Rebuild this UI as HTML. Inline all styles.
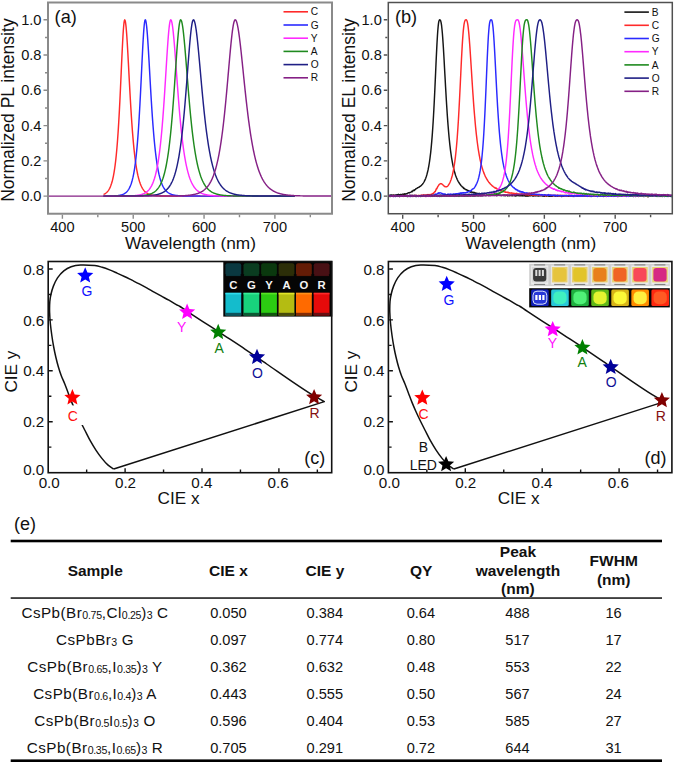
<!DOCTYPE html><html><head><meta charset="utf-8"><title>figure</title><style>html,body{margin:0;padding:0;background:#fff;overflow:hidden}svg{display:block}</style></head><body>
<svg width="675" height="765" viewBox="0 0 675 765">
<rect width="675" height="765" fill="#fff"/>
<g fill="none" stroke-width="1.45" stroke-linejoin="round">
<path d="M103.48,194.46 L103.84,194.3 L104.19,194.13 L104.54,193.95 L104.9,193.75 L105.25,193.53 L105.61,193.29 L105.96,193.02 L106.31,192.74 L106.67,192.42 L107.02,192.08 L107.38,191.7 L107.73,191.29 L108.09,190.84 L108.44,190.35 L108.79,189.81 L109.15,189.22 L109.5,188.58 L109.86,187.88 L110.21,187.11 L110.56,186.27 L110.92,185.35 L111.27,184.34 L111.63,183.25 L111.98,182.05 L112.34,180.74 L112.69,179.31 L113.04,177.74 L113.4,176.03 L113.75,174.17 L114.11,172.14 L114.46,169.92 L114.81,167.5 L115.17,164.86 L115.52,161.99 L115.88,158.87 L116.23,155.47 L116.58,151.78 L116.94,147.79 L117.29,143.46 L117.65,138.79 L118,133.76 L118.36,128.36 L118.71,122.57 L119.06,116.4 L119.42,109.85 L119.77,102.95 L120.13,95.71 L120.48,88.2 L120.83,80.47 L121.19,72.61 L121.54,64.74 L121.9,56.98 L122.25,49.5 L122.61,42.47 L122.96,36.08 L123.31,30.52 L123.67,25.97 L124.02,22.59 L124.38,20.5 L124.73,19.8 L125.08,20.31 L125.44,21.83 L125.79,24.31 L126.15,27.69 L126.5,31.87 L126.86,36.75 L127.21,42.22 L127.56,48.16 L127.92,54.45 L128.27,60.98 L128.63,67.65 L128.98,74.36 L129.33,81.05 L129.69,87.63 L130.04,94.06 L130.4,100.3 L130.75,106.31 L131.11,112.07 L131.46,117.57 L131.81,122.79 L132.17,127.73 L132.52,132.4 L132.88,136.79 L133.23,140.91 L133.58,144.78 L133.94,148.4 L134.29,151.78 L134.65,154.94 L135,157.89 L135.35,160.63 L135.71,163.19 L136.06,165.57 L136.42,167.78 L136.77,169.83 L137.13,171.74 L137.48,173.51 L137.83,175.16 L138.19,176.68 L138.54,178.1 L138.9,179.42 L139.25,180.64 L139.6,181.77 L139.96,182.81 L140.31,183.79 L140.67,184.69 L141.02,185.52 L141.38,186.3 L141.73,187.02 L142.08,187.68 L142.44,188.3 L142.79,188.87 L143.15,189.4 L143.5,189.89 L143.85,190.35 L144.21,190.77 L144.56,191.16 L144.92,191.52 L145.27,191.86 L145.63,192.17 L145.98,192.46 L146.33,192.73 L146.69,192.97 L147.04,193.2 L147.4,193.42 L147.75,193.61 L148.1,193.79 L148.46,193.96 L148.81,194.12 L149.17,194.27 L149.52,194.4 L149.88,194.53 L150.23,194.64 L150.58,194.75 L150.94,194.85 L151.29,194.94 L151.65,195.02 L152,195.1 L152.35,195.18 L152.71,195.24 L153.06,195.31 L153.42,195.37 L153.77,195.42 L154.12,195.47 L154.48,195.52 L154.83,195.56 L155.19,195.6 L155.54,195.63 L155.9,195.67 L156.25,195.7 L156.6,195.73 L156.96,195.76 L157.31,195.78 L157.67,195.81 L158.02,195.83 L158.37,195.85 L158.73,195.87 L159.08,195.88 L159.44,195.9 L159.79,195.91 L160.15,195.93 L160.5,195.94 L160.85,195.95 L161.21,195.96 L161.56,195.97 L161.92,195.98 L162.27,195.99 L162.62,196 L162.98,196.01 L163.33,196.01 L163.69,196.02 L164.04,196.03 L164.4,196.03 L164.75,196.04 L165.1,196.04 L165.46,196.04 L165.81,196.05 L166.17,196.05 L166.52,196.06 L166.87,196.06 L167.23,196.06 L167.58,196.07 L167.94,196.07 L168.29,196.07 L168.65,196.07 L169,196.07 L169.35,196.08 L169.71,196.08 L170.06,196.08 L170.42,196.08 L170.77,196.08 L171.12,196.08 L171.48,196.08 L171.83,196.09 L172.19,196.09 L172.54,196.09 L172.89,196.09 L173.25,196.09 L173.6,196.09 L173.96,196.09 L174.31,196.09 L174.67,196.09 L175.02,196.09 L175.37,196.09 L175.73,196.09 L176.08,196.09 L176.44,196.09 L176.79,196.1 L177.14,196.1 L177.5,196.1 L177.85,196.1 L178.21,196.1 L178.56,196.1 L178.92,196.1 L179.27,196.1 L179.62,196.1 L179.98,196.1 L180.33,196.1 L180.69,196.1 L181.04,196.1 L181.39,196.1 L181.75,196.1 L182.1,196.1 L182.46,196.1 L182.81,196.1 L183.17,196.1 L183.52,196.1 L183.87,196.1 L184.23,196.1 L184.58,196.1 L184.94,196.1 L185.29,196.1 L185.64,196.1 L186,196.1 L186.35,196.1 L186.71,196.1 L187.06,196.1 L187.41,196.1 L187.77,196.1 L188.12,196.1 L188.48,196.1 L188.83,196.1 L189.19,196.1 L189.54,196.1 L189.89,196.1 L190.25,196.1 L190.6,196.1 L190.96,196.1 L191.31,196.1 L191.66,196.1 L192.02,196.1 L192.37,196.1 L192.73,196.1 L193.08,196.1 L193.44,196.1 L193.79,196.1 L194.14,196.1 L194.5,196.1 L194.85,196.1 L195.21,196.1 L195.56,196.1 L195.91,196.1 L196.27,196.1 L196.62,196.1 L196.98,196.1 L197.33,196.1 L197.69,196.1 L198.04,196.1 L198.39,196.1 L198.75,196.1 L199.1,196.1 L199.46,196.1 L199.81,196.1 L200.16,196.1 L200.52,196.1 L200.87,196.1 L201.23,196.1 L201.58,196.1 L201.94,196.1 L202.29,196.1 L202.64,196.1 L203,196.1 L203.35,196.1 L203.71,196.1 L204.06,196.1 L204.41,196.1 L204.77,196.1 L205.12,196.1 L205.48,196.1 L205.83,196.1 L206.18,196.1 L206.54,196.1 L206.89,196.1 L207.25,196.1 L207.6,196.1 L207.96,196.1 L208.31,196.1 L208.66,196.1 L209.02,196.1 L209.37,196.1 L209.73,196.1 L210.08,196.1 L210.43,196.1 L210.79,196.1 L211.14,196.1 L211.5,196.1 L211.85,196.1 L212.21,196.1 L212.56,196.1 L212.91,196.1 L213.27,196.1 L213.62,196.1 L213.98,196.1 L214.33,196.1 L214.68,196.1 L215.04,196.1 L215.39,196.1 L215.75,196.1 L216.1,196.1 L216.46,196.1 L216.81,196.1 L217.16,196.1 L217.52,196.1 L217.87,196.1 L218.23,196.1 L218.58,196.1 L218.93,196.1 L219.29,196.1 L219.64,196.1 L220,196.1 L220.35,196.1 L220.71,196.1 L221.06,196.1 L221.41,196.1 L221.77,196.1 L222.12,196.1 L222.48,196.1 L222.83,196.1 L223.18,196.1 L223.54,196.1 L223.89,196.1 L224.25,196.1 L224.6,196.1 L224.95,196.1 L225.31,196.1 L225.66,196.1 L226.02,196.1 L226.37,196.1 L226.73,196.1 L227.08,196.1 L227.43,196.1 L227.79,196.1 L228.14,196.1 L228.5,196.1 L228.85,196.1 L229.2,196.1 L229.56,196.1 L229.91,196.1 L230.27,196.1 L230.62,196.1 L230.98,196.1 L231.33,196.1 L231.68,196.1 L232.04,196.1 L232.39,196.1 L232.75,196.1 L233.1,196.1 L233.45,196.1 L233.81,196.1 L234.16,196.1 L234.52,196.1 L234.87,196.1 L235.23,196.1 L235.58,196.1 L235.93,196.1 L236.29,196.1 L236.64,196.1 L237,196.1 L237.35,196.1 L237.7,196.1 L238.06,196.1 L238.41,196.1 L238.77,196.1 L239.12,196.1 L239.48,196.1 L239.83,196.1 L240.18,196.1 L240.54,196.1 L240.89,196.1 L241.25,196.1 L241.6,196.1 L241.95,196.1 L242.31,196.1 L242.66,196.1 L243.02,196.1 L243.37,196.1 L243.72,196.1 L244.08,196.1 L244.43,196.1 L244.79,196.1 L245.14,196.1 L245.5,196.1 L245.85,196.1 L246.2,196.1 L246.56,196.1 L246.91,196.1 L247.27,196.1 L247.62,196.1 L247.97,196.1 L248.33,196.1 L248.68,196.1 L249.04,196.1 L249.39,196.1 L249.75,196.1 L250.1,196.1 L250.45,196.1 L250.81,196.1 L251.16,196.1 L251.52,196.1 L251.87,196.1 L252.22,196.1 L252.58,196.1 L252.93,196.1 L253.29,196.1 L253.64,196.1 L254,196.1 L254.35,196.1 L254.7,196.1 L255.06,196.1 L255.41,196.1 L255.77,196.1 L256.12,196.1 L256.47,196.1 L256.83,196.1 L257.18,196.1 L257.54,196.1 L257.89,196.1 L258.24,196.1 L258.6,196.1 L258.95,196.1 L259.31,196.1 L259.66,196.1 L260.02,196.1 L260.37,196.1 L260.72,196.1 L261.08,196.1 L261.43,196.1 L261.79,196.1 L262.14,196.1 L262.49,196.1 L262.85,196.1 L263.2,196.1 L263.56,196.1 L263.91,196.1 L264.27,196.1 L264.62,196.1 L264.97,196.1 L265.33,196.1 L265.68,196.1 L266.04,196.1 L266.39,196.1 L266.74,196.1 L267.1,196.1 L267.45,196.1 L267.81,196.1 L268.16,196.1 L268.52,196.1 L268.87,196.1 L269.22,196.1 L269.58,196.1 L269.93,196.1 L270.29,196.1 L270.64,196.1 L270.99,196.1 L271.35,196.1 L271.7,196.1 L272.06,196.1 L272.41,196.1 L272.77,196.1 L273.12,196.1 L273.47,196.1 L273.83,196.1 L274.18,196.1 L274.54,196.1 L274.89,196.1 L275.24,196.1 L275.6,196.1 L275.95,196.1 L276.31,196.1 L276.66,196.1 L277.01,196.1 L277.37,196.1 L277.72,196.1 L278.08,196.1 L278.43,196.1 L278.79,196.1 L279.14,196.1 L279.49,196.1 L279.85,196.1 L280.2,196.1 L280.56,196.1 L280.91,196.1 L281.26,196.1 L281.62,196.1 L281.97,196.1 L282.33,196.1 L282.68,196.1 L283.04,196.1 L283.39,196.1 L283.74,196.1 L284.1,196.1 L284.45,196.1 L284.81,196.1 L285.16,196.1 L285.51,196.1 L285.87,196.1 L286.22,196.1 L286.58,196.1 L286.93,196.1 L287.29,196.1 L287.64,196.1 L287.99,196.1 L288.35,196.1 L288.7,196.1 L289.06,196.1 L289.41,196.1 L289.76,196.1 L290.12,196.1 L290.47,196.1 L290.83,196.1 L291.18,196.1 L291.54,196.1 L291.89,196.1 L292.24,196.1 L292.6,196.1 L292.95,196.1 L293.31,196.1 L293.66,196.1 L294.01,196.1 L294.37,196.1 L294.72,196.1" stroke="#ff2a2a"/>
<path d="M103.48,196.08 L103.84,196.08 L104.19,196.08 L104.54,196.08 L104.9,196.08 L105.25,196.07 L105.61,196.07 L105.96,196.07 L106.31,196.07 L106.67,196.06 L107.02,196.06 L107.38,196.06 L107.73,196.05 L108.09,196.05 L108.44,196.04 L108.79,196.04 L109.15,196.03 L109.5,196.03 L109.86,196.02 L110.21,196.02 L110.56,196.01 L110.92,196 L111.27,195.99 L111.63,195.98 L111.98,195.97 L112.34,195.96 L112.69,195.95 L113.04,195.93 L113.4,195.92 L113.75,195.9 L114.11,195.89 L114.46,195.87 L114.81,195.85 L115.17,195.83 L115.52,195.8 L115.88,195.77 L116.23,195.75 L116.58,195.72 L116.94,195.68 L117.29,195.64 L117.65,195.6 L118,195.56 L118.36,195.51 L118.71,195.46 L119.06,195.41 L119.42,195.35 L119.77,195.28 L120.13,195.21 L120.48,195.13 L120.83,195.04 L121.19,194.95 L121.54,194.85 L121.9,194.74 L122.25,194.62 L122.61,194.49 L122.96,194.35 L123.31,194.2 L123.67,194.03 L124.02,193.85 L124.38,193.65 L124.73,193.43 L125.08,193.2 L125.44,192.94 L125.79,192.67 L126.15,192.36 L126.5,192.04 L126.86,191.68 L127.21,191.29 L127.56,190.87 L127.92,190.41 L128.27,189.91 L128.63,189.37 L128.98,188.77 L129.33,188.13 L129.69,187.43 L130.04,186.67 L130.4,185.84 L130.75,184.95 L131.11,183.97 L131.46,182.9 L131.81,181.75 L132.17,180.49 L132.52,179.13 L132.88,177.65 L133.23,176.03 L133.58,174.28 L133.94,172.38 L134.29,170.32 L134.65,168.08 L135,165.66 L135.35,163.03 L135.71,160.18 L136.06,157.1 L136.42,153.77 L136.77,150.18 L137.13,146.3 L137.48,142.13 L137.83,137.64 L138.19,132.84 L138.54,127.7 L138.9,122.22 L139.25,116.4 L139.6,110.25 L139.96,103.78 L140.31,97.01 L140.67,89.99 L141.02,82.76 L141.38,75.39 L141.73,67.97 L142.08,60.61 L142.44,53.42 L142.79,46.54 L143.15,40.13 L143.5,34.35 L143.85,29.35 L144.21,25.28 L144.56,22.27 L144.92,20.42 L145.27,19.8 L145.63,20.25 L145.98,21.6 L146.33,23.8 L146.69,26.82 L147.04,30.56 L147.4,34.96 L147.75,39.91 L148.1,45.32 L148.46,51.08 L148.81,57.12 L149.17,63.32 L149.52,69.62 L149.88,75.94 L150.23,82.22 L150.58,88.4 L150.94,94.44 L151.29,100.3 L151.65,105.97 L152,111.41 L152.35,116.62 L152.71,121.59 L153.06,126.31 L153.42,130.78 L153.77,135.01 L154.12,139 L154.48,142.76 L154.83,146.3 L155.19,149.62 L155.54,152.74 L155.9,155.65 L156.25,158.39 L156.6,160.94 L156.96,163.33 L157.31,165.57 L157.67,167.65 L158.02,169.6 L158.37,171.41 L158.73,173.11 L159.08,174.69 L159.44,176.16 L159.79,177.53 L160.15,178.81 L160.5,180 L160.85,181.11 L161.21,182.15 L161.56,183.11 L161.92,184.01 L162.27,184.84 L162.62,185.62 L162.98,186.34 L163.33,187.02 L163.69,187.65 L164.04,188.23 L164.4,188.77 L164.75,189.28 L165.1,189.75 L165.46,190.19 L165.81,190.6 L166.17,190.98 L166.52,191.34 L166.87,191.67 L167.23,191.97 L167.58,192.26 L167.94,192.52 L168.29,192.77 L168.65,193 L169,193.22 L169.35,193.42 L169.71,193.6 L170.06,193.77 L170.42,193.94 L170.77,194.09 L171.12,194.22 L171.48,194.35 L171.83,194.48 L172.19,194.59 L172.54,194.69 L172.89,194.79 L173.25,194.88 L173.6,194.96 L173.96,195.04 L174.31,195.12 L174.67,195.18 L175.02,195.25 L175.37,195.31 L175.73,195.36 L176.08,195.41 L176.44,195.46 L176.79,195.5 L177.14,195.55 L177.5,195.58 L177.85,195.62 L178.21,195.65 L178.56,195.68 L178.92,195.71 L179.27,195.74 L179.62,195.76 L179.98,195.79 L180.33,195.81 L180.69,195.83 L181.04,195.85 L181.39,195.87 L181.75,195.88 L182.1,195.9 L182.46,195.91 L182.81,195.92 L183.17,195.94 L183.52,195.95 L183.87,195.96 L184.23,195.97 L184.58,195.98 L184.94,195.99 L185.29,195.99 L185.64,196 L186,196.01 L186.35,196.01 L186.71,196.02 L187.06,196.03 L187.41,196.03 L187.77,196.04 L188.12,196.04 L188.48,196.04 L188.83,196.05 L189.19,196.05 L189.54,196.06 L189.89,196.06 L190.25,196.06 L190.6,196.06 L190.96,196.07 L191.31,196.07 L191.66,196.07 L192.02,196.07 L192.37,196.07 L192.73,196.08 L193.08,196.08 L193.44,196.08 L193.79,196.08 L194.14,196.08 L194.5,196.08 L194.85,196.08 L195.21,196.09 L195.56,196.09 L195.91,196.09 L196.27,196.09 L196.62,196.09 L196.98,196.09 L197.33,196.09 L197.69,196.09 L198.04,196.09 L198.39,196.09 L198.75,196.09 L199.1,196.09 L199.46,196.09 L199.81,196.09 L200.16,196.09 L200.52,196.1 L200.87,196.1 L201.23,196.1 L201.58,196.1 L201.94,196.1 L202.29,196.1 L202.64,196.1 L203,196.1 L203.35,196.1 L203.71,196.1 L204.06,196.1 L204.41,196.1 L204.77,196.1 L205.12,196.1 L205.48,196.1 L205.83,196.1 L206.18,196.1 L206.54,196.1 L206.89,196.1 L207.25,196.1 L207.6,196.1 L207.96,196.1 L208.31,196.1 L208.66,196.1 L209.02,196.1 L209.37,196.1 L209.73,196.1 L210.08,196.1 L210.43,196.1 L210.79,196.1 L211.14,196.1 L211.5,196.1 L211.85,196.1 L212.21,196.1 L212.56,196.1 L212.91,196.1 L213.27,196.1 L213.62,196.1 L213.98,196.1 L214.33,196.1 L214.68,196.1 L215.04,196.1 L215.39,196.1 L215.75,196.1 L216.1,196.1 L216.46,196.1 L216.81,196.1 L217.16,196.1 L217.52,196.1 L217.87,196.1 L218.23,196.1 L218.58,196.1 L218.93,196.1 L219.29,196.1 L219.64,196.1 L220,196.1 L220.35,196.1 L220.71,196.1 L221.06,196.1 L221.41,196.1 L221.77,196.1 L222.12,196.1 L222.48,196.1 L222.83,196.1 L223.18,196.1 L223.54,196.1 L223.89,196.1 L224.25,196.1 L224.6,196.1 L224.95,196.1 L225.31,196.1 L225.66,196.1 L226.02,196.1 L226.37,196.1 L226.73,196.1 L227.08,196.1 L227.43,196.1 L227.79,196.1 L228.14,196.1 L228.5,196.1 L228.85,196.1 L229.2,196.1 L229.56,196.1 L229.91,196.1 L230.27,196.1 L230.62,196.1 L230.98,196.1 L231.33,196.1 L231.68,196.1 L232.04,196.1 L232.39,196.1 L232.75,196.1 L233.1,196.1 L233.45,196.1 L233.81,196.1 L234.16,196.1 L234.52,196.1 L234.87,196.1 L235.23,196.1 L235.58,196.1 L235.93,196.1 L236.29,196.1 L236.64,196.1 L237,196.1 L237.35,196.1 L237.7,196.1 L238.06,196.1 L238.41,196.1 L238.77,196.1 L239.12,196.1 L239.48,196.1 L239.83,196.1 L240.18,196.1 L240.54,196.1 L240.89,196.1 L241.25,196.1 L241.6,196.1 L241.95,196.1 L242.31,196.1 L242.66,196.1 L243.02,196.1 L243.37,196.1 L243.72,196.1 L244.08,196.1 L244.43,196.1 L244.79,196.1 L245.14,196.1 L245.5,196.1 L245.85,196.1 L246.2,196.1 L246.56,196.1 L246.91,196.1 L247.27,196.1 L247.62,196.1 L247.97,196.1 L248.33,196.1 L248.68,196.1 L249.04,196.1 L249.39,196.1 L249.75,196.1 L250.1,196.1 L250.45,196.1 L250.81,196.1 L251.16,196.1 L251.52,196.1 L251.87,196.1 L252.22,196.1 L252.58,196.1 L252.93,196.1 L253.29,196.1 L253.64,196.1 L254,196.1 L254.35,196.1 L254.7,196.1 L255.06,196.1 L255.41,196.1 L255.77,196.1 L256.12,196.1 L256.47,196.1 L256.83,196.1 L257.18,196.1 L257.54,196.1 L257.89,196.1 L258.24,196.1 L258.6,196.1 L258.95,196.1 L259.31,196.1 L259.66,196.1 L260.02,196.1 L260.37,196.1 L260.72,196.1 L261.08,196.1 L261.43,196.1 L261.79,196.1 L262.14,196.1 L262.49,196.1 L262.85,196.1 L263.2,196.1 L263.56,196.1 L263.91,196.1 L264.27,196.1 L264.62,196.1 L264.97,196.1 L265.33,196.1 L265.68,196.1 L266.04,196.1 L266.39,196.1 L266.74,196.1 L267.1,196.1 L267.45,196.1 L267.81,196.1 L268.16,196.1 L268.52,196.1 L268.87,196.1 L269.22,196.1 L269.58,196.1 L269.93,196.1 L270.29,196.1 L270.64,196.1 L270.99,196.1 L271.35,196.1 L271.7,196.1 L272.06,196.1 L272.41,196.1 L272.77,196.1 L273.12,196.1 L273.47,196.1 L273.83,196.1 L274.18,196.1 L274.54,196.1 L274.89,196.1 L275.24,196.1 L275.6,196.1 L275.95,196.1 L276.31,196.1 L276.66,196.1 L277.01,196.1 L277.37,196.1 L277.72,196.1 L278.08,196.1 L278.43,196.1 L278.79,196.1 L279.14,196.1 L279.49,196.1 L279.85,196.1 L280.2,196.1 L280.56,196.1 L280.91,196.1 L281.26,196.1 L281.62,196.1 L281.97,196.1 L282.33,196.1 L282.68,196.1 L283.04,196.1 L283.39,196.1 L283.74,196.1 L284.1,196.1 L284.45,196.1 L284.81,196.1 L285.16,196.1 L285.51,196.1 L285.87,196.1 L286.22,196.1 L286.58,196.1 L286.93,196.1 L287.29,196.1 L287.64,196.1 L287.99,196.1 L288.35,196.1 L288.7,196.1 L289.06,196.1 L289.41,196.1 L289.76,196.1 L290.12,196.1 L290.47,196.1 L290.83,196.1 L291.18,196.1 L291.54,196.1 L291.89,196.1 L292.24,196.1 L292.6,196.1 L292.95,196.1 L293.31,196.1 L293.66,196.1 L294.01,196.1 L294.37,196.1 L294.72,196.1" stroke="#2a2aff"/>
<path d="M103.48,196.1 L103.84,196.1 L104.19,196.1 L104.54,196.1 L104.9,196.1 L105.25,196.1 L105.61,196.1 L105.96,196.1 L106.31,196.1 L106.67,196.1 L107.02,196.1 L107.38,196.1 L107.73,196.1 L108.09,196.1 L108.44,196.1 L108.79,196.1 L109.15,196.1 L109.5,196.1 L109.86,196.1 L110.21,196.09 L110.56,196.09 L110.92,196.09 L111.27,196.09 L111.63,196.09 L111.98,196.09 L112.34,196.09 L112.69,196.09 L113.04,196.09 L113.4,196.09 L113.75,196.09 L114.11,196.09 L114.46,196.09 L114.81,196.09 L115.17,196.09 L115.52,196.09 L115.88,196.09 L116.23,196.08 L116.58,196.08 L116.94,196.08 L117.29,196.08 L117.65,196.08 L118,196.08 L118.36,196.08 L118.71,196.08 L119.06,196.07 L119.42,196.07 L119.77,196.07 L120.13,196.07 L120.48,196.07 L120.83,196.06 L121.19,196.06 L121.54,196.06 L121.9,196.06 L122.25,196.05 L122.61,196.05 L122.96,196.05 L123.31,196.04 L123.67,196.04 L124.02,196.03 L124.38,196.03 L124.73,196.03 L125.08,196.02 L125.44,196.01 L125.79,196.01 L126.15,196 L126.5,196 L126.86,195.99 L127.21,195.98 L127.56,195.97 L127.92,195.97 L128.27,195.96 L128.63,195.95 L128.98,195.94 L129.33,195.93 L129.69,195.91 L130.04,195.9 L130.4,195.89 L130.75,195.87 L131.11,195.86 L131.46,195.84 L131.81,195.83 L132.17,195.81 L132.52,195.79 L132.88,195.77 L133.23,195.74 L133.58,195.72 L133.94,195.69 L134.29,195.67 L134.65,195.64 L135,195.61 L135.35,195.57 L135.71,195.54 L136.06,195.5 L136.42,195.46 L136.77,195.42 L137.13,195.37 L137.48,195.32 L137.83,195.27 L138.19,195.21 L138.54,195.15 L138.9,195.09 L139.25,195.02 L139.6,194.95 L139.96,194.87 L140.31,194.79 L140.67,194.7 L141.02,194.61 L141.38,194.51 L141.73,194.4 L142.08,194.29 L142.44,194.17 L142.79,194.04 L143.15,193.9 L143.5,193.75 L143.85,193.59 L144.21,193.42 L144.56,193.24 L144.92,193.05 L145.27,192.84 L145.63,192.63 L145.98,192.39 L146.33,192.14 L146.69,191.88 L147.04,191.59 L147.4,191.29 L147.75,190.97 L148.1,190.62 L148.46,190.25 L148.81,189.86 L149.17,189.44 L149.52,189 L149.88,188.52 L150.23,188.01 L150.58,187.47 L150.94,186.89 L151.29,186.27 L151.65,185.61 L152,184.9 L152.35,184.15 L152.71,183.35 L153.06,182.5 L153.42,181.58 L153.77,180.61 L154.12,179.57 L154.48,178.47 L154.83,177.29 L155.19,176.03 L155.54,174.69 L155.9,173.27 L156.25,171.75 L156.6,170.13 L156.96,168.4 L157.31,166.56 L157.67,164.61 L158.02,162.53 L158.37,160.32 L158.73,157.97 L159.08,155.47 L159.44,152.82 L159.79,150.01 L160.15,147.03 L160.5,143.87 L160.85,140.53 L161.21,137.01 L161.56,133.29 L161.92,129.37 L162.27,125.25 L162.62,120.92 L162.98,116.4 L163.33,111.67 L163.69,106.76 L164.04,101.65 L164.4,96.38 L164.75,90.96 L165.1,85.41 L165.46,79.76 L165.81,74.05 L166.17,68.31 L166.52,62.61 L166.87,56.98 L167.23,51.51 L167.58,46.24 L167.94,41.26 L168.29,36.63 L168.65,32.43 L169,28.74 L169.35,25.61 L169.71,23.11 L170.06,21.28 L170.42,20.17 L170.77,19.8 L171.12,20.07 L171.48,20.88 L171.83,22.21 L172.19,24.05 L172.54,26.36 L172.89,29.12 L173.25,32.29 L173.6,35.82 L173.96,39.67 L174.31,43.8 L174.67,48.16 L175.02,52.71 L175.37,57.4 L175.73,62.19 L176.08,67.04 L176.44,71.92 L176.79,76.8 L177.14,81.65 L177.5,86.44 L177.85,91.16 L178.21,95.79 L178.56,100.3 L178.92,104.7 L179.27,108.96 L179.62,113.09 L179.98,117.08 L180.33,120.92 L180.69,124.62 L181.04,128.17 L181.39,131.57 L181.75,134.83 L182.1,137.94 L182.46,140.91 L182.81,143.75 L183.17,146.46 L183.52,149.03 L183.87,151.49 L184.23,153.82 L184.58,156.04 L184.94,158.15 L185.29,160.15 L185.64,162.05 L186,163.85 L186.35,165.57 L186.71,167.19 L187.06,168.73 L187.41,170.19 L187.77,171.57 L188.12,172.88 L188.48,174.12 L188.83,175.3 L189.19,176.41 L189.54,177.47 L189.89,178.47 L190.25,179.42 L190.6,180.31 L190.96,181.16 L191.31,181.96 L191.66,182.72 L192.02,183.44 L192.37,184.12 L192.73,184.77 L193.08,185.38 L193.44,185.95 L193.79,186.5 L194.14,187.02 L194.5,187.51 L194.85,187.97 L195.21,188.41 L195.56,188.82 L195.91,189.21 L196.27,189.59 L196.62,189.94 L196.98,190.27 L197.33,190.58 L197.69,190.88 L198.04,191.16 L198.39,191.43 L198.75,191.68 L199.1,191.92 L199.46,192.14 L199.81,192.36 L200.16,192.56 L200.52,192.75 L200.87,192.93 L201.23,193.1 L201.58,193.26 L201.94,193.42 L202.29,193.56 L202.64,193.7 L203,193.83 L203.35,193.95 L203.71,194.07 L204.06,194.17 L204.41,194.28 L204.77,194.38 L205.12,194.47 L205.48,194.56 L205.83,194.64 L206.18,194.72 L206.54,194.79 L206.89,194.86 L207.25,194.93 L207.6,194.99 L207.96,195.05 L208.31,195.11 L208.66,195.16 L209.02,195.21 L209.37,195.26 L209.73,195.31 L210.08,195.35 L210.43,195.39 L210.79,195.43 L211.14,195.46 L211.5,195.5 L211.85,195.53 L212.21,195.56 L212.56,195.59 L212.91,195.62 L213.27,195.64 L213.62,195.67 L213.98,195.69 L214.33,195.71 L214.68,195.74 L215.04,195.75 L215.39,195.77 L215.75,195.79 L216.1,195.81 L216.46,195.82 L216.81,195.84 L217.16,195.85 L217.52,195.87 L217.87,195.88 L218.23,195.89 L218.58,195.9 L218.93,195.91 L219.29,195.92 L219.64,195.93 L220,195.94 L220.35,195.95 L220.71,195.96 L221.06,195.97 L221.41,195.97 L221.77,195.98 L222.12,195.99 L222.48,195.99 L222.83,196 L223.18,196 L223.54,196.01 L223.89,196.01 L224.25,196.02 L224.6,196.02 L224.95,196.03 L225.31,196.03 L225.66,196.03 L226.02,196.04 L226.37,196.04 L226.73,196.04 L227.08,196.05 L227.43,196.05 L227.79,196.05 L228.14,196.06 L228.5,196.06 L228.85,196.06 L229.2,196.06 L229.56,196.06 L229.91,196.07 L230.27,196.07 L230.62,196.07 L230.98,196.07 L231.33,196.07 L231.68,196.07 L232.04,196.08 L232.39,196.08 L232.75,196.08 L233.1,196.08 L233.45,196.08 L233.81,196.08 L234.16,196.08 L234.52,196.08 L234.87,196.08 L235.23,196.09 L235.58,196.09 L235.93,196.09 L236.29,196.09 L236.64,196.09 L237,196.09 L237.35,196.09 L237.7,196.09 L238.06,196.09 L238.41,196.09 L238.77,196.09 L239.12,196.09 L239.48,196.09 L239.83,196.09 L240.18,196.09 L240.54,196.09 L240.89,196.09 L241.25,196.09 L241.6,196.09 L241.95,196.09 L242.31,196.1 L242.66,196.1 L243.02,196.1 L243.37,196.1 L243.72,196.1 L244.08,196.1 L244.43,196.1 L244.79,196.1 L245.14,196.1 L245.5,196.1 L245.85,196.1 L246.2,196.1 L246.56,196.1 L246.91,196.1 L247.27,196.1 L247.62,196.1 L247.97,196.1 L248.33,196.1 L248.68,196.1 L249.04,196.1 L249.39,196.1 L249.75,196.1 L250.1,196.1 L250.45,196.1 L250.81,196.1 L251.16,196.1 L251.52,196.1 L251.87,196.1 L252.22,196.1 L252.58,196.1 L252.93,196.1 L253.29,196.1 L253.64,196.1 L254,196.1 L254.35,196.1 L254.7,196.1 L255.06,196.1 L255.41,196.1 L255.77,196.1 L256.12,196.1 L256.47,196.1 L256.83,196.1 L257.18,196.1 L257.54,196.1 L257.89,196.1 L258.24,196.1 L258.6,196.1 L258.95,196.1 L259.31,196.1 L259.66,196.1 L260.02,196.1 L260.37,196.1 L260.72,196.1 L261.08,196.1 L261.43,196.1 L261.79,196.1 L262.14,196.1 L262.49,196.1 L262.85,196.1 L263.2,196.1 L263.56,196.1 L263.91,196.1 L264.27,196.1 L264.62,196.1 L264.97,196.1 L265.33,196.1 L265.68,196.1 L266.04,196.1 L266.39,196.1 L266.74,196.1 L267.1,196.1 L267.45,196.1 L267.81,196.1 L268.16,196.1 L268.52,196.1 L268.87,196.1 L269.22,196.1 L269.58,196.1 L269.93,196.1 L270.29,196.1 L270.64,196.1 L270.99,196.1 L271.35,196.1 L271.7,196.1 L272.06,196.1 L272.41,196.1 L272.77,196.1 L273.12,196.1 L273.47,196.1 L273.83,196.1 L274.18,196.1 L274.54,196.1 L274.89,196.1 L275.24,196.1 L275.6,196.1 L275.95,196.1 L276.31,196.1 L276.66,196.1 L277.01,196.1 L277.37,196.1 L277.72,196.1 L278.08,196.1 L278.43,196.1 L278.79,196.1 L279.14,196.1 L279.49,196.1 L279.85,196.1 L280.2,196.1 L280.56,196.1 L280.91,196.1 L281.26,196.1 L281.62,196.1 L281.97,196.1 L282.33,196.1 L282.68,196.1 L283.04,196.1 L283.39,196.1 L283.74,196.1 L284.1,196.1 L284.45,196.1 L284.81,196.1 L285.16,196.1 L285.51,196.1 L285.87,196.1 L286.22,196.1 L286.58,196.1 L286.93,196.1 L287.29,196.1 L287.64,196.1 L287.99,196.1 L288.35,196.1 L288.7,196.1 L289.06,196.1 L289.41,196.1 L289.76,196.1 L290.12,196.1 L290.47,196.1 L290.83,196.1 L291.18,196.1 L291.54,196.1 L291.89,196.1 L292.24,196.1 L292.6,196.1 L292.95,196.1 L293.31,196.1 L293.66,196.1 L294.01,196.1 L294.37,196.1 L294.72,196.1" stroke="#ff2aff"/>
<path d="M103.48,196.1 L103.84,196.1 L104.19,196.1 L104.54,196.1 L104.9,196.1 L105.25,196.1 L105.61,196.1 L105.96,196.1 L106.31,196.1 L106.67,196.1 L107.02,196.1 L107.38,196.1 L107.73,196.1 L108.09,196.1 L108.44,196.1 L108.79,196.1 L109.15,196.1 L109.5,196.1 L109.86,196.1 L110.21,196.1 L110.56,196.1 L110.92,196.1 L111.27,196.1 L111.63,196.1 L111.98,196.1 L112.34,196.1 L112.69,196.1 L113.04,196.1 L113.4,196.1 L113.75,196.1 L114.11,196.1 L114.46,196.09 L114.81,196.09 L115.17,196.09 L115.52,196.09 L115.88,196.09 L116.23,196.09 L116.58,196.09 L116.94,196.09 L117.29,196.09 L117.65,196.09 L118,196.09 L118.36,196.09 L118.71,196.09 L119.06,196.09 L119.42,196.09 L119.77,196.09 L120.13,196.09 L120.48,196.09 L120.83,196.09 L121.19,196.08 L121.54,196.08 L121.9,196.08 L122.25,196.08 L122.61,196.08 L122.96,196.08 L123.31,196.08 L123.67,196.08 L124.02,196.07 L124.38,196.07 L124.73,196.07 L125.08,196.07 L125.44,196.07 L125.79,196.07 L126.15,196.06 L126.5,196.06 L126.86,196.06 L127.21,196.06 L127.56,196.05 L127.92,196.05 L128.27,196.05 L128.63,196.05 L128.98,196.04 L129.33,196.04 L129.69,196.03 L130.04,196.03 L130.4,196.03 L130.75,196.02 L131.11,196.02 L131.46,196.01 L131.81,196.01 L132.17,196 L132.52,195.99 L132.88,195.99 L133.23,195.98 L133.58,195.97 L133.94,195.97 L134.29,195.96 L134.65,195.95 L135,195.94 L135.35,195.93 L135.71,195.92 L136.06,195.91 L136.42,195.9 L136.77,195.88 L137.13,195.87 L137.48,195.86 L137.83,195.84 L138.19,195.83 L138.54,195.81 L138.9,195.79 L139.25,195.77 L139.6,195.75 L139.96,195.73 L140.31,195.71 L140.67,195.68 L141.02,195.66 L141.38,195.63 L141.73,195.6 L142.08,195.57 L142.44,195.54 L142.79,195.5 L143.15,195.47 L143.5,195.43 L143.85,195.39 L144.21,195.34 L144.56,195.3 L144.92,195.25 L145.27,195.19 L145.63,195.14 L145.98,195.08 L146.33,195.02 L146.69,194.95 L147.04,194.88 L147.4,194.8 L147.75,194.73 L148.1,194.64 L148.46,194.55 L148.81,194.46 L149.17,194.36 L149.52,194.25 L149.88,194.13 L150.23,194.01 L150.58,193.88 L150.94,193.75 L151.29,193.6 L151.65,193.45 L152,193.29 L152.35,193.12 L152.71,192.93 L153.06,192.74 L153.42,192.53 L153.77,192.31 L154.12,192.08 L154.48,191.83 L154.83,191.57 L155.19,191.29 L155.54,191 L155.9,190.68 L156.25,190.35 L156.6,190 L156.96,189.62 L157.31,189.22 L157.67,188.8 L158.02,188.35 L158.37,187.88 L158.73,187.37 L159.08,186.84 L159.44,186.27 L159.79,185.66 L160.15,185.02 L160.5,184.34 L160.85,183.62 L161.21,182.86 L161.56,182.05 L161.92,181.19 L162.27,180.27 L162.62,179.31 L162.98,178.28 L163.33,177.19 L163.69,176.03 L164.04,174.81 L164.4,173.51 L164.75,172.14 L165.1,170.68 L165.46,169.13 L165.81,167.5 L166.17,165.76 L166.52,163.93 L166.87,161.99 L167.23,159.94 L167.58,157.76 L167.94,155.47 L168.29,153.05 L168.65,150.49 L169,147.79 L169.35,144.94 L169.71,141.95 L170.06,138.79 L170.42,135.48 L170.77,132 L171.12,128.36 L171.48,124.54 L171.83,120.55 L172.19,116.4 L172.54,112.07 L172.89,107.59 L173.25,102.95 L173.6,98.16 L173.96,93.24 L174.31,88.2 L174.67,83.06 L175.02,77.86 L175.37,72.61 L175.73,67.36 L176.08,62.13 L176.44,56.98 L176.79,51.96 L177.14,47.1 L177.5,42.47 L177.85,38.13 L178.21,34.12 L178.56,30.52 L178.92,27.36 L179.27,24.7 L179.62,22.59 L179.98,21.05 L180.33,20.11 L180.69,19.8 L181.04,20.03 L181.39,20.71 L181.75,21.83 L182.1,23.38 L182.46,25.34 L182.81,27.69 L183.17,30.39 L183.52,33.43 L183.87,36.75 L184.23,40.34 L184.58,44.16 L184.94,48.16 L185.29,52.32 L185.64,56.61 L186,60.98 L186.35,65.42 L186.71,69.89 L187.06,74.36 L187.41,78.83 L187.77,83.26 L188.12,87.63 L188.48,91.94 L188.83,96.17 L189.19,100.3 L189.54,104.34 L189.89,108.26 L190.25,112.07 L190.6,115.77 L190.96,119.34 L191.31,122.79 L191.66,126.12 L192.02,129.32 L192.37,132.4 L192.73,135.35 L193.08,138.19 L193.44,140.91 L193.79,143.52 L194.14,146.01 L194.5,148.4 L194.85,150.68 L195.21,152.86 L195.56,154.94 L195.91,156.93 L196.27,158.83 L196.62,160.63 L196.98,162.36 L197.33,164 L197.69,165.57 L198.04,167.06 L198.39,168.48 L198.75,169.83 L199.1,171.12 L199.46,172.34 L199.81,173.51 L200.16,174.62 L200.52,175.68 L200.87,176.68 L201.23,177.64 L201.58,178.55 L201.94,179.42 L202.29,180.24 L202.64,181.02 L203,181.77 L203.35,182.47 L203.71,183.15 L204.06,183.79 L204.41,184.4 L204.77,184.97 L205.12,185.52 L205.48,186.05 L205.83,186.54 L206.18,187.02 L206.54,187.47 L206.89,187.89 L207.25,188.3 L207.6,188.69 L207.96,189.05 L208.31,189.4 L208.66,189.73 L209.02,190.05 L209.37,190.35 L209.73,190.63 L210.08,190.9 L210.43,191.16 L210.79,191.41 L211.14,191.64 L211.5,191.86 L211.85,192.07 L212.21,192.27 L212.56,192.46 L212.91,192.64 L213.27,192.81 L213.62,192.97 L213.98,193.13 L214.33,193.28 L214.68,193.42 L215.04,193.55 L215.39,193.67 L215.75,193.79 L216.1,193.91 L216.46,194.02 L216.81,194.12 L217.16,194.22 L217.52,194.31 L217.87,194.4 L218.23,194.48 L218.58,194.56 L218.93,194.64 L219.29,194.71 L219.64,194.78 L220,194.85 L220.35,194.91 L220.71,194.97 L221.06,195.02 L221.41,195.08 L221.77,195.13 L222.12,195.18 L222.48,195.22 L222.83,195.27 L223.18,195.31 L223.54,195.35 L223.89,195.38 L224.25,195.42 L224.6,195.45 L224.95,195.48 L225.31,195.52 L225.66,195.54 L226.02,195.57 L226.37,195.6 L226.73,195.62 L227.08,195.65 L227.43,195.67 L227.79,195.69 L228.14,195.71 L228.5,195.73 L228.85,195.75 L229.2,195.77 L229.56,195.78 L229.91,195.8 L230.27,195.81 L230.62,195.83 L230.98,195.84 L231.33,195.85 L231.68,195.87 L232.04,195.88 L232.39,195.89 L232.75,195.9 L233.1,195.91 L233.45,195.92 L233.81,195.93 L234.16,195.94 L234.52,195.94 L234.87,195.95 L235.23,195.96 L235.58,195.97 L235.93,195.97 L236.29,195.98 L236.64,195.98 L237,195.99 L237.35,196 L237.7,196 L238.06,196.01 L238.41,196.01 L238.77,196.02 L239.12,196.02 L239.48,196.02 L239.83,196.03 L240.18,196.03 L240.54,196.03 L240.89,196.04 L241.25,196.04 L241.6,196.04 L241.95,196.05 L242.31,196.05 L242.66,196.05 L243.02,196.05 L243.37,196.06 L243.72,196.06 L244.08,196.06 L244.43,196.06 L244.79,196.06 L245.14,196.07 L245.5,196.07 L245.85,196.07 L246.2,196.07 L246.56,196.07 L246.91,196.07 L247.27,196.07 L247.62,196.08 L247.97,196.08 L248.33,196.08 L248.68,196.08 L249.04,196.08 L249.39,196.08 L249.75,196.08 L250.1,196.08 L250.45,196.08 L250.81,196.08 L251.16,196.09 L251.52,196.09 L251.87,196.09 L252.22,196.09 L252.58,196.09 L252.93,196.09 L253.29,196.09 L253.64,196.09 L254,196.09 L254.35,196.09 L254.7,196.09 L255.06,196.09 L255.41,196.09 L255.77,196.09 L256.12,196.09 L256.47,196.09 L256.83,196.09 L257.18,196.09 L257.54,196.09 L257.89,196.09 L258.24,196.09 L258.6,196.1 L258.95,196.1 L259.31,196.1 L259.66,196.1 L260.02,196.1 L260.37,196.1 L260.72,196.1 L261.08,196.1 L261.43,196.1 L261.79,196.1 L262.14,196.1 L262.49,196.1 L262.85,196.1 L263.2,196.1 L263.56,196.1 L263.91,196.1 L264.27,196.1 L264.62,196.1 L264.97,196.1 L265.33,196.1 L265.68,196.1 L266.04,196.1 L266.39,196.1 L266.74,196.1 L267.1,196.1 L267.45,196.1 L267.81,196.1 L268.16,196.1 L268.52,196.1 L268.87,196.1 L269.22,196.1 L269.58,196.1 L269.93,196.1 L270.29,196.1 L270.64,196.1 L270.99,196.1 L271.35,196.1 L271.7,196.1 L272.06,196.1 L272.41,196.1 L272.77,196.1 L273.12,196.1 L273.47,196.1 L273.83,196.1 L274.18,196.1 L274.54,196.1 L274.89,196.1 L275.24,196.1 L275.6,196.1 L275.95,196.1 L276.31,196.1 L276.66,196.1 L277.01,196.1 L277.37,196.1 L277.72,196.1 L278.08,196.1 L278.43,196.1 L278.79,196.1 L279.14,196.1 L279.49,196.1 L279.85,196.1 L280.2,196.1 L280.56,196.1 L280.91,196.1 L281.26,196.1 L281.62,196.1 L281.97,196.1 L282.33,196.1 L282.68,196.1 L283.04,196.1 L283.39,196.1 L283.74,196.1 L284.1,196.1 L284.45,196.1 L284.81,196.1 L285.16,196.1 L285.51,196.1 L285.87,196.1 L286.22,196.1 L286.58,196.1 L286.93,196.1 L287.29,196.1 L287.64,196.1 L287.99,196.1 L288.35,196.1 L288.7,196.1 L289.06,196.1 L289.41,196.1 L289.76,196.1 L290.12,196.1 L290.47,196.1 L290.83,196.1 L291.18,196.1 L291.54,196.1 L291.89,196.1 L292.24,196.1 L292.6,196.1 L292.95,196.1 L293.31,196.1 L293.66,196.1 L294.01,196.1 L294.37,196.1 L294.72,196.1" stroke="#1f8a1f"/>
<path d="M103.48,196.1 L103.84,196.1 L104.19,196.1 L104.54,196.1 L104.9,196.1 L105.25,196.1 L105.61,196.1 L105.96,196.1 L106.31,196.1 L106.67,196.1 L107.02,196.1 L107.38,196.1 L107.73,196.1 L108.09,196.1 L108.44,196.1 L108.79,196.1 L109.15,196.1 L109.5,196.1 L109.86,196.1 L110.21,196.1 L110.56,196.1 L110.92,196.1 L111.27,196.1 L111.63,196.1 L111.98,196.1 L112.34,196.1 L112.69,196.1 L113.04,196.1 L113.4,196.1 L113.75,196.1 L114.11,196.1 L114.46,196.1 L114.81,196.1 L115.17,196.1 L115.52,196.1 L115.88,196.1 L116.23,196.1 L116.58,196.1 L116.94,196.1 L117.29,196.1 L117.65,196.1 L118,196.1 L118.36,196.1 L118.71,196.1 L119.06,196.09 L119.42,196.09 L119.77,196.09 L120.13,196.09 L120.48,196.09 L120.83,196.09 L121.19,196.09 L121.54,196.09 L121.9,196.09 L122.25,196.09 L122.61,196.09 L122.96,196.09 L123.31,196.09 L123.67,196.09 L124.02,196.09 L124.38,196.09 L124.73,196.09 L125.08,196.09 L125.44,196.09 L125.79,196.09 L126.15,196.09 L126.5,196.08 L126.86,196.08 L127.21,196.08 L127.56,196.08 L127.92,196.08 L128.27,196.08 L128.63,196.08 L128.98,196.08 L129.33,196.08 L129.69,196.07 L130.04,196.07 L130.4,196.07 L130.75,196.07 L131.11,196.07 L131.46,196.07 L131.81,196.07 L132.17,196.06 L132.52,196.06 L132.88,196.06 L133.23,196.06 L133.58,196.05 L133.94,196.05 L134.29,196.05 L134.65,196.05 L135,196.04 L135.35,196.04 L135.71,196.04 L136.06,196.03 L136.42,196.03 L136.77,196.03 L137.13,196.02 L137.48,196.02 L137.83,196.01 L138.19,196.01 L138.54,196 L138.9,196 L139.25,195.99 L139.6,195.99 L139.96,195.98 L140.31,195.98 L140.67,195.97 L141.02,195.96 L141.38,195.95 L141.73,195.95 L142.08,195.94 L142.44,195.93 L142.79,195.92 L143.15,195.91 L143.5,195.9 L143.85,195.89 L144.21,195.88 L144.56,195.87 L144.92,195.85 L145.27,195.84 L145.63,195.83 L145.98,195.81 L146.33,195.79 L146.69,195.78 L147.04,195.76 L147.4,195.74 L147.75,195.72 L148.1,195.7 L148.46,195.68 L148.81,195.66 L149.17,195.63 L149.52,195.61 L149.88,195.58 L150.23,195.55 L150.58,195.52 L150.94,195.49 L151.29,195.46 L151.65,195.42 L152,195.39 L152.35,195.35 L152.71,195.31 L153.06,195.26 L153.42,195.22 L153.77,195.17 L154.12,195.12 L154.48,195.07 L154.83,195.01 L155.19,194.95 L155.54,194.89 L155.9,194.82 L156.25,194.75 L156.6,194.68 L156.96,194.6 L157.31,194.52 L157.67,194.43 L158.02,194.34 L158.37,194.25 L158.73,194.15 L159.08,194.04 L159.44,193.93 L159.79,193.81 L160.15,193.69 L160.5,193.55 L160.85,193.42 L161.21,193.27 L161.56,193.12 L161.92,192.95 L162.27,192.78 L162.62,192.6 L162.98,192.41 L163.33,192.21 L163.69,192 L164.04,191.77 L164.4,191.54 L164.75,191.29 L165.1,191.03 L165.46,190.75 L165.81,190.46 L166.17,190.15 L166.52,189.83 L166.87,189.49 L167.23,189.13 L167.58,188.75 L167.94,188.35 L168.29,187.93 L168.65,187.49 L169,187.02 L169.35,186.52 L169.71,186 L170.06,185.45 L170.42,184.88 L170.77,184.27 L171.12,183.62 L171.48,182.95 L171.83,182.23 L172.19,181.48 L172.54,180.69 L172.89,179.85 L173.25,178.97 L173.6,178.04 L173.96,177.06 L174.31,176.03 L174.67,174.95 L175.02,173.81 L175.37,172.6 L175.73,171.34 L176.08,170 L176.44,168.6 L176.79,167.12 L177.14,165.57 L177.5,163.93 L177.85,162.21 L178.21,160.4 L178.56,158.5 L178.92,156.51 L179.27,154.41 L179.62,152.21 L179.98,149.9 L180.33,147.48 L180.69,144.94 L181.04,142.29 L181.39,139.51 L181.75,136.6 L182.1,133.57 L182.46,130.4 L182.81,127.1 L183.17,123.67 L183.52,120.1 L183.87,116.4 L184.23,112.56 L184.58,108.6 L184.94,104.51 L185.29,100.3 L185.64,95.99 L186,91.57 L186.35,87.06 L186.71,82.49 L187.06,77.86 L187.41,73.2 L187.77,68.52 L188.12,63.87 L188.48,59.26 L188.83,54.73 L189.19,50.32 L189.54,46.05 L189.89,41.97 L190.25,38.13 L190.6,34.55 L190.96,31.28 L191.31,28.36 L191.66,25.82 L192.02,23.69 L192.37,22.01 L192.73,20.79 L193.08,20.05 L193.44,19.8 L193.79,19.98 L194.14,20.52 L194.5,21.41 L194.85,22.64 L195.21,24.2 L195.56,26.08 L195.91,28.26 L196.27,30.71 L196.62,33.43 L196.98,36.37 L197.33,39.52 L197.69,42.86 L198.04,46.36 L198.39,49.99 L198.75,53.74 L199.1,57.57 L199.46,61.47 L199.81,65.42 L200.16,69.39 L200.52,73.37 L200.87,77.34 L201.23,81.29 L201.58,85.21 L201.94,89.08 L202.29,92.89 L202.64,96.63 L203,100.3 L203.35,103.89 L203.71,107.4 L204.06,110.82 L204.41,114.14 L204.77,117.37 L205.12,120.5 L205.48,123.54 L205.83,126.48 L206.18,129.32 L206.54,132.06 L206.89,134.71 L207.25,137.26 L207.6,139.72 L207.96,142.09 L208.31,144.36 L208.66,146.55 L209.02,148.66 L209.37,150.68 L209.73,152.62 L210.08,154.49 L210.43,156.28 L210.79,157.99 L211.14,159.64 L211.5,161.22 L211.85,162.73 L212.21,164.18 L212.56,165.57 L212.91,166.89 L213.27,168.17 L213.62,169.39 L213.98,170.55 L214.33,171.67 L214.68,172.74 L215.04,173.76 L215.39,174.74 L215.75,175.68 L216.1,176.57 L216.46,177.43 L216.81,178.25 L217.16,179.04 L217.52,179.79 L217.87,180.5 L218.23,181.19 L218.58,181.85 L218.93,182.47 L219.29,183.07 L219.64,183.65 L220,184.2 L220.35,184.72 L220.71,185.22 L221.06,185.7 L221.41,186.16 L221.77,186.6 L222.12,187.02 L222.48,187.42 L222.83,187.8 L223.18,188.17 L223.54,188.52 L223.89,188.85 L224.25,189.17 L224.6,189.48 L224.95,189.77 L225.31,190.05 L225.66,190.32 L226.02,190.57 L226.37,190.82 L226.73,191.05 L227.08,191.27 L227.43,191.48 L227.79,191.69 L228.14,191.88 L228.5,192.07 L228.85,192.25 L229.2,192.42 L229.56,192.58 L229.91,192.74 L230.27,192.88 L230.62,193.03 L230.98,193.16 L231.33,193.29 L231.68,193.42 L232.04,193.53 L232.39,193.65 L232.75,193.76 L233.1,193.86 L233.45,193.96 L233.81,194.05 L234.16,194.14 L234.52,194.23 L234.87,194.31 L235.23,194.39 L235.58,194.47 L235.93,194.54 L236.29,194.61 L236.64,194.67 L237,194.74 L237.35,194.8 L237.7,194.85 L238.06,194.91 L238.41,194.96 L238.77,195.01 L239.12,195.06 L239.48,195.11 L239.83,195.15 L240.18,195.19 L240.54,195.23 L240.89,195.27 L241.25,195.31 L241.6,195.34 L241.95,195.38 L242.31,195.41 L242.66,195.44 L243.02,195.47 L243.37,195.5 L243.72,195.52 L244.08,195.55 L244.43,195.57 L244.79,195.6 L245.14,195.62 L245.5,195.64 L245.85,195.66 L246.2,195.68 L246.56,195.7 L246.91,195.72 L247.27,195.73 L247.62,195.75 L247.97,195.76 L248.33,195.78 L248.68,195.79 L249.04,195.81 L249.39,195.82 L249.75,195.83 L250.1,195.84 L250.45,195.85 L250.81,195.87 L251.16,195.88 L251.52,195.89 L251.87,195.9 L252.22,195.9 L252.58,195.91 L252.93,195.92 L253.29,195.93 L253.64,195.94 L254,195.94 L254.35,195.95 L254.7,195.96 L255.06,195.96 L255.41,195.97 L255.77,195.98 L256.12,195.98 L256.47,195.99 L256.83,195.99 L257.18,196 L257.54,196 L257.89,196.01 L258.24,196.01 L258.6,196.01 L258.95,196.02 L259.31,196.02 L259.66,196.02 L260.02,196.03 L260.37,196.03 L260.72,196.03 L261.08,196.04 L261.43,196.04 L261.79,196.04 L262.14,196.04 L262.49,196.05 L262.85,196.05 L263.2,196.05 L263.56,196.05 L263.91,196.06 L264.27,196.06 L264.62,196.06 L264.97,196.06 L265.33,196.06 L265.68,196.06 L266.04,196.07 L266.39,196.07 L266.74,196.07 L267.1,196.07 L267.45,196.07 L267.81,196.07 L268.16,196.07 L268.52,196.08 L268.87,196.08 L269.22,196.08 L269.58,196.08 L269.93,196.08 L270.29,196.08 L270.64,196.08 L270.99,196.08 L271.35,196.08 L271.7,196.08 L272.06,196.08 L272.41,196.09 L272.77,196.09 L273.12,196.09 L273.47,196.09 L273.83,196.09 L274.18,196.09 L274.54,196.09 L274.89,196.09 L275.24,196.09 L275.6,196.09 L275.95,196.09 L276.31,196.09 L276.66,196.09 L277.01,196.09 L277.37,196.09 L277.72,196.09 L278.08,196.09 L278.43,196.09 L278.79,196.09 L279.14,196.09 L279.49,196.09 L279.85,196.09 L280.2,196.09 L280.56,196.09 L280.91,196.09 L281.26,196.1 L281.62,196.1 L281.97,196.1 L282.33,196.1 L282.68,196.1 L283.04,196.1 L283.39,196.1 L283.74,196.1 L284.1,196.1 L284.45,196.1 L284.81,196.1 L285.16,196.1 L285.51,196.1 L285.87,196.1 L286.22,196.1 L286.58,196.1 L286.93,196.1 L287.29,196.1 L287.64,196.1 L287.99,196.1 L288.35,196.1 L288.7,196.1 L289.06,196.1 L289.41,196.1 L289.76,196.1 L290.12,196.1 L290.47,196.1 L290.83,196.1 L291.18,196.1 L291.54,196.1 L291.89,196.1 L292.24,196.1 L292.6,196.1 L292.95,196.1 L293.31,196.1 L293.66,196.1 L294.01,196.1 L294.37,196.1 L294.72,196.1" stroke="#1f1f85"/>
<path d="M48.23,196.1 L48.59,196.1 L48.94,196.1 L49.3,196.1 L49.65,196.1 L50,196.1 L50.36,196.1 L50.71,196.1 L51.07,196.1 L51.42,196.1 L51.78,196.1 L52.13,196.1 L52.48,196.1 L52.84,196.1 L53.19,196.1 L53.55,196.1 L53.9,196.1 L54.25,196.1 L54.61,196.1 L54.96,196.1 L55.32,196.1 L55.67,196.1 L56.03,196.1 L56.38,196.1 L56.73,196.1 L57.09,196.1 L57.44,196.1 L57.8,196.1 L58.15,196.1 L58.5,196.1 L58.86,196.1 L59.21,196.1 L59.57,196.1 L59.92,196.1 L60.28,196.1 L60.63,196.1 L60.98,196.1 L61.34,196.1 L61.69,196.1 L62.05,196.1 L62.4,196.1 L62.75,196.1 L63.11,196.1 L63.46,196.1 L63.82,196.1 L64.17,196.1 L64.52,196.1 L64.88,196.1 L65.23,196.1 L65.59,196.1 L65.94,196.1 L66.3,196.1 L66.65,196.1 L67,196.1 L67.36,196.1 L67.71,196.1 L68.07,196.1 L68.42,196.1 L68.77,196.1 L69.13,196.1 L69.48,196.1 L69.84,196.1 L70.19,196.1 L70.55,196.1 L70.9,196.1 L71.25,196.1 L71.61,196.1 L71.96,196.1 L72.32,196.1 L72.67,196.1 L73.02,196.1 L73.38,196.1 L73.73,196.1 L74.09,196.1 L74.44,196.1 L74.8,196.1 L75.15,196.1 L75.5,196.1 L75.86,196.1 L76.21,196.1 L76.57,196.1 L76.92,196.1 L77.27,196.1 L77.63,196.1 L77.98,196.1 L78.34,196.1 L78.69,196.1 L79.05,196.1 L79.4,196.1 L79.75,196.1 L80.11,196.1 L80.46,196.1 L80.82,196.1 L81.17,196.1 L81.52,196.1 L81.88,196.1 L82.23,196.1 L82.59,196.1 L82.94,196.1 L83.29,196.1 L83.65,196.1 L84,196.1 L84.36,196.1 L84.71,196.1 L85.07,196.1 L85.42,196.1 L85.77,196.1 L86.13,196.1 L86.48,196.1 L86.84,196.1 L87.19,196.1 L87.54,196.1 L87.9,196.1 L88.25,196.1 L88.61,196.1 L88.96,196.1 L89.32,196.1 L89.67,196.1 L90.02,196.1 L90.38,196.1 L90.73,196.1 L91.09,196.1 L91.44,196.1 L91.79,196.1 L92.15,196.1 L92.5,196.1 L92.86,196.1 L93.21,196.1 L93.57,196.1 L93.92,196.1 L94.27,196.1 L94.63,196.1 L94.98,196.1 L95.34,196.1 L95.69,196.1 L96.04,196.1 L96.4,196.1 L96.75,196.1 L97.11,196.1 L97.46,196.1 L97.81,196.1 L98.17,196.1 L98.52,196.1 L98.88,196.1 L99.23,196.1 L99.59,196.1 L99.94,196.1 L100.29,196.1 L100.65,196.1 L101,196.1 L101.36,196.1 L101.71,196.1 L102.06,196.1 L102.42,196.1 L102.77,196.1 L103.13,196.1 L103.48,196.1 L103.84,196.1 L104.19,196.1 L104.54,196.1 L104.9,196.1 L105.25,196.1 L105.61,196.1 L105.96,196.1 L106.31,196.1 L106.67,196.1 L107.02,196.1 L107.38,196.1 L107.73,196.1 L108.09,196.1 L108.44,196.1 L108.79,196.1 L109.15,196.1 L109.5,196.1 L109.86,196.1 L110.21,196.1 L110.56,196.1 L110.92,196.1 L111.27,196.1 L111.63,196.1 L111.98,196.1 L112.34,196.1 L112.69,196.1 L113.04,196.1 L113.4,196.1 L113.75,196.1 L114.11,196.1 L114.46,196.1 L114.81,196.1 L115.17,196.1 L115.52,196.1 L115.88,196.1 L116.23,196.1 L116.58,196.1 L116.94,196.1 L117.29,196.1 L117.65,196.1 L118,196.1 L118.36,196.1 L118.71,196.1 L119.06,196.1 L119.42,196.1 L119.77,196.1 L120.13,196.1 L120.48,196.1 L120.83,196.1 L121.19,196.1 L121.54,196.1 L121.9,196.1 L122.25,196.1 L122.61,196.1 L122.96,196.1 L123.31,196.1 L123.67,196.1 L124.02,196.1 L124.38,196.1 L124.73,196.1 L125.08,196.1 L125.44,196.1 L125.79,196.1 L126.15,196.1 L126.5,196.1 L126.86,196.1 L127.21,196.1 L127.56,196.1 L127.92,196.1 L128.27,196.1 L128.63,196.1 L128.98,196.1 L129.33,196.1 L129.69,196.1 L130.04,196.1 L130.4,196.1 L130.75,196.1 L131.11,196.1 L131.46,196.1 L131.81,196.1 L132.17,196.1 L132.52,196.1 L132.88,196.1 L133.23,196.1 L133.58,196.1 L133.94,196.1 L134.29,196.1 L134.65,196.1 L135,196.1 L135.35,196.1 L135.71,196.1 L136.06,196.1 L136.42,196.1 L136.77,196.1 L137.13,196.1 L137.48,196.1 L137.83,196.1 L138.19,196.1 L138.54,196.1 L138.9,196.1 L139.25,196.1 L139.6,196.1 L139.96,196.1 L140.31,196.1 L140.67,196.1 L141.02,196.1 L141.38,196.1 L141.73,196.1 L142.08,196.1 L142.44,196.1 L142.79,196.1 L143.15,196.1 L143.5,196.1 L143.85,196.1 L144.21,196.1 L144.56,196.1 L144.92,196.1 L145.27,196.1 L145.63,196.1 L145.98,196.1 L146.33,196.1 L146.69,196.1 L147.04,196.1 L147.4,196.1 L147.75,196.1 L148.1,196.1 L148.46,196.1 L148.81,196.1 L149.17,196.1 L149.52,196.1 L149.88,196.09 L150.23,196.09 L150.58,196.09 L150.94,196.09 L151.29,196.09 L151.65,196.09 L152,196.09 L152.35,196.09 L152.71,196.09 L153.06,196.09 L153.42,196.09 L153.77,196.09 L154.12,196.09 L154.48,196.09 L154.83,196.09 L155.19,196.09 L155.54,196.09 L155.9,196.09 L156.25,196.09 L156.6,196.09 L156.96,196.09 L157.31,196.09 L157.67,196.09 L158.02,196.09 L158.37,196.08 L158.73,196.08 L159.08,196.08 L159.44,196.08 L159.79,196.08 L160.15,196.08 L160.5,196.08 L160.85,196.08 L161.21,196.08 L161.56,196.08 L161.92,196.08 L162.27,196.07 L162.62,196.07 L162.98,196.07 L163.33,196.07 L163.69,196.07 L164.04,196.07 L164.4,196.07 L164.75,196.06 L165.1,196.06 L165.46,196.06 L165.81,196.06 L166.17,196.06 L166.52,196.05 L166.87,196.05 L167.23,196.05 L167.58,196.05 L167.94,196.05 L168.29,196.04 L168.65,196.04 L169,196.04 L169.35,196.03 L169.71,196.03 L170.06,196.03 L170.42,196.02 L170.77,196.02 L171.12,196.02 L171.48,196.01 L171.83,196.01 L172.19,196.01 L172.54,196 L172.89,196 L173.25,195.99 L173.6,195.99 L173.96,195.98 L174.31,195.97 L174.67,195.97 L175.02,195.96 L175.37,195.96 L175.73,195.95 L176.08,195.94 L176.44,195.93 L176.79,195.93 L177.14,195.92 L177.5,195.91 L177.85,195.9 L178.21,195.89 L178.56,195.88 L178.92,195.87 L179.27,195.86 L179.62,195.85 L179.98,195.84 L180.33,195.83 L180.69,195.81 L181.04,195.8 L181.39,195.78 L181.75,195.77 L182.1,195.75 L182.46,195.74 L182.81,195.72 L183.17,195.7 L183.52,195.68 L183.87,195.66 L184.23,195.64 L184.58,195.62 L184.94,195.6 L185.29,195.58 L185.64,195.55 L186,195.53 L186.35,195.5 L186.71,195.47 L187.06,195.44 L187.41,195.41 L187.77,195.38 L188.12,195.34 L188.48,195.31 L188.83,195.27 L189.19,195.23 L189.54,195.19 L189.89,195.14 L190.25,195.1 L190.6,195.05 L190.96,195 L191.31,194.95 L191.66,194.9 L192.02,194.84 L192.37,194.78 L192.73,194.72 L193.08,194.65 L193.44,194.58 L193.79,194.51 L194.14,194.44 L194.5,194.36 L194.85,194.28 L195.21,194.19 L195.56,194.1 L195.91,194.01 L196.27,193.91 L196.62,193.8 L196.98,193.69 L197.33,193.58 L197.69,193.46 L198.04,193.34 L198.39,193.21 L198.75,193.07 L199.1,192.93 L199.46,192.78 L199.81,192.62 L200.16,192.45 L200.52,192.28 L200.87,192.1 L201.23,191.91 L201.58,191.71 L201.94,191.51 L202.29,191.29 L202.64,191.06 L203,190.83 L203.35,190.58 L203.71,190.32 L204.06,190.04 L204.41,189.76 L204.77,189.46 L205.12,189.14 L205.48,188.81 L205.83,188.47 L206.18,188.11 L206.54,187.73 L206.89,187.34 L207.25,186.92 L207.6,186.49 L207.96,186.04 L208.31,185.56 L208.66,185.07 L209.02,184.55 L209.37,184 L209.73,183.43 L210.08,182.83 L210.43,182.21 L210.79,181.55 L211.14,180.87 L211.5,180.15 L211.85,179.4 L212.21,178.62 L212.56,177.79 L212.91,176.93 L213.27,176.03 L213.62,175.09 L213.98,174.11 L214.33,173.08 L214.68,172 L215.04,170.87 L215.39,169.69 L215.75,168.46 L216.1,167.17 L216.46,165.82 L216.81,164.41 L217.16,162.94 L217.52,161.4 L217.87,159.8 L218.23,158.12 L218.58,156.37 L218.93,154.55 L219.29,152.64 L219.64,150.66 L220,148.59 L220.35,146.43 L220.71,144.18 L221.06,141.85 L221.41,139.42 L221.77,136.89 L222.12,134.27 L222.48,131.54 L222.83,128.72 L223.18,125.79 L223.54,122.76 L223.89,119.63 L224.25,116.4 L224.6,113.07 L224.95,109.63 L225.31,106.11 L225.66,102.49 L226.02,98.78 L226.37,95 L226.73,91.14 L227.08,87.21 L227.43,83.23 L227.79,79.21 L228.14,75.15 L228.5,71.09 L228.85,67.02 L229.2,62.97 L229.56,58.97 L229.91,55.02 L230.27,51.16 L230.62,47.41 L230.98,43.79 L231.33,40.33 L231.68,37.06 L232.04,34 L232.39,31.18 L232.75,28.63 L233.1,26.36 L233.45,24.4 L233.81,22.77 L234.16,21.48 L234.52,20.55 L234.87,19.99 L235.23,19.8 L235.58,19.94 L235.93,20.34 L236.29,21.02 L236.64,21.96 L237,23.16 L237.35,24.6 L237.7,26.28 L238.06,28.18 L238.41,30.3 L238.77,32.61 L239.12,35.11 L239.48,37.77 L239.83,40.58 L240.18,43.53 L240.54,46.59 L240.89,49.76 L241.25,53.01 L241.6,56.33 L241.95,59.7 L242.31,63.12 L242.66,66.57 L243.02,70.03 L243.37,73.5 L243.72,76.96 L244.08,80.4 L244.43,83.82 L244.79,87.21 L245.14,90.56 L245.5,93.86 L245.85,97.11 L246.2,100.3 L246.56,103.44 L246.91,106.5 L247.27,109.51 L247.62,112.44 L247.97,115.3 L248.33,118.09 L248.68,120.8 L249.04,123.44 L249.39,126.01 L249.75,128.5 L250.1,130.92 L250.45,133.27 L250.81,135.54 L251.16,137.74 L251.52,139.87 L251.87,141.94 L252.22,143.93 L252.58,145.86 L252.93,147.72 L253.29,149.52 L253.64,151.25 L254,152.93 L254.35,154.55 L254.7,156.11 L255.06,157.61 L255.41,159.06 L255.77,160.46 L256.12,161.81 L256.47,163.11 L256.83,164.36 L257.18,165.57 L257.54,166.73 L257.89,167.84 L258.24,168.92 L258.6,169.96 L258.95,170.96 L259.31,171.92 L259.66,172.84 L260.02,173.73 L260.37,174.59 L260.72,175.41 L261.08,176.2 L261.43,176.97 L261.79,177.7 L262.14,178.41 L262.49,179.09 L262.85,179.74 L263.2,180.37 L263.56,180.97 L263.91,181.55 L264.27,182.11 L264.62,182.65 L264.97,183.17 L265.33,183.67 L265.68,184.14 L266.04,184.6 L266.39,185.05 L266.74,185.47 L267.1,185.88 L267.45,186.28 L267.81,186.65 L268.16,187.02 L268.52,187.37 L268.87,187.7 L269.22,188.03 L269.58,188.34 L269.93,188.64 L270.29,188.93 L270.64,189.2 L270.99,189.47 L271.35,189.72 L271.7,189.97 L272.06,190.21 L272.41,190.43 L272.77,190.65 L273.12,190.86 L273.47,191.06 L273.83,191.26 L274.18,191.44 L274.54,191.62 L274.89,191.8 L275.24,191.96 L275.6,192.12 L275.95,192.28 L276.31,192.42 L276.66,192.56 L277.01,192.7 L277.37,192.83 L277.72,192.96 L278.08,193.08 L278.43,193.2 L278.79,193.31 L279.14,193.42 L279.49,193.52 L279.85,193.62 L280.2,193.71 L280.56,193.81 L280.91,193.89 L281.26,193.98 L281.62,194.06 L281.97,194.14 L282.33,194.22 L282.68,194.29 L283.04,194.36 L283.39,194.43 L283.74,194.49 L284.1,194.55 L284.45,194.61 L284.81,194.67 L285.16,194.72 L285.51,194.78 L285.87,194.83 L286.22,194.88 L286.58,194.92 L286.93,194.97 L287.29,195.01 L287.64,195.06 L287.99,195.1 L288.35,195.13 L288.7,195.17 L289.06,195.21 L289.41,195.24 L289.76,195.28 L290.12,195.31 L290.47,195.34 L290.83,195.37 L291.18,195.4 L291.54,195.42 L291.89,195.45 L292.24,195.47 L292.6,195.5 L292.95,195.52 L293.31,195.54 L293.66,195.56 L294.01,195.59 L294.37,195.61 L294.72,195.62 L295.08,195.64 L295.43,195.66 L295.78,195.68 L296.14,195.69 L296.49,195.71 L296.85,195.72 L297.2,195.74 L297.56,195.75 L297.91,195.77 L298.26,195.78 L298.62,195.79 L298.97,195.8 L299.33,195.81 L299.68,195.83 L300.03,195.84 L300.39,195.85 L300.74,195.86 L301.1,195.87 L301.45,195.87 L301.81,195.88 L302.16,195.89 L302.51,195.9 L302.87,195.91 L303.22,195.91 L303.58,195.92 L303.93,195.93 L304.28,195.94 L304.64,195.94 L304.99,195.95 L305.35,195.95 L305.7,195.96 L306.06,195.96 L306.41,195.97 L306.76,195.98 L307.12,195.98 L307.47,195.98 L307.83,195.99 L308.18,195.99 L308.53,196 L308.89,196 L309.24,196.01 L309.6,196.01 L309.95,196.01 L310.31,196.02 L310.66,196.02 L311.01,196.02 L311.37,196.03 L311.72,196.03 L312.08,196.03 L312.43,196.03 L312.78,196.04 L313.14,196.04 L313.49,196.04 L313.85,196.04 L314.2,196.05 L314.55,196.05 L314.91,196.05 L315.26,196.05 L315.62,196.05 L315.97,196.06 L316.33,196.06 L316.68,196.06 L317.03,196.06 L317.39,196.06 L317.74,196.06 L318.1,196.06 L318.45,196.07 L318.8,196.07 L319.16,196.07 L319.51,196.07 L319.87,196.07 L320.22,196.07 L320.58,196.07 L320.93,196.07 L321.28,196.08 L321.64,196.08 L321.99,196.08 L322.35,196.08 L322.7,196.08 L323.05,196.08 L323.41,196.08 L323.76,196.08 L324.12,196.08 L324.47,196.08 L324.83,196.08 L325.18,196.08 L325.53,196.08 L325.89,196.09 L326.24,196.09 L326.6,196.09 L326.95,196.09 L327.3,196.09 L327.66,196.09 L328.01,196.09 L328.37,196.09 L328.72,196.09 L329.07,196.09 L329.43,196.09 L329.78,196.09 L330.14,196.09 L330.49,196.09 L330.85,196.09 L331.2,196.09 L331.55,196.09" stroke="#852085"/>
</g>
<rect x="48" y="2.5" width="284" height="211.23" fill="none" stroke="#8a8a8a" stroke-width="2"/>
<path d="M62.4,214.73v4 M97.81,214.73v2.5 M133.23,214.73v4 M168.65,214.73v2.5 M204.06,214.73v4 M239.48,214.73v2.5 M274.89,214.73v4 M310.31,214.73v2.5 M47,196.1h-3.5 M47,178.47h-2 M47,160.84h-3.5 M47,143.21h-2 M47,125.58h-3.5 M47,107.95h-2 M47,90.32h-3.5 M47,72.69h-2 M47,55.06h-3.5 M47,37.43h-2 M47,19.8h-3.5" stroke="#8a8a8a" stroke-width="1.4" fill="none"/>
<g font-family='"Liberation Sans", sans-serif' font-size="14.6" fill="#111">
<text x="62.4" y="232.3" text-anchor="middle">400</text>
<text x="133.23" y="232.3" text-anchor="middle">500</text>
<text x="204.06" y="232.3" text-anchor="middle">600</text>
<text x="274.89" y="232.3" text-anchor="middle">700</text>
<text x="41.5" y="201.1" text-anchor="end">0.0</text>
<text x="41.5" y="165.84" text-anchor="end">0.2</text>
<text x="41.5" y="130.58" text-anchor="end">0.4</text>
<text x="41.5" y="95.32" text-anchor="end">0.6</text>
<text x="41.5" y="60.06" text-anchor="end">0.8</text>
<text x="41.5" y="24.8" text-anchor="end">1.0</text>
</g>
<text x="190.5" y="248.6" text-anchor="middle" font-family='"Liberation Sans", sans-serif' font-size="17.3" fill="#111">Wavelength (nm)</text>
<text transform="translate(14.3,110.1) rotate(-90)" text-anchor="middle" font-family='"Liberation Sans", sans-serif' font-size="17.55" fill="#111">Normalized PL intensity</text>
<text x="54.6" y="23.1" font-family='"Liberation Sans", sans-serif' font-size="18.2" fill="#111">(a)</text>
<g font-family='"Liberation Sans", sans-serif' font-size="10.2" fill="#111">
<line x1="283.5" y1="11.8" x2="308" y2="11.8" stroke="#ff2a2a" stroke-width="1.6"/>
<text x="310.8" y="15.4">C</text>
<line x1="283.5" y1="25" x2="308" y2="25" stroke="#2a2aff" stroke-width="1.6"/>
<text x="310.8" y="28.6">G</text>
<line x1="283.5" y1="38.2" x2="308" y2="38.2" stroke="#ff2aff" stroke-width="1.6"/>
<text x="310.8" y="41.8">Y</text>
<line x1="283.5" y1="51.4" x2="308" y2="51.4" stroke="#1f8a1f" stroke-width="1.6"/>
<text x="310.8" y="55">A</text>
<line x1="283.5" y1="64.6" x2="308" y2="64.6" stroke="#1f1f85" stroke-width="1.6"/>
<text x="310.8" y="68.2">O</text>
<line x1="283.5" y1="77.8" x2="308" y2="77.8" stroke="#852085" stroke-width="1.6"/>
<text x="310.8" y="81.4">R</text>
</g>
<g fill="none" stroke-width="1.45" stroke-linejoin="round">
<path d="M388.53,195.39 L388.89,195.22 L389.24,195.36 L389.6,195.37 L389.95,195.48 L390.3,195.32 L390.66,195.02 L391.01,195.15 L391.37,195 L391.72,195.16 L392.08,195.11 L392.43,195.13 L392.78,195.51 L393.14,194.96 L393.49,195.01 L393.85,195 L394.2,195.44 L394.55,195.43 L394.91,195.23 L395.26,195.12 L395.62,194.93 L395.97,194.99 L396.33,194.84 L396.68,195.07 L397.03,194.84 L397.39,194.8 L397.74,194.99 L398.1,194.46 L398.45,194.68 L398.8,194.52 L399.16,194.87 L399.51,194.87 L399.87,194.75 L400.22,194.67 L400.58,194.48 L400.93,194.52 L401.28,194.63 L401.64,194.7 L401.99,194.57 L402.35,194.16 L402.7,194.54 L403.05,194.27 L403.41,194.18 L403.76,194.54 L404.12,194.15 L404.47,193.83 L404.82,194.47 L405.18,194.04 L405.53,193.92 L405.89,193.99 L406.24,193.63 L406.6,193.66 L406.95,193.86 L407.3,193.27 L407.66,193.2 L408.01,193.02 L408.37,192.79 L408.72,192.88 L409.07,192.8 L409.43,192.95 L409.78,192.38 L410.14,192.48 L410.49,192.27 L410.85,192.26 L411.2,192.01 L411.55,191.73 L411.91,191.15 L412.26,191.64 L412.62,191.31 L412.97,190.74 L413.32,190.27 L413.68,190.24 L414.03,190.55 L414.39,190.46 L414.74,189.64 L415.1,189.65 L415.45,189.52 L415.8,188.86 L416.16,188.62 L416.51,188.61 L416.87,188.39 L417.22,188.14 L417.57,187.69 L417.93,187.68 L418.28,187.49 L418.64,187.27 L418.99,187.27 L419.35,186.86 L419.7,186.64 L420.05,186.41 L420.41,186.3 L420.76,185.94 L421.12,185.54 L421.47,185.38 L421.82,184.92 L422.18,184.46 L422.53,184.19 L422.89,183.55 L423.24,183.12 L423.59,182.62 L423.95,182 L424.3,181.34 L424.66,180.68 L425.01,179.85 L425.37,179.13 L425.72,178.21 L426.07,177.13 L426.43,176.13 L426.78,175.01 L427.14,173.63 L427.49,172.21 L427.84,170.81 L428.2,169.23 L428.55,167.35 L428.91,165.39 L429.26,163.25 L429.62,160.8 L429.97,158.4 L430.32,155.45 L430.68,152.55 L431.03,149.18 L431.39,145.44 L431.74,141.42 L432.09,137.08 L432.45,132.38 L432.8,127.25 L433.16,121.69 L433.51,115.67 L433.87,109.29 L434.22,102.43 L434.57,95.19 L434.93,87.69 L435.28,79.86 L435.64,71.97 L435.99,64 L436.34,56.4 L436.7,49.1 L437.05,42.31 L437.41,36.23 L437.76,30.99 L438.12,26.87 L438.47,23.67 L438.82,21.43 L439.18,20.49 L439.53,19.92 L439.89,19.79 L440.24,20 L440.59,20.66 L440.95,21.9 L441.3,23.67 L441.66,26.22 L442.01,29.49 L442.36,33.2 L442.72,37.86 L443.07,43.02 L443.43,48.57 L443.78,54.54 L444.14,60.77 L444.49,67.35 L444.84,73.69 L445.2,80.07 L445.55,86.6 L445.91,92.76 L446.26,98.73 L446.61,104.54 L446.97,110.04 L447.32,115.5 L447.68,120.38 L448.03,125.05 L448.39,129.38 L448.74,133.46 L449.09,137.54 L449.45,140.88 L449.8,144.38 L450.16,147.35 L450.51,150.38 L450.86,152.97 L451.22,155.41 L451.57,157.82 L451.93,159.96 L452.28,161.94 L452.64,163.85 L452.99,165.61 L453.34,167.14 L453.7,168.69 L454.05,170.19 L454.41,171.32 L454.76,172.8 L455.11,173.83 L455.47,174.99 L455.82,175.97 L456.18,176.89 L456.53,177.81 L456.88,178.62 L457.24,179.55 L457.59,180.29 L457.95,180.85 L458.3,181.6 L458.66,182.23 L459.01,182.84 L459.36,183.22 L459.72,183.77 L460.07,184.22 L460.43,184.84 L460.78,185.22 L461.13,185.71 L461.49,185.99 L461.84,186.31 L462.2,186.82 L462.55,187.01 L462.91,187.22 L463.26,187.78 L463.61,188.45 L463.97,188.01 L464.32,188.6 L464.68,188.96 L465.03,188.99 L465.38,189.21 L465.74,189.21 L466.09,189.95 L466.45,189.69 L466.8,189.81 L467.16,190.01 L467.51,190.53 L467.86,190.82 L468.22,190.61 L468.57,190.95 L468.93,191.1 L469.28,190.97 L469.63,191.46 L469.99,192.03 L470.34,191.75 L470.7,192.18 L471.05,191.74 L471.41,191.96 L471.76,192.26 L472.11,192.24 L472.47,192.16 L472.82,192.42 L473.18,192.25 L473.53,192.64 L473.88,192.49 L474.24,192.48 L474.59,192.54 L474.95,193.1 L475.3,192.85 L475.65,193.5 L476.01,193.41 L476.36,193.66 L476.72,193.09 L477.07,193.64 L477.43,193.44 L477.78,193.54 L478.13,193.57 L478.49,193.74 L478.84,193.62 L479.2,193.35 L479.55,193.77 L479.9,193.71 L480.26,193.66 L480.61,193.96 L480.97,194.24 L481.32,194.13 L481.68,193.83 L482.03,194.45 L482.38,194.27 L482.74,193.97 L483.09,194.05 L483.45,194.25 L483.8,194.12 L484.15,194.29 L484.51,194.61 L484.86,194.73 L485.22,194.56 L485.57,194.26 L485.93,194.61 L486.28,194.71 L486.63,194.71 L486.99,194.9 L487.34,194.63 L487.7,194.88 L488.05,194.58 L488.4,195.19 L488.76,194.64 L489.11,194.87 L489.47,195.17 L489.82,194.63 L490.18,194.86 L490.53,195.3 L490.88,195.04 L491.24,194.81 L491.59,194.99 L491.95,194.75 L492.3,194.77 L492.65,194.81 L493.01,194.9 L493.36,194.71 L493.72,194.87 L494.07,194.93 L494.42,195.48 L494.78,194.87 L495.13,194.8 L495.49,195.15 L495.84,195.21 L496.2,194.71 L496.55,195.51 L496.9,195.05 L497.26,194.65 L497.61,195.38 L497.97,195.05 L498.32,194.81 L498.67,195.25 L499.03,195.12 L499.38,195.06 L499.74,195.45 L500.09,195.29 L500.45,195.22 L500.8,195.12 L501.15,195.31 L501.51,195.36 L501.86,195.54 L502.22,195.42 L502.57,195.16 L502.92,195.34 L503.28,195.55 L503.63,195.56 L503.99,194.83 L504.34,195.16 L504.7,195.28 L505.05,195.97 L505.4,195.3 L505.76,195.34 L506.11,195.09 L506.47,195.36 L506.82,195.48 L507.17,195.36 L507.53,195.89 L507.88,195.27 L508.24,195.43 L508.59,195.65 L508.94,195.23 L509.3,195.14 L509.65,195.82 L510.01,195.67 L510.36,195.48 L510.72,195.51 L511.07,195.64 L511.42,195.77 L511.78,195.12 L512.13,195.35 L512.49,195.83 L512.84,195.87 L513.19,195.23 L513.55,195.39 L513.9,195.22 L514.26,195.44 L514.61,195.8 L514.97,195.57 L515.32,196.08 L515.67,195.79 L516.03,195.65 L516.38,195.53 L516.74,195.8 L517.09,195.68 L517.44,195.56 L517.8,195.58 L518.15,195.53 L518.51,195.63 L518.86,195.75 L519.22,195.52 L519.57,195.68 L519.92,195.87 L520.28,195.83 L520.63,195.7 L520.99,195.73 L521.34,195.68 L521.69,195.71 L522.05,195.68 L522.4,195.75 L522.76,195.99 L523.11,195.64 L523.47,195.51 L523.82,195.65 L524.17,195.78 L524.53,195.65 L524.88,195.95 L525.24,196.15 L525.59,195.74 L525.94,195.96 L526.3,195.61 L526.65,196 L527.01,196.33 L527.36,195.99 L527.71,195.44 L528.07,195.86 L528.42,196.07 L528.78,195.95 L529.13,195.68 L529.49,195.69 L529.84,195.76 L530.19,195.48 L530.55,195.65 L530.9,195.81 L531.26,195.68 L531.61,195.46 L531.96,195.61 L532.32,195.6 L532.67,196.05 L533.03,195.85 L533.38,195.67 L533.74,195.89 L534.09,195.6 L534.44,195.7 L534.8,195.64 L535.15,195.88 L535.51,195.3 L535.86,195.58 L536.21,195.89 L536.57,195.83 L536.92,195.3 L537.28,195.92 L537.63,195.67 L537.99,195.65 L538.34,195.86 L538.69,196.11 L539.05,195.82 L539.4,195.79 L539.76,195.63 L540.11,195.7 L540.46,195.86 L540.82,195.69 L541.17,195.76 L541.53,195.83 L541.88,195.87 L542.24,195.93 L542.59,195.74 L542.94,196.11 L543.3,196.02 L543.65,195.89 L544.01,196.2 L544.36,195.98 L544.71,196.32 L545.07,196.04 L545.42,195.77 L545.78,195.78 L546.13,195.91 L546.48,195.95 L546.84,196.2 L547.19,195.52 L547.55,195.8 L547.9,195.68 L548.26,196.09 L548.61,195.95 L548.96,196.3 L549.32,195.75 L549.67,195.72 L550.03,196.32 L550.38,195.93 L550.73,195.79 L551.09,196.29 L551.44,196.31 L551.8,196.15 L552.15,196.06 L552.51,196.22 L552.86,195.92 L553.21,195.88 L553.57,195.8 L553.92,195.78 L554.28,195.61 L554.63,195.69 L554.98,196.21 L555.34,196.04 L555.69,196.16 L556.05,196.17 L556.4,195.96 L556.76,195.94 L557.11,195.84 L557.46,196.28 L557.82,196.21 L558.17,195.95 L558.53,195.99 L558.88,196.01 L559.23,195.96 L559.59,196.11 L559.94,195.8 L560.3,195.88 L560.65,195.97 L561.01,196.1 L561.36,195.99 L561.71,196.53 L562.07,196.17 L562.42,195.95 L562.78,196.28 L563.13,195.92 L563.48,195.93 L563.84,196.25 L564.19,196.02 L564.55,196.03 L564.9,195.87 L565.25,195.84 L565.61,195.98 L565.96,196.15 L566.32,196 L566.67,195.98 L567.03,195.82 L567.38,195.91 L567.73,196.13 L568.09,196.26 L568.44,196.05 L568.8,196.13 L569.15,196.21 L569.5,196 L569.86,196.08 L570.21,195.96 L570.57,195.87 L570.92,196.07 L571.28,195.49 L571.63,196.05 L571.98,195.75 L572.34,195.96 L572.69,195.75 L573.05,196.49 L573.4,196.15 L573.75,195.93 L574.11,195.86 L574.46,195.49 L574.82,195.92 L575.17,195.72 L575.53,195.83 L575.88,195.79 L576.23,195.88 L576.59,196.03 L576.94,195.89 L577.3,196.22 L577.65,195.74 L578,196.21 L578.36,195.94 L578.71,195.55 L579.07,196.04 L579.42,195.99 L579.77,195.75 L580.13,195.99 L580.48,196.17 L580.84,195.95 L581.19,195.88 L581.55,195.85 L581.9,196.17 L582.25,195.63 L582.61,195.65 L582.96,196 L583.32,195.95 L583.67,196.1 L584.02,195.71 L584.38,196.16 L584.73,195.86 L585.09,196.11 L585.44,196.16 L585.8,195.86 L586.15,195.73 L586.5,196.01 L586.86,196.15 L587.21,195.84 L587.57,196.02 L587.92,195.95 L588.27,195.69 L588.63,195.77 L588.98,196.12 L589.34,195.53 L589.69,196.01 L590.05,195.85 L590.4,196.15 L590.75,196.03 L591.11,196.39 L591.46,195.64 L591.82,195.73 L592.17,196.28 L592.52,196.34 L592.88,196.36 L593.23,195.77 L593.59,196.12 L593.94,196.03 L594.3,196.09 L594.65,196.05 L595,196.25 L595.36,196.02 L595.71,196.33 L596.07,196.04 L596.42,195.96 L596.77,195.92 L597.13,196.07 L597.48,196.22 L597.84,195.99 L598.19,196.13 L598.54,195.69 L598.9,195.86 L599.25,196.05 L599.61,196.13 L599.96,196.18 L600.32,196.23 L600.67,196.1 L601.02,195.97 L601.38,195.92 L601.73,195.91 L602.09,195.59 L602.44,196.18 L602.79,196.03 L603.15,195.44 L603.5,196.43 L603.86,196.14 L604.21,196 L604.57,196 L604.92,195.95 L605.27,196.08 L605.63,195.96 L605.98,196.02 L606.34,195.87 L606.69,196.44 L607.04,196.22 L607.4,196.04 L607.75,196.25 L608.11,196.26 L608.46,195.9 L608.82,196.17 L609.17,195.9 L609.52,195.88 L609.88,195.97 L610.23,195.93 L610.59,196.06 L610.94,196.34 L611.29,196.05 L611.65,195.94 L612,196.15 L612.36,196.06 L612.71,195.88 L613.07,196.23 L613.42,195.91 L613.77,195.65 L614.13,196.16 L614.48,196.01 L614.84,196.07 L615.19,195.72 L615.54,195.98 L615.9,195.85 L616.25,196.19 L616.61,196.05 L616.96,196.05 L617.31,196.42 L617.67,195.74 L618.02,195.85 L618.38,196.41 L618.73,195.89 L619.09,196.07 L619.44,195.95 L619.79,195.97 L620.15,196.36 L620.5,196.09 L620.86,195.73 L621.21,196.17 L621.56,196.26 L621.92,196.34 L622.27,196.31 L622.63,195.98 L622.98,195.69 L623.34,195.96 L623.69,196 L624.04,195.58 L624.4,196.16 L624.75,196.19 L625.11,195.94 L625.46,195.93 L625.81,196.26 L626.17,196.3 L626.52,195.99 L626.88,196 L627.23,196.33 L627.59,196.09 L627.94,196.17 L628.29,195.95 L628.65,196.08 L629,196.07 L629.36,196.13 L629.71,195.83 L630.06,195.76 L630.42,196.13 L630.77,195.87 L631.13,196.21 L631.48,196.04 L631.84,195.9 L632.19,195.73 L632.54,196.14 L632.9,196.07 L633.25,196.01 L633.61,196.37 L633.96,196.05 L634.31,196.2 L634.67,195.98 L635.02,196.29 L635.38,196.47 L635.73,196.05 L636.08,196 L636.44,196.17 L636.79,195.87 L637.15,196.11 L637.5,196.19 L637.86,195.96 L638.21,196.39 L638.56,196.2 L638.92,196.06 L639.27,195.88 L639.63,196.09 L639.98,195.99 L640.33,196.2 L640.69,196 L641.04,195.71 L641.4,196.2 L641.75,195.56 L642.11,196.2 L642.46,196.06 L642.81,196.02 L643.17,195.84 L643.52,196.32 L643.88,196.5 L644.23,195.93 L644.58,195.89 L644.94,195.93 L645.29,195.5 L645.65,196.02 L646,196.01 L646.36,195.87 L646.71,195.98 L647.06,195.71 L647.42,196.32 L647.77,196.14 L648.13,196.79 L648.48,195.89 L648.83,196.14 L649.19,195.87 L649.54,195.61 L649.9,196.06 L650.25,196.12 L650.61,196.17 L650.96,196.24 L651.31,196.2 L651.67,195.93 L652.02,196.06 L652.38,196.05 L652.73,196.1 L653.08,195.87 L653.44,195.96 L653.79,196.09 L654.15,195.92 L654.5,196.1 L654.85,196.31 L655.21,195.76 L655.56,195.97 L655.92,196.27 L656.27,195.84 L656.63,195.99 L656.98,196.4 L657.33,195.73 L657.69,196 L658.04,195.88 L658.4,196.02 L658.75,196.1 L659.1,196.39 L659.46,195.86 L659.81,196.06 L660.17,196.13 L660.52,195.99 L660.88,196.05 L661.23,195.92 L661.58,196.15 L661.94,196.08 L662.29,196.52 L662.65,196.16 L663,195.93 L663.35,195.79 L663.71,196.15 L664.06,196.09 L664.42,195.73 L664.77,196.14 L665.13,195.91 L665.48,195.71 L665.83,196.06 L666.19,195.81 L666.54,196.22 L666.9,196.03 L667.25,196.09 L667.6,196.05 L667.96,195.83 L668.31,195.56 L668.67,196.21 L669.02,196.19 L669.37,195.97 L669.73,196.29 L670.08,195.97 L670.44,195.95 L670.79,196.13 L671.15,195.96 L671.5,196.4 L671.85,195.91" stroke="#151515"/>
<path d="M388.53,196.29 L388.89,196.11 L389.24,196.08 L389.6,196.05 L389.95,195.78 L390.3,195.94 L390.66,196.04 L391.01,195.84 L391.37,195.62 L391.72,195.95 L392.08,195.87 L392.43,195.68 L392.78,195.88 L393.14,196.21 L393.49,195.41 L393.85,195.47 L394.2,196.35 L394.55,195.94 L394.91,195.84 L395.26,195.72 L395.62,195.78 L395.97,195.98 L396.33,196.14 L396.68,195.89 L397.03,195.69 L397.39,196.14 L397.74,196.12 L398.1,195.91 L398.45,196.31 L398.8,195.95 L399.16,195.98 L399.51,195.79 L399.87,196.03 L400.22,196.07 L400.58,195.96 L400.93,195.89 L401.28,196.01 L401.64,195.86 L401.99,195.7 L402.35,195.61 L402.7,195.49 L403.05,196.02 L403.41,195.94 L403.76,196.37 L404.12,195.44 L404.47,195.99 L404.82,195.84 L405.18,195.71 L405.53,196.11 L405.89,195.72 L406.24,195.81 L406.6,196.19 L406.95,195.74 L407.3,195.54 L407.66,196.18 L408.01,195.61 L408.37,195.73 L408.72,195.67 L409.07,195.67 L409.43,195.48 L409.78,195.8 L410.14,195.56 L410.49,195.82 L410.85,195.58 L411.2,195.9 L411.55,195.74 L411.91,195.34 L412.26,195.61 L412.62,195.73 L412.97,195.93 L413.32,195.84 L413.68,195.63 L414.03,195.46 L414.39,195.56 L414.74,195.53 L415.1,195.64 L415.45,195.33 L415.8,195.69 L416.16,195.72 L416.51,195.4 L416.87,195.57 L417.22,195.63 L417.57,195.68 L417.93,195.6 L418.28,195.4 L418.64,195.44 L418.99,195.76 L419.35,195.4 L419.7,195.44 L420.05,195.67 L420.41,195.28 L420.76,195.49 L421.12,195.49 L421.47,195.23 L421.82,195.1 L422.18,195.51 L422.53,195.26 L422.89,195.52 L423.24,194.82 L423.59,195.4 L423.95,195.02 L424.3,195.39 L424.66,195.06 L425.01,194.74 L425.37,195.72 L425.72,195.25 L426.07,195.03 L426.43,195.13 L426.78,195.22 L427.14,194.59 L427.49,195 L427.84,195.33 L428.2,194.77 L428.55,195.28 L428.91,194.63 L429.26,194.95 L429.62,194.74 L429.97,194.45 L430.32,194.63 L430.68,194.87 L431.03,194.84 L431.39,194.13 L431.74,194.1 L432.09,194.28 L432.45,193.75 L432.8,193.62 L433.16,193.35 L433.51,193.68 L433.87,192.95 L434.22,192.32 L434.57,191.95 L434.93,191.45 L435.28,191.65 L435.64,190.54 L435.99,189.88 L436.34,188.82 L436.7,188.92 L437.05,188.12 L437.41,187.39 L437.76,186.69 L438.12,186.16 L438.47,185.49 L438.82,185.09 L439.18,184.58 L439.53,184.26 L439.89,183.94 L440.24,183.8 L440.59,183.77 L440.95,183.59 L441.3,183.72 L441.66,183.94 L442.01,184.11 L442.36,184.34 L442.72,184.77 L443.07,185.05 L443.43,185.35 L443.78,185.68 L444.14,186.04 L444.49,186.42 L444.84,186.44 L445.2,186.67 L445.55,186.79 L445.91,186.86 L446.26,186.8 L446.61,186.74 L446.97,186.62 L447.32,186.36 L447.68,186.05 L448.03,185.67 L448.39,185.26 L448.74,184.64 L449.09,184.18 L449.45,183.41 L449.8,182.8 L450.16,181.92 L450.51,180.99 L450.86,180.12 L451.22,179.15 L451.57,177.97 L451.93,176.74 L452.28,175.53 L452.64,174 L452.99,172.37 L453.34,170.69 L453.7,168.77 L454.05,166.67 L454.41,164.42 L454.76,161.96 L455.11,159.31 L455.47,156.44 L455.82,153.23 L456.18,149.76 L456.53,145.97 L456.88,141.83 L457.24,137.45 L457.59,132.51 L457.95,127.26 L458.3,121.7 L458.66,115.64 L459.01,109.23 L459.36,102.57 L459.72,95.43 L460.07,88.51 L460.43,80.99 L460.78,73.7 L461.13,66.21 L461.49,59 L461.84,52.57 L462.2,46.13 L462.55,40.41 L462.91,35.46 L463.26,31.13 L463.61,27.8 L463.97,24.85 L464.32,22.82 L464.68,21.42 L465.03,20.56 L465.38,19.99 L465.74,19.87 L466.09,19.79 L466.45,19.92 L466.8,20.5 L467.16,21.33 L467.51,22.84 L467.86,24.91 L468.22,27.7 L468.57,30.9 L468.93,34.63 L469.28,38.9 L469.63,43.47 L469.99,48.4 L470.34,53.82 L470.7,59.32 L471.05,64.68 L471.41,70.24 L471.76,75.87 L472.11,81.41 L472.47,86.93 L472.82,92.23 L473.18,97.26 L473.53,102.33 L473.88,107.14 L474.24,111.63 L474.59,115.74 L474.95,119.9 L475.3,123.97 L475.65,127.67 L476.01,131.1 L476.36,134.46 L476.72,137.44 L477.07,140.46 L477.43,143.28 L477.78,145.73 L478.13,148.29 L478.49,150.54 L478.84,152.73 L479.2,154.78 L479.55,156.66 L479.9,158.53 L480.26,160.31 L480.61,161.94 L480.97,163.39 L481.32,164.78 L481.68,166.08 L482.03,167.35 L482.38,168.52 L482.74,169.68 L483.09,170.81 L483.45,171.82 L483.8,172.87 L484.15,173.66 L484.51,174.48 L484.86,175.3 L485.22,176.12 L485.57,176.86 L485.93,177.49 L486.28,178.22 L486.63,178.81 L486.99,179.42 L487.34,180.02 L487.7,180.5 L488.05,181.14 L488.4,181.63 L488.76,182.13 L489.11,182.59 L489.47,182.87 L489.82,183.27 L490.18,183.78 L490.53,184.13 L490.88,184.45 L491.24,184.82 L491.59,185.13 L491.95,185.61 L492.3,185.88 L492.65,186.1 L493.01,186.33 L493.36,186.68 L493.72,187 L494.07,187.22 L494.42,187.58 L494.78,187.86 L495.13,187.58 L495.49,188.25 L495.84,188.32 L496.2,188.07 L496.55,188.47 L496.9,188.83 L497.26,189.21 L497.61,189.17 L497.97,189.08 L498.32,189.45 L498.67,189.47 L499.03,189.87 L499.38,189.93 L499.74,190.22 L500.09,190.23 L500.45,190.17 L500.8,190.88 L501.15,190.71 L501.51,190.77 L501.86,191.06 L502.22,191.11 L502.57,190.99 L502.92,190.84 L503.28,191.23 L503.63,191.4 L503.99,191.89 L504.34,191.25 L504.7,191.73 L505.05,191.84 L505.4,192.16 L505.76,192.02 L506.11,192.32 L506.47,192.15 L506.82,192.14 L507.17,192.31 L507.53,192.33 L507.88,192.64 L508.24,192.23 L508.59,192.73 L508.94,193.05 L509.3,192.76 L509.65,192.95 L510.01,193.06 L510.36,192.98 L510.72,192.9 L511.07,193.27 L511.42,193.1 L511.78,192.82 L512.13,193.03 L512.49,193.26 L512.84,193.25 L513.19,193.35 L513.55,193.38 L513.9,193.26 L514.26,193.48 L514.61,194.01 L514.97,193.55 L515.32,193.78 L515.67,193.49 L516.03,193.8 L516.38,193.68 L516.74,193.28 L517.09,194 L517.44,194.06 L517.8,194.15 L518.15,194.39 L518.51,194.32 L518.86,193.88 L519.22,194.12 L519.57,194.41 L519.92,194.36 L520.28,193.95 L520.63,194.27 L520.99,194.22 L521.34,194.1 L521.69,193.91 L522.05,193.81 L522.4,194.03 L522.76,194.25 L523.11,194.26 L523.47,193.95 L523.82,194.05 L524.17,194.44 L524.53,194.3 L524.88,194.36 L525.24,194.43 L525.59,194.57 L525.94,194.77 L526.3,194.62 L526.65,194.86 L527.01,194.29 L527.36,194.46 L527.71,194.85 L528.07,194.32 L528.42,194.44 L528.78,195.05 L529.13,194.28 L529.49,194.52 L529.84,194.27 L530.19,194.98 L530.55,194.63 L530.9,194.67 L531.26,194.73 L531.61,194.75 L531.96,194.58 L532.32,195.14 L532.67,195.1 L533.03,195.15 L533.38,194.99 L533.74,195.01 L534.09,194.82 L534.44,194.85 L534.8,194.92 L535.15,195.08 L535.51,195.05 L535.86,194.76 L536.21,194.82 L536.57,194.97 L536.92,195.07 L537.28,194.69 L537.63,195.15 L537.99,194.9 L538.34,194.81 L538.69,195.12 L539.05,194.9 L539.4,195.32 L539.76,194.88 L540.11,195.07 L540.46,195.46 L540.82,194.99 L541.17,195.33 L541.53,194.88 L541.88,195.31 L542.24,195.21 L542.59,195.12 L542.94,195.26 L543.3,195.15 L543.65,195.33 L544.01,195.08 L544.36,195.23 L544.71,195.19 L545.07,195.83 L545.42,195.01 L545.78,195.26 L546.13,195.65 L546.48,195.26 L546.84,195.19 L547.19,195.07 L547.55,195.53 L547.9,194.98 L548.26,195.35 L548.61,194.82 L548.96,195.37 L549.32,195.2 L549.67,195.43 L550.03,195.59 L550.38,195.13 L550.73,195.18 L551.09,195.05 L551.44,195.2 L551.8,195.51 L552.15,195.75 L552.51,195.54 L552.86,195.55 L553.21,195.59 L553.57,195.3 L553.92,195.36 L554.28,195.49 L554.63,195.41 L554.98,195.48 L555.34,195.41 L555.69,195.3 L556.05,195.26 L556.4,195.62 L556.76,195.8 L557.11,195.18 L557.46,195.46 L557.82,195.26 L558.17,195.85 L558.53,195.57 L558.88,195.5 L559.23,195.82 L559.59,195.63 L559.94,195.37 L560.3,195.3 L560.65,195.2 L561.01,195.72 L561.36,195.84 L561.71,195.44 L562.07,195.35 L562.42,195.52 L562.78,195.84 L563.13,195.4 L563.48,195.4 L563.84,195.46 L564.19,195.68 L564.55,195.52 L564.9,195.42 L565.25,195.71 L565.61,195.99 L565.96,195.53 L566.32,195.5 L566.67,195.61 L567.03,195.43 L567.38,195.74 L567.73,195.64 L568.09,195.69 L568.44,195.51 L568.8,195.29 L569.15,195.69 L569.5,195.2 L569.86,195.32 L570.21,195.48 L570.57,195.53 L570.92,195.28 L571.28,195.7 L571.63,195.68 L571.98,195.89 L572.34,195.57 L572.69,195.39 L573.05,195.56 L573.4,195.59 L573.75,195.72 L574.11,195.65 L574.46,195.99 L574.82,195.47 L575.17,195.78 L575.53,195.93 L575.88,195.86 L576.23,195.88 L576.59,195.52 L576.94,195.48 L577.3,196 L577.65,195.52 L578,195.53 L578.36,195.84 L578.71,196.04 L579.07,195.88 L579.42,195.86 L579.77,195.66 L580.13,195.81 L580.48,196.16 L580.84,195.69 L581.19,196.06 L581.55,195.55 L581.9,196 L582.25,195.89 L582.61,195.93 L582.96,195.87 L583.32,195.48 L583.67,195.58 L584.02,195.63 L584.38,195.69 L584.73,196.09 L585.09,195.88 L585.44,195.89 L585.8,195.98 L586.15,195.67 L586.5,195.93 L586.86,195.93 L587.21,196 L587.57,196.22 L587.92,195.66 L588.27,195.5 L588.63,195.75 L588.98,196 L589.34,196.36 L589.69,195.76 L590.05,195.54 L590.4,195.74 L590.75,195.6 L591.11,195.49 L591.46,195.57 L591.82,195.9 L592.17,195.59 L592.52,195.65 L592.88,196.14 L593.23,195.9 L593.59,196.12 L593.94,195.84 L594.3,195.7 L594.65,196.05 L595,196.26 L595.36,195.55 L595.71,195.75 L596.07,195.52 L596.42,196.11 L596.77,195.61 L597.13,195.39 L597.48,195.41 L597.84,195.88 L598.19,195.78 L598.54,195.87 L598.9,195.63 L599.25,195.62 L599.61,195.83 L599.96,196.13 L600.32,195.69 L600.67,195.95 L601.02,195.72 L601.38,195.8 L601.73,195.51 L602.09,195.61 L602.44,195.95 L602.79,195.78 L603.15,195.49 L603.5,195.97 L603.86,195.77 L604.21,195.61 L604.57,195.6 L604.92,195.76 L605.27,196.15 L605.63,196.14 L605.98,195.82 L606.34,195.79 L606.69,195.33 L607.04,196.06 L607.4,195.63 L607.75,195.71 L608.11,196.23 L608.46,196.05 L608.82,195.85 L609.17,195.99 L609.52,195.92 L609.88,195.78 L610.23,196.06 L610.59,195.79 L610.94,196.02 L611.29,196 L611.65,195.78 L612,196.01 L612.36,195.83 L612.71,195.56 L613.07,195.89 L613.42,195.93 L613.77,195.74 L614.13,195.98 L614.48,195.67 L614.84,196.17 L615.19,195.77 L615.54,196.01 L615.9,196.07 L616.25,195.53 L616.61,196.09 L616.96,195.54 L617.31,195.77 L617.67,195.6 L618.02,196.12 L618.38,195.66 L618.73,195.6 L619.09,195.94 L619.44,195.94 L619.79,195.4 L620.15,195.88 L620.5,196.01 L620.86,196.05 L621.21,195.82 L621.56,195.85 L621.92,195.88 L622.27,195.56 L622.63,195.99 L622.98,195.82 L623.34,195.62 L623.69,196.14 L624.04,195.71 L624.4,195.54 L624.75,196.21 L625.11,196.16 L625.46,196.15 L625.81,196.32 L626.17,195.84 L626.52,196.32 L626.88,195.83 L627.23,195.63 L627.59,196.28 L627.94,196 L628.29,196.34 L628.65,195.77 L629,196.09 L629.36,196 L629.71,195.93 L630.06,195.83 L630.42,196.01 L630.77,195.94 L631.13,196.06 L631.48,195.92 L631.84,196.19 L632.19,195.93 L632.54,196.35 L632.9,196.05 L633.25,195.54 L633.61,195.93 L633.96,196.22 L634.31,195.9 L634.67,196.16 L635.02,196.3 L635.38,196.11 L635.73,195.8 L636.08,195.87 L636.44,195.97 L636.79,196.15 L637.15,196.18 L637.5,195.67 L637.86,195.9 L638.21,196.16 L638.56,196.4 L638.92,196.25 L639.27,195.44 L639.63,196.2 L639.98,195.98 L640.33,195.92 L640.69,196 L641.04,196.02 L641.4,196.25 L641.75,196.19 L642.11,195.61 L642.46,196.13 L642.81,195.79 L643.17,196.32 L643.52,196.02 L643.88,195.91 L644.23,195.75 L644.58,196.21 L644.94,195.84 L645.29,195.89 L645.65,196.13 L646,195.87 L646.36,196.16 L646.71,196.14 L647.06,195.98 L647.42,196.55 L647.77,196 L648.13,196.19 L648.48,196.28 L648.83,196.07 L649.19,195.81 L649.54,196.06 L649.9,195.71 L650.25,196.22 L650.61,196.26 L650.96,195.65 L651.31,195.9 L651.67,195.78 L652.02,196.16 L652.38,195.81 L652.73,195.93 L653.08,195.84 L653.44,195.98 L653.79,195.73 L654.15,196.12 L654.5,196.19 L654.85,196.3 L655.21,195.74 L655.56,196.14 L655.92,196.21 L656.27,196.19 L656.63,196.08 L656.98,196.26 L657.33,196.05 L657.69,196.12 L658.04,196.11 L658.4,196.19 L658.75,195.98 L659.1,196.09 L659.46,195.97 L659.81,195.94 L660.17,195.92 L660.52,196.46 L660.88,196.11 L661.23,196.16 L661.58,195.83 L661.94,196.33 L662.29,196.15 L662.65,196.06 L663,196.07 L663.35,195.79 L663.71,196.09 L664.06,195.79 L664.42,196.31 L664.77,196.38 L665.13,195.74 L665.48,195.91 L665.83,195.9 L666.19,195.97 L666.54,195.9 L666.9,196.26 L667.25,195.8 L667.6,196.11 L667.96,195.79 L668.31,195.98 L668.67,196.42 L669.02,196.27 L669.37,195.76 L669.73,196.03 L670.08,196.09 L670.44,195.95 L670.79,196.09 L671.15,196.12 L671.5,195.98 L671.85,195.97" stroke="#ff2a2a"/>
<path d="M388.53,195.74 L388.89,196.05 L389.24,195.66 L389.6,195.68 L389.95,195.7 L390.3,195.84 L390.66,196.03 L391.01,196.03 L391.37,196.09 L391.72,196.21 L392.08,196.07 L392.43,196.19 L392.78,195.71 L393.14,195.94 L393.49,196.15 L393.85,196.46 L394.2,196.07 L394.55,196.14 L394.91,196.29 L395.26,196.3 L395.62,196.53 L395.97,195.93 L396.33,196.07 L396.68,195.51 L397.03,196.06 L397.39,196.08 L397.74,195.75 L398.1,196.02 L398.45,196.01 L398.8,196.13 L399.16,196.18 L399.51,195.73 L399.87,195.84 L400.22,195.68 L400.58,196.12 L400.93,196.04 L401.28,196.23 L401.64,195.84 L401.99,196.34 L402.35,195.92 L402.7,195.81 L403.05,195.74 L403.41,196.24 L403.76,195.81 L404.12,196.19 L404.47,196.2 L404.82,196.32 L405.18,195.79 L405.53,195.69 L405.89,196.16 L406.24,196.2 L406.6,196.11 L406.95,195.5 L407.3,195.82 L407.66,196.15 L408.01,196.41 L408.37,196.17 L408.72,195.78 L409.07,195.63 L409.43,196.08 L409.78,196.17 L410.14,196.13 L410.49,196.42 L410.85,195.83 L411.2,196.25 L411.55,195.8 L411.91,196.38 L412.26,196.29 L412.62,195.96 L412.97,196.18 L413.32,195.85 L413.68,196.01 L414.03,196.26 L414.39,195.88 L414.74,195.83 L415.1,196.41 L415.45,195.62 L415.8,195.9 L416.16,195.84 L416.51,196.39 L416.87,196.15 L417.22,196.07 L417.57,195.77 L417.93,196.3 L418.28,196.18 L418.64,196.42 L418.99,196.04 L419.35,195.91 L419.7,196.34 L420.05,196.1 L420.41,195.87 L420.76,195.64 L421.12,195.83 L421.47,196.03 L421.82,196.21 L422.18,196.16 L422.53,196.1 L422.89,195.92 L423.24,195.96 L423.59,195.59 L423.95,195.88 L424.3,196.17 L424.66,195.61 L425.01,195.73 L425.37,195.9 L425.72,196.07 L426.07,196.31 L426.43,196.12 L426.78,195.71 L427.14,196.07 L427.49,196.17 L427.84,195.84 L428.2,195.82 L428.55,195.74 L428.91,195.72 L429.26,195.55 L429.62,196.01 L429.97,195.61 L430.32,196.01 L430.68,195.63 L431.03,195.72 L431.39,195.68 L431.74,195.49 L432.09,195.65 L432.45,195.37 L432.8,195.35 L433.16,195.44 L433.51,195.5 L433.87,195.44 L434.22,195.28 L434.57,195.08 L434.93,194.89 L435.28,194.09 L435.64,194.41 L435.99,194.2 L436.34,194.35 L436.7,194.12 L437.05,193.85 L437.41,193.55 L437.76,193.64 L438.12,192.92 L438.47,193.25 L438.82,192.8 L439.18,193.44 L439.53,192.91 L439.89,192.84 L440.24,192.88 L440.59,192.85 L440.95,193 L441.3,193.13 L441.66,193.69 L442.01,193.57 L442.36,194.06 L442.72,193.58 L443.07,193.79 L443.43,194.03 L443.78,194.29 L444.14,194.35 L444.49,193.93 L444.84,194.04 L445.2,194.48 L445.55,194.25 L445.91,194.89 L446.26,194.99 L446.61,194.7 L446.97,194.78 L447.32,194.71 L447.68,194.54 L448.03,193.92 L448.39,194.67 L448.74,194.5 L449.09,194.42 L449.45,194.45 L449.8,194.22 L450.16,194 L450.51,194.61 L450.86,194.27 L451.22,194.33 L451.57,194.16 L451.93,194.53 L452.28,194.54 L452.64,194.62 L452.99,193.98 L453.34,194.02 L453.7,194.01 L454.05,194.49 L454.41,194.03 L454.76,194.08 L455.11,194.19 L455.47,194.05 L455.82,193.67 L456.18,193.67 L456.53,193.76 L456.88,193.61 L457.24,193.81 L457.59,193.63 L457.95,193.61 L458.3,193.46 L458.66,193.56 L459.01,193.54 L459.36,193.51 L459.72,193.58 L460.07,192.93 L460.43,193.26 L460.78,193.24 L461.13,192.8 L461.49,192.95 L461.84,193.54 L462.2,193.02 L462.55,192.94 L462.91,192.67 L463.26,192.74 L463.61,192.8 L463.97,193.16 L464.32,193.04 L464.68,192.74 L465.03,192.62 L465.38,192.87 L465.74,192.67 L466.09,192.59 L466.45,192.41 L466.8,192.26 L467.16,192.3 L467.51,192.4 L467.86,191.77 L468.22,191.58 L468.57,191.81 L468.93,191.44 L469.28,191.42 L469.63,191.21 L469.99,191.09 L470.34,191.17 L470.7,190.69 L471.05,190.39 L471.41,190.57 L471.76,189.72 L472.11,189.43 L472.47,189.21 L472.82,188.87 L473.18,188.8 L473.53,188.67 L473.88,188.33 L474.24,187.95 L474.59,187.3 L474.95,186.82 L475.3,186.24 L475.65,185.81 L476.01,184.89 L476.36,184.19 L476.72,183.56 L477.07,182.67 L477.43,181.76 L477.78,180.76 L478.13,179.67 L478.49,178.44 L478.84,177.14 L479.2,175.58 L479.55,173.95 L479.9,172.12 L480.26,170.18 L480.61,167.9 L480.97,165.44 L481.32,162.67 L481.68,159.75 L482.03,156.3 L482.38,152.55 L482.74,148.46 L483.09,143.98 L483.45,138.97 L483.8,133.46 L484.15,127.38 L484.51,120.79 L484.86,113.85 L485.22,106.34 L485.57,98.3 L485.93,90 L486.28,81.53 L486.63,72.93 L486.99,64.42 L487.34,56.24 L487.7,48.77 L488.05,41.9 L488.4,35.83 L488.76,30.96 L489.11,26.92 L489.47,23.96 L489.82,21.95 L490.18,20.76 L490.53,20.04 L490.88,19.82 L491.24,19.75 L491.59,19.99 L491.95,20.58 L492.3,22.18 L492.65,24.32 L493.01,27.37 L493.36,31.21 L493.72,35.99 L494.07,41.27 L494.42,47.28 L494.78,53.59 L495.13,60.22 L495.49,67.24 L495.84,74.14 L496.2,81.13 L496.55,87.78 L496.9,94.35 L497.26,100.74 L497.61,106.85 L497.97,112.47 L498.32,117.81 L498.67,122.87 L499.03,127.61 L499.38,132.19 L499.74,136.22 L500.09,139.9 L500.45,143.61 L500.8,146.74 L501.15,149.73 L501.51,152.62 L501.86,155.2 L502.22,157.71 L502.57,160.01 L502.92,162.01 L503.28,163.95 L503.63,165.73 L503.99,167.34 L504.34,168.94 L504.7,170.36 L505.05,171.68 L505.4,172.96 L505.76,174.01 L506.11,175.19 L506.47,176.23 L506.82,177.2 L507.17,178.11 L507.53,178.83 L507.88,179.69 L508.24,180.5 L508.59,181.16 L508.94,181.78 L509.3,182.42 L509.65,182.9 L510.01,183.58 L510.36,183.99 L510.72,184.5 L511.07,185.05 L511.42,185.4 L511.78,185.82 L512.13,186.18 L512.49,186.61 L512.84,186.91 L513.19,187.37 L513.55,187.81 L513.9,187.71 L514.26,187.95 L514.61,188.44 L514.97,188.83 L515.32,188.72 L515.67,189.63 L516.03,189.58 L516.38,189.48 L516.74,189.69 L517.09,190.25 L517.44,190.62 L517.8,190.09 L518.15,190.54 L518.51,190.93 L518.86,190.88 L519.22,190.86 L519.57,191.74 L519.92,191.1 L520.28,191.31 L520.63,192.04 L520.99,191.56 L521.34,192.22 L521.69,191.72 L522.05,191.98 L522.4,191.7 L522.76,192.41 L523.11,192.38 L523.47,192.25 L523.82,192.7 L524.17,192.8 L524.53,192.82 L524.88,192.84 L525.24,193.13 L525.59,192.88 L525.94,192.94 L526.3,193.11 L526.65,192.83 L527.01,193.33 L527.36,193.05 L527.71,193.51 L528.07,193.29 L528.42,193.92 L528.78,193.53 L529.13,193.66 L529.49,193.78 L529.84,193.86 L530.19,193.85 L530.55,193.98 L530.9,194.34 L531.26,194.05 L531.61,194.09 L531.96,194.12 L532.32,194.28 L532.67,194.13 L533.03,193.97 L533.38,194.23 L533.74,194.32 L534.09,193.96 L534.44,194.08 L534.8,194.13 L535.15,194.11 L535.51,194.46 L535.86,194.45 L536.21,194.22 L536.57,194.6 L536.92,194.54 L537.28,194.46 L537.63,194.49 L537.99,194.65 L538.34,194.41 L538.69,194.69 L539.05,194.52 L539.4,194.47 L539.76,194.58 L540.11,194.59 L540.46,195.02 L540.82,195.07 L541.17,194.95 L541.53,194.74 L541.88,194.54 L542.24,195.14 L542.59,194.83 L542.94,195.1 L543.3,195.09 L543.65,195.01 L544.01,194.83 L544.36,194.95 L544.71,194.76 L545.07,195.23 L545.42,194.85 L545.78,194.86 L546.13,195.06 L546.48,194.99 L546.84,195.22 L547.19,195.35 L547.55,195.22 L547.9,195.28 L548.26,194.55 L548.61,195.28 L548.96,194.84 L549.32,195.16 L549.67,195.15 L550.03,195.07 L550.38,195.41 L550.73,195.06 L551.09,195.19 L551.44,195.6 L551.8,195.16 L552.15,195.18 L552.51,195.22 L552.86,194.99 L553.21,195.42 L553.57,195.23 L553.92,195.19 L554.28,195.55 L554.63,195.12 L554.98,195.69 L555.34,195.67 L555.69,195.29 L556.05,195.64 L556.4,195.44 L556.76,195.78 L557.11,195.42 L557.46,195.68 L557.82,195.38 L558.17,195.79 L558.53,195.37 L558.88,195.53 L559.23,195.47 L559.59,195.51 L559.94,195.47 L560.3,195.79 L560.65,196.06 L561.01,195.51 L561.36,195.73 L561.71,195.63 L562.07,195.45 L562.42,195.97 L562.78,195.72 L563.13,195.69 L563.48,195.79 L563.84,195.5 L564.19,195.61 L564.55,195.76 L564.9,195.8 L565.25,195.43 L565.61,195.74 L565.96,195.49 L566.32,195.52 L566.67,196.02 L567.03,195.85 L567.38,195.63 L567.73,195.56 L568.09,195.48 L568.44,195.48 L568.8,195.43 L569.15,195.73 L569.5,195.71 L569.86,195.5 L570.21,195.76 L570.57,195.45 L570.92,196.02 L571.28,195.55 L571.63,195.72 L571.98,196.11 L572.34,195.49 L572.69,195.63 L573.05,195.7 L573.4,195.94 L573.75,195.81 L574.11,195.4 L574.46,195.9 L574.82,196.46 L575.17,195.91 L575.53,195.99 L575.88,195.76 L576.23,195.82 L576.59,195.94 L576.94,195.92 L577.3,195.53 L577.65,196.06 L578,195.34 L578.36,195.88 L578.71,195.99 L579.07,195.6 L579.42,195.65 L579.77,195.99 L580.13,195.62 L580.48,196.17 L580.84,195.98 L581.19,195.55 L581.55,195.84 L581.9,196.07 L582.25,195.69 L582.61,195.6 L582.96,195.8 L583.32,196.18 L583.67,195.88 L584.02,195.72 L584.38,195.65 L584.73,195.42 L585.09,195.87 L585.44,195.92 L585.8,195.83 L586.15,195.57 L586.5,196.02 L586.86,195.55 L587.21,196.41 L587.57,195.66 L587.92,195.98 L588.27,195.74 L588.63,195.69 L588.98,196.09 L589.34,195.86 L589.69,195.8 L590.05,195.72 L590.4,196.05 L590.75,196.06 L591.11,196.26 L591.46,195.32 L591.82,195.9 L592.17,195.91 L592.52,196.18 L592.88,195.67 L593.23,195.98 L593.59,195.57 L593.94,195.69 L594.3,195.87 L594.65,195.72 L595,196.11 L595.36,195.95 L595.71,196 L596.07,196.15 L596.42,195.88 L596.77,195.92 L597.13,195.58 L597.48,196.6 L597.84,196.03 L598.19,196.09 L598.54,195.99 L598.9,195.81 L599.25,195.81 L599.61,195.89 L599.96,196 L600.32,195.8 L600.67,195.83 L601.02,196.29 L601.38,195.96 L601.73,196.2 L602.09,196.16 L602.44,195.88 L602.79,195.9 L603.15,195.89 L603.5,196.1 L603.86,195.96 L604.21,196.11 L604.57,195.84 L604.92,195.77 L605.27,195.55 L605.63,195.66 L605.98,196.09 L606.34,196.02 L606.69,196.13 L607.04,195.86 L607.4,195.51 L607.75,195.78 L608.11,196.4 L608.46,196.2 L608.82,196.21 L609.17,195.83 L609.52,195.94 L609.88,195.87 L610.23,195.56 L610.59,196.12 L610.94,196.12 L611.29,195.53 L611.65,195.87 L612,196.11 L612.36,196.37 L612.71,196.27 L613.07,196.46 L613.42,195.93 L613.77,195.94 L614.13,195.74 L614.48,195.98 L614.84,196.1 L615.19,196.11 L615.54,195.55 L615.9,196.33 L616.25,195.92 L616.61,195.95 L616.96,195.83 L617.31,196.05 L617.67,195.86 L618.02,195.79 L618.38,195.99 L618.73,196.06 L619.09,196 L619.44,196.17 L619.79,196.01 L620.15,196.03 L620.5,195.92 L620.86,195.69 L621.21,195.69 L621.56,196.06 L621.92,195.84 L622.27,195.91 L622.63,195.81 L622.98,195.97 L623.34,195.92 L623.69,196.07 L624.04,196.14 L624.4,195.79 L624.75,195.7 L625.11,195.84 L625.46,195.89 L625.81,195.92 L626.17,196.08 L626.52,196.36 L626.88,195.84 L627.23,195.94 L627.59,196.1 L627.94,196.19 L628.29,195.71 L628.65,196.37 L629,195.61 L629.36,195.85 L629.71,195.49 L630.06,196.14 L630.42,195.99 L630.77,196.1 L631.13,195.96 L631.48,196.04 L631.84,196.15 L632.19,195.77 L632.54,196.16 L632.9,196.1 L633.25,195.88 L633.61,196.11 L633.96,196.09 L634.31,195.92 L634.67,196.07 L635.02,196.26 L635.38,196.02 L635.73,196.05 L636.08,195.64 L636.44,196.23 L636.79,195.8 L637.15,196.17 L637.5,196.08 L637.86,196.07 L638.21,195.95 L638.56,195.82 L638.92,195.63 L639.27,196.14 L639.63,195.72 L639.98,195.8 L640.33,195.83 L640.69,196.17 L641.04,195.82 L641.4,196.03 L641.75,195.93 L642.11,196.07 L642.46,195.87 L642.81,195.77 L643.17,195.77 L643.52,196.05 L643.88,195.8 L644.23,195.7 L644.58,196.21 L644.94,195.7 L645.29,196.3 L645.65,195.9 L646,195.89 L646.36,195.7 L646.71,195.96 L647.06,196.12 L647.42,196.18 L647.77,196.28 L648.13,195.85 L648.48,196.07 L648.83,196.17 L649.19,195.91 L649.54,196.18 L649.9,196.11 L650.25,196.12 L650.61,195.67 L650.96,195.71 L651.31,196.05 L651.67,196.35 L652.02,195.96 L652.38,196.01 L652.73,195.95 L653.08,195.9 L653.44,196.09 L653.79,195.83 L654.15,195.85 L654.5,195.98 L654.85,196.11 L655.21,196.13 L655.56,195.88 L655.92,196.26 L656.27,196.06 L656.63,196.19 L656.98,196.32 L657.33,195.9 L657.69,196.03 L658.04,196.02 L658.4,195.84 L658.75,196.35 L659.1,196.04 L659.46,195.97 L659.81,195.85 L660.17,196.26 L660.52,195.88 L660.88,195.98 L661.23,195.74 L661.58,195.79 L661.94,195.92 L662.29,195.58 L662.65,196.03 L663,196.12 L663.35,196.11 L663.71,196.23 L664.06,196.04 L664.42,196.43 L664.77,196.05 L665.13,195.95 L665.48,195.83 L665.83,196.11 L666.19,195.74 L666.54,196.17 L666.9,196.07 L667.25,196.43 L667.6,196.2 L667.96,196.21 L668.31,195.73 L668.67,195.93 L669.02,196.27 L669.37,195.93 L669.73,195.94 L670.08,196.09 L670.44,196.03 L670.79,196.1 L671.15,196.15 L671.5,196.41 L671.85,196.06" stroke="#2a2aff"/>
<path d="M388.53,195.83 L388.89,195.8 L389.24,196.15 L389.6,196.25 L389.95,196.13 L390.3,195.91 L390.66,196.02 L391.01,196.21 L391.37,196.02 L391.72,196.13 L392.08,195.98 L392.43,196.17 L392.78,196.39 L393.14,196.08 L393.49,195.93 L393.85,196.32 L394.2,196.11 L394.55,195.91 L394.91,196.17 L395.26,196.22 L395.62,195.67 L395.97,195.92 L396.33,195.88 L396.68,196.28 L397.03,195.75 L397.39,196.43 L397.74,196.2 L398.1,195.94 L398.45,195.81 L398.8,196.28 L399.16,196.22 L399.51,196.05 L399.87,196.48 L400.22,195.96 L400.58,195.97 L400.93,196.18 L401.28,195.98 L401.64,195.93 L401.99,196.02 L402.35,195.98 L402.7,195.78 L403.05,196.18 L403.41,196.05 L403.76,196.19 L404.12,195.87 L404.47,196.17 L404.82,195.99 L405.18,196.06 L405.53,196.07 L405.89,195.73 L406.24,196.1 L406.6,195.79 L406.95,195.92 L407.3,195.81 L407.66,196.12 L408.01,195.89 L408.37,195.93 L408.72,196.21 L409.07,196.03 L409.43,196.11 L409.78,196.09 L410.14,195.82 L410.49,196.23 L410.85,196.43 L411.2,196.44 L411.55,196.17 L411.91,196.21 L412.26,196.08 L412.62,195.97 L412.97,195.72 L413.32,196.02 L413.68,195.99 L414.03,196.23 L414.39,195.96 L414.74,195.8 L415.1,195.81 L415.45,196.48 L415.8,195.9 L416.16,195.76 L416.51,195.91 L416.87,196.38 L417.22,196.14 L417.57,195.96 L417.93,195.99 L418.28,196.24 L418.64,196.26 L418.99,195.88 L419.35,196.35 L419.7,195.78 L420.05,196.07 L420.41,196.01 L420.76,196.35 L421.12,196.2 L421.47,195.93 L421.82,196.37 L422.18,195.65 L422.53,196.36 L422.89,196.32 L423.24,196.06 L423.59,195.97 L423.95,195.92 L424.3,196.15 L424.66,196.11 L425.01,196.12 L425.37,196.19 L425.72,196.6 L426.07,195.87 L426.43,196.02 L426.78,196.04 L427.14,196.2 L427.49,196.02 L427.84,196.07 L428.2,196.08 L428.55,195.84 L428.91,196.42 L429.26,196.02 L429.62,196.28 L429.97,196.13 L430.32,195.76 L430.68,196.28 L431.03,196.08 L431.39,196.18 L431.74,195.87 L432.09,196.26 L432.45,196.4 L432.8,195.96 L433.16,196.13 L433.51,196.12 L433.87,195.84 L434.22,196.24 L434.57,196.13 L434.93,196.03 L435.28,195.97 L435.64,196.16 L435.99,195.85 L436.34,195.6 L436.7,196.14 L437.05,195.67 L437.41,196.48 L437.76,195.77 L438.12,196.12 L438.47,196.02 L438.82,196.12 L439.18,196.18 L439.53,196.31 L439.89,196.13 L440.24,195.78 L440.59,195.81 L440.95,196.12 L441.3,196.15 L441.66,196.19 L442.01,196.29 L442.36,195.67 L442.72,195.91 L443.07,196.02 L443.43,196.14 L443.78,196.24 L444.14,195.77 L444.49,195.88 L444.84,196.23 L445.2,195.83 L445.55,196.26 L445.91,195.9 L446.26,196.22 L446.61,196.11 L446.97,195.93 L447.32,195.94 L447.68,195.82 L448.03,196.19 L448.39,195.7 L448.74,195.75 L449.09,196.02 L449.45,195.92 L449.8,196.17 L450.16,196.04 L450.51,196.28 L450.86,195.99 L451.22,195.97 L451.57,195.73 L451.93,195.81 L452.28,195.84 L452.64,196.07 L452.99,196.04 L453.34,196.07 L453.7,195.95 L454.05,196.39 L454.41,195.83 L454.76,196.31 L455.11,196.09 L455.47,195.98 L455.82,196.09 L456.18,195.64 L456.53,196 L456.88,195.66 L457.24,195.73 L457.59,196.07 L457.95,195.89 L458.3,195.7 L458.66,196.03 L459.01,195.94 L459.36,196.07 L459.72,195.94 L460.07,196.02 L460.43,195.93 L460.78,195.74 L461.13,195.66 L461.49,195.91 L461.84,195.89 L462.2,195.75 L462.55,195.98 L462.91,196.13 L463.26,195.69 L463.61,196.1 L463.97,195.72 L464.32,196.1 L464.68,195.53 L465.03,196.1 L465.38,195.72 L465.74,195.58 L466.09,196.07 L466.45,195.57 L466.8,196.03 L467.16,196.22 L467.51,195.71 L467.86,195.71 L468.22,195.88 L468.57,196.35 L468.93,195.84 L469.28,195.88 L469.63,195.89 L469.99,195.87 L470.34,196.16 L470.7,195.91 L471.05,195.42 L471.41,195.46 L471.76,195.84 L472.11,195.9 L472.47,195.67 L472.82,195.52 L473.18,195.58 L473.53,195.95 L473.88,195.67 L474.24,195.67 L474.59,195.39 L474.95,195.43 L475.3,195.55 L475.65,195.4 L476.01,195.71 L476.36,195.3 L476.72,195.69 L477.07,195.51 L477.43,195.38 L477.78,195.74 L478.13,195.68 L478.49,195.87 L478.84,195.47 L479.2,195.49 L479.55,195.53 L479.9,195.34 L480.26,195.85 L480.61,195.4 L480.97,195.35 L481.32,195.4 L481.68,195.16 L482.03,194.93 L482.38,195.35 L482.74,195.42 L483.09,195.32 L483.45,195.15 L483.8,195.01 L484.15,195.27 L484.51,194.85 L484.86,195.23 L485.22,194.81 L485.57,194.85 L485.93,194.79 L486.28,194.4 L486.63,194.84 L486.99,194.77 L487.34,194.58 L487.7,194.44 L488.05,194.83 L488.4,194.43 L488.76,194.57 L489.11,194.22 L489.47,193.99 L489.82,194.18 L490.18,194.12 L490.53,193.97 L490.88,194.51 L491.24,193.65 L491.59,193.58 L491.95,193.55 L492.3,193.54 L492.65,193.47 L493.01,193.22 L493.36,192.79 L493.72,192.9 L494.07,192.43 L494.42,193.05 L494.78,192.42 L495.13,192.07 L495.49,191.9 L495.84,192 L496.2,191.54 L496.55,190.88 L496.9,191.1 L497.26,190.72 L497.61,190.4 L497.97,189.92 L498.32,189.28 L498.67,188.86 L499.03,188.93 L499.38,187.71 L499.74,187.58 L500.09,186.9 L500.45,186.12 L500.8,185.52 L501.15,184.82 L501.51,183.95 L501.86,183.04 L502.22,182.06 L502.57,180.92 L502.92,179.64 L503.28,178.36 L503.63,177.01 L503.99,175.17 L504.34,173.65 L504.7,171.65 L505.05,169.53 L505.4,167.14 L505.76,164.62 L506.11,161.73 L506.47,158.49 L506.82,155.16 L507.17,151.44 L507.53,147.19 L507.88,142.71 L508.24,137.72 L508.59,132.29 L508.94,126.45 L509.3,120.23 L509.65,113.5 L510.01,106.53 L510.36,99.24 L510.72,91.52 L511.07,83.87 L511.42,76.03 L511.78,68.51 L512.13,61.07 L512.49,54.12 L512.84,47.87 L513.19,41.99 L513.55,36.88 L513.9,32.39 L514.26,29.01 L514.61,25.98 L514.97,23.79 L515.32,22.23 L515.67,21.13 L516.03,20.5 L516.38,20.07 L516.74,19.87 L517.09,19.79 L517.44,19.76 L517.8,19.84 L518.15,20.14 L518.51,20.75 L518.86,21.69 L519.22,23.24 L519.57,25.07 L519.92,27.3 L520.28,30 L520.63,33.08 L520.99,36.68 L521.34,40.32 L521.69,44.38 L522.05,48.62 L522.4,53.29 L522.76,57.83 L523.11,62.52 L523.47,67.31 L523.82,72.08 L524.17,76.89 L524.53,81.76 L524.88,86.33 L525.24,90.96 L525.59,95.45 L525.94,99.63 L526.3,103.95 L526.65,108 L527.01,111.86 L527.36,115.61 L527.71,119.06 L528.07,122.51 L528.42,125.7 L528.78,128.86 L529.13,131.88 L529.49,134.59 L529.84,137.36 L530.19,139.89 L530.55,142.28 L530.9,144.56 L531.26,146.67 L531.61,148.84 L531.96,150.74 L532.32,152.62 L532.67,154.46 L533.03,156.13 L533.38,157.66 L533.74,159.14 L534.09,160.58 L534.44,161.93 L534.8,163.26 L535.15,164.52 L535.51,165.64 L535.86,166.84 L536.21,167.93 L536.57,168.88 L536.92,169.91 L537.28,170.77 L537.63,171.67 L537.99,172.49 L538.34,173.26 L538.69,174.07 L539.05,174.77 L539.4,175.55 L539.76,176.1 L540.11,176.8 L540.46,177.33 L540.82,178.11 L541.17,178.55 L541.53,179.02 L541.88,179.7 L542.24,180.06 L542.59,180.51 L542.94,180.96 L543.3,181.49 L543.65,181.81 L544.01,182.21 L544.36,182.67 L544.71,182.94 L545.07,183.34 L545.42,183.68 L545.78,184.04 L546.13,184.3 L546.48,184.64 L546.84,184.87 L547.19,185.2 L547.55,185.54 L547.9,185.78 L548.26,185.97 L548.61,186.29 L548.96,186.49 L549.32,186.71 L549.67,186.98 L550.03,187.32 L550.38,187.36 L550.73,187.55 L551.09,187.76 L551.44,188.13 L551.8,187.91 L552.15,188.37 L552.51,188.64 L552.86,188.82 L553.21,188.77 L553.57,189.22 L553.92,189.35 L554.28,188.89 L554.63,189.17 L554.98,189.36 L555.34,189.43 L555.69,189.72 L556.05,190.32 L556.4,189.85 L556.76,189.96 L557.11,190.23 L557.46,190.84 L557.82,190.3 L558.17,190.38 L558.53,190.87 L558.88,190.84 L559.23,190.81 L559.59,191.08 L559.94,190.93 L560.3,191.23 L560.65,191.19 L561.01,191.41 L561.36,191.81 L561.71,191.79 L562.07,191.02 L562.42,191.69 L562.78,191.55 L563.13,191.66 L563.48,191.62 L563.84,191.93 L564.19,192.23 L564.55,192.17 L564.9,192.64 L565.25,192.35 L565.61,192.18 L565.96,192.87 L566.32,192.45 L566.67,192.38 L567.03,192.33 L567.38,192.85 L567.73,192.85 L568.09,193.15 L568.44,193.03 L568.8,192.76 L569.15,192.5 L569.5,193.21 L569.86,192.74 L570.21,192.98 L570.57,193.21 L570.92,192.71 L571.28,193.72 L571.63,193.26 L571.98,193.24 L572.34,192.89 L572.69,193 L573.05,192.94 L573.4,193.42 L573.75,193.28 L574.11,193.24 L574.46,193.45 L574.82,193.52 L575.17,193.66 L575.53,193.74 L575.88,193.95 L576.23,193.33 L576.59,193.85 L576.94,194.22 L577.3,193.77 L577.65,193.86 L578,193.84 L578.36,193.54 L578.71,193.96 L579.07,194.02 L579.42,194.15 L579.77,194.03 L580.13,194.14 L580.48,194.03 L580.84,193.46 L581.19,194.04 L581.55,194.33 L581.9,193.78 L582.25,194.02 L582.61,194.05 L582.96,194.1 L583.32,194.1 L583.67,194.15 L584.02,194.02 L584.38,194.13 L584.73,194.08 L585.09,194.48 L585.44,194.4 L585.8,194.57 L586.15,194.24 L586.5,194.28 L586.86,194.57 L587.21,194.37 L587.57,193.97 L587.92,194.28 L588.27,194.78 L588.63,194.58 L588.98,194.45 L589.34,194.61 L589.69,194.54 L590.05,194.39 L590.4,194.58 L590.75,194.89 L591.11,194.53 L591.46,194.72 L591.82,194.69 L592.17,194.84 L592.52,195.03 L592.88,195.01 L593.23,194.84 L593.59,195 L593.94,195.36 L594.3,194.58 L594.65,195.06 L595,194.99 L595.36,194.74 L595.71,195.36 L596.07,194.6 L596.42,195.05 L596.77,194.77 L597.13,195.01 L597.48,194.86 L597.84,194.92 L598.19,194.95 L598.54,195.34 L598.9,195.28 L599.25,194.99 L599.61,194.7 L599.96,195.12 L600.32,194.91 L600.67,194.99 L601.02,194.94 L601.38,194.84 L601.73,195.37 L602.09,195.01 L602.44,195.11 L602.79,195.15 L603.15,195.27 L603.5,195.27 L603.86,195.33 L604.21,195.35 L604.57,194.62 L604.92,194.79 L605.27,195.15 L605.63,195.01 L605.98,195.37 L606.34,195.75 L606.69,195.56 L607.04,195.16 L607.4,194.9 L607.75,195.22 L608.11,195.42 L608.46,195.28 L608.82,195.44 L609.17,195.53 L609.52,195.3 L609.88,195.34 L610.23,195.43 L610.59,195.45 L610.94,195.47 L611.29,195.24 L611.65,195 L612,195.34 L612.36,194.84 L612.71,195.65 L613.07,195.26 L613.42,195.56 L613.77,195.37 L614.13,195.32 L614.48,195.23 L614.84,195.12 L615.19,195.47 L615.54,195.62 L615.9,195.41 L616.25,195.32 L616.61,195.53 L616.96,195.2 L617.31,195.05 L617.67,195.69 L618.02,195.33 L618.38,195.2 L618.73,195.81 L619.09,195.38 L619.44,195.47 L619.79,195.73 L620.15,195.17 L620.5,195.4 L620.86,195.55 L621.21,195.36 L621.56,195.33 L621.92,195.3 L622.27,195.35 L622.63,195.39 L622.98,195.72 L623.34,195.57 L623.69,195.46 L624.04,196.06 L624.4,195.06 L624.75,195.58 L625.11,195.72 L625.46,195.88 L625.81,195.46 L626.17,195.51 L626.52,195.64 L626.88,195.61 L627.23,195.71 L627.59,195.69 L627.94,195.56 L628.29,195.68 L628.65,195.41 L629,195.58 L629.36,195.53 L629.71,195.48 L630.06,195.3 L630.42,195.44 L630.77,195.52 L631.13,195.61 L631.48,195.74 L631.84,195.65 L632.19,195.45 L632.54,195.54 L632.9,195.67 L633.25,195.87 L633.61,195.92 L633.96,195.54 L634.31,195.4 L634.67,195.53 L635.02,195.9 L635.38,195.66 L635.73,195.57 L636.08,195.81 L636.44,195.56 L636.79,195.67 L637.15,195.81 L637.5,195.89 L637.86,195.47 L638.21,195.57 L638.56,195.83 L638.92,195.86 L639.27,195.47 L639.63,195.53 L639.98,195.72 L640.33,195.33 L640.69,195.72 L641.04,195.88 L641.4,195.44 L641.75,195.71 L642.11,195.6 L642.46,195.67 L642.81,195.89 L643.17,195.93 L643.52,195.73 L643.88,195.4 L644.23,195.9 L644.58,195.41 L644.94,195.65 L645.29,195.93 L645.65,195.65 L646,195.59 L646.36,195.89 L646.71,196.15 L647.06,195.64 L647.42,195.94 L647.77,195.63 L648.13,196.11 L648.48,195.75 L648.83,195.89 L649.19,196.03 L649.54,195.78 L649.9,195.7 L650.25,195.85 L650.61,195.98 L650.96,195.69 L651.31,196.1 L651.67,195.63 L652.02,195.64 L652.38,195.4 L652.73,195.57 L653.08,195.68 L653.44,195.7 L653.79,195.75 L654.15,196.03 L654.5,195.46 L654.85,195.65 L655.21,195.82 L655.56,196 L655.92,195.46 L656.27,195.66 L656.63,196.01 L656.98,195.63 L657.33,195.38 L657.69,195.78 L658.04,195.7 L658.4,195.87 L658.75,195.91 L659.1,195.56 L659.46,195.15 L659.81,195.76 L660.17,195.81 L660.52,195.63 L660.88,195.85 L661.23,195.64 L661.58,195.63 L661.94,196.01 L662.29,196.02 L662.65,195.82 L663,195.63 L663.35,195.75 L663.71,195.55 L664.06,196.09 L664.42,195.71 L664.77,195.94 L665.13,195.79 L665.48,195.75 L665.83,196.01 L666.19,195.86 L666.54,196.06 L666.9,195.77 L667.25,196 L667.6,195.92 L667.96,195.78 L668.31,195.96 L668.67,195.59 L669.02,195.96 L669.37,195.66 L669.73,195.77 L670.08,196.05 L670.44,195.88 L670.79,196.01 L671.15,195.91 L671.5,195.89 L671.85,195.47" stroke="#ff2aff"/>
<path d="M388.53,196.17 L388.89,195.76 L389.24,195.99 L389.6,196.35 L389.95,196.56 L390.3,195.94 L390.66,196.49 L391.01,195.93 L391.37,195.87 L391.72,196 L392.08,196.12 L392.43,196.13 L392.78,196.03 L393.14,196.14 L393.49,196.19 L393.85,196.16 L394.2,195.84 L394.55,196.21 L394.91,196 L395.26,196.32 L395.62,196.23 L395.97,196.36 L396.33,196.12 L396.68,195.94 L397.03,196.02 L397.39,196.18 L397.74,195.95 L398.1,196.15 L398.45,196 L398.8,196.02 L399.16,195.97 L399.51,196.58 L399.87,196.34 L400.22,195.92 L400.58,196.1 L400.93,195.62 L401.28,196.12 L401.64,196.19 L401.99,195.77 L402.35,195.96 L402.7,195.69 L403.05,195.97 L403.41,196.12 L403.76,195.93 L404.12,196.24 L404.47,196.17 L404.82,196.19 L405.18,196.12 L405.53,195.91 L405.89,196.17 L406.24,196.01 L406.6,196.17 L406.95,195.89 L407.3,196.64 L407.66,196.11 L408.01,196.04 L408.37,196.29 L408.72,195.86 L409.07,196.03 L409.43,195.81 L409.78,195.87 L410.14,195.94 L410.49,196.1 L410.85,196.29 L411.2,196.11 L411.55,196.16 L411.91,196.02 L412.26,196.16 L412.62,195.44 L412.97,196.39 L413.32,195.83 L413.68,196.16 L414.03,196.12 L414.39,195.88 L414.74,196.06 L415.1,196.31 L415.45,195.98 L415.8,196.1 L416.16,196.48 L416.51,196.02 L416.87,196.28 L417.22,196.21 L417.57,195.96 L417.93,196 L418.28,196.12 L418.64,195.62 L418.99,195.97 L419.35,196.19 L419.7,196.01 L420.05,196.08 L420.41,196.51 L420.76,196.38 L421.12,196.34 L421.47,195.64 L421.82,196.09 L422.18,196.11 L422.53,196.17 L422.89,195.86 L423.24,196.05 L423.59,195.71 L423.95,195.89 L424.3,195.72 L424.66,196.08 L425.01,195.98 L425.37,196.14 L425.72,196.09 L426.07,196.4 L426.43,196.17 L426.78,196.24 L427.14,196.18 L427.49,195.8 L427.84,195.99 L428.2,195.8 L428.55,195.87 L428.91,195.86 L429.26,195.84 L429.62,196.17 L429.97,195.88 L430.32,196.11 L430.68,196.15 L431.03,195.8 L431.39,195.6 L431.74,196.24 L432.09,195.69 L432.45,195.87 L432.8,196.21 L433.16,195.98 L433.51,195.96 L433.87,195.96 L434.22,196.11 L434.57,196.3 L434.93,196.03 L435.28,195.86 L435.64,195.87 L435.99,195.9 L436.34,195.81 L436.7,196.23 L437.05,196.04 L437.41,195.96 L437.76,195.82 L438.12,195.99 L438.47,195.92 L438.82,196 L439.18,195.6 L439.53,196.47 L439.89,196.03 L440.24,195.52 L440.59,195.97 L440.95,196.39 L441.3,195.99 L441.66,196.31 L442.01,196.15 L442.36,195.97 L442.72,195.66 L443.07,195.92 L443.43,195.87 L443.78,195.8 L444.14,195.97 L444.49,196.18 L444.84,196.03 L445.2,195.94 L445.55,196.06 L445.91,196.14 L446.26,196.07 L446.61,196.3 L446.97,196.21 L447.32,196.01 L447.68,196.07 L448.03,195.98 L448.39,195.71 L448.74,195.93 L449.09,195.99 L449.45,196.23 L449.8,196.2 L450.16,195.91 L450.51,196.16 L450.86,195.89 L451.22,196.2 L451.57,195.95 L451.93,195.99 L452.28,195.77 L452.64,196.05 L452.99,196.04 L453.34,195.92 L453.7,195.95 L454.05,195.62 L454.41,196.01 L454.76,196.07 L455.11,196.02 L455.47,195.86 L455.82,195.9 L456.18,195.81 L456.53,196.23 L456.88,195.44 L457.24,195.57 L457.59,195.94 L457.95,196.18 L458.3,195.9 L458.66,195.84 L459.01,196.38 L459.36,195.92 L459.72,196.22 L460.07,195.82 L460.43,195.63 L460.78,195.7 L461.13,196.21 L461.49,195.62 L461.84,195.72 L462.2,195.97 L462.55,195.79 L462.91,195.58 L463.26,195.95 L463.61,195.89 L463.97,195.99 L464.32,195.64 L464.68,196.31 L465.03,195.58 L465.38,196.06 L465.74,195.67 L466.09,196.18 L466.45,196.04 L466.8,195.97 L467.16,195.67 L467.51,196.16 L467.86,195.71 L468.22,195.95 L468.57,195.57 L468.93,195.88 L469.28,195.71 L469.63,195.84 L469.99,195.43 L470.34,195.86 L470.7,195.79 L471.05,195.37 L471.41,195.75 L471.76,195.62 L472.11,195.91 L472.47,195.71 L472.82,196.2 L473.18,195.71 L473.53,195.86 L473.88,196.02 L474.24,196 L474.59,195.47 L474.95,195.6 L475.3,195.99 L475.65,195.3 L476.01,195.81 L476.36,195.73 L476.72,195.59 L477.07,195.86 L477.43,195.95 L477.78,195.76 L478.13,195.36 L478.49,195.39 L478.84,195.9 L479.2,195.32 L479.55,195.54 L479.9,195.44 L480.26,195.51 L480.61,195.42 L480.97,195.7 L481.32,195.66 L481.68,195.61 L482.03,195.52 L482.38,195.3 L482.74,195.66 L483.09,195.07 L483.45,195.51 L483.8,195.48 L484.15,195.19 L484.51,195.23 L484.86,195.36 L485.22,195.49 L485.57,195.45 L485.93,195.55 L486.28,194.97 L486.63,194.96 L486.99,194.77 L487.34,195.02 L487.7,195.03 L488.05,194.91 L488.4,194.84 L488.76,195.06 L489.11,194.9 L489.47,194.5 L489.82,195.24 L490.18,195.15 L490.53,195.02 L490.88,194.63 L491.24,194.5 L491.59,194.77 L491.95,194.52 L492.3,194.61 L492.65,194.49 L493.01,194.61 L493.36,194.45 L493.72,194.39 L494.07,194.1 L494.42,193.82 L494.78,194.57 L495.13,194.03 L495.49,194.07 L495.84,193.79 L496.2,193.7 L496.55,193.67 L496.9,193.58 L497.26,193.85 L497.61,193.91 L497.97,193.12 L498.32,193.11 L498.67,193.44 L499.03,192.87 L499.38,192.87 L499.74,193.38 L500.09,192.56 L500.45,192.8 L500.8,192.21 L501.15,192.43 L501.51,192.27 L501.86,192.25 L502.22,191.79 L502.57,191.34 L502.92,191.47 L503.28,191.48 L503.63,190.43 L503.99,190.23 L504.34,190.19 L504.7,190.15 L505.05,189.98 L505.4,189.74 L505.76,188.94 L506.11,188.41 L506.47,188.49 L506.82,187.84 L507.17,187.43 L507.53,186.9 L507.88,186.32 L508.24,185.65 L508.59,185.2 L508.94,184.44 L509.3,183.71 L509.65,183.03 L510.01,182.18 L510.36,181.36 L510.72,180.23 L511.07,179.28 L511.42,178.14 L511.78,176.85 L512.13,175.56 L512.49,174.11 L512.84,172.47 L513.19,170.62 L513.55,168.83 L513.9,166.73 L514.26,164.61 L514.61,162.19 L514.97,159.29 L515.32,156.52 L515.67,153.42 L516.03,149.89 L516.38,146.11 L516.74,142.19 L517.09,137.75 L517.44,132.94 L517.8,127.93 L518.15,122.37 L518.51,116.56 L518.86,110.46 L519.22,104.08 L519.57,97.35 L519.92,90.49 L520.28,83.42 L520.63,76.32 L520.99,69.34 L521.34,62.42 L521.69,55.76 L522.05,49.78 L522.4,44.05 L522.76,38.92 L523.11,34.46 L523.47,30.7 L523.82,27.57 L524.17,24.97 L524.53,23.09 L524.88,21.72 L525.24,20.87 L525.59,20.21 L525.94,19.9 L526.3,19.84 L526.65,19.76 L527.01,19.7 L527.36,20.24 L527.71,20.76 L528.07,21.97 L528.42,23.53 L528.78,25.49 L529.13,27.92 L529.49,30.88 L529.84,34.3 L530.19,38.05 L530.55,42.06 L530.9,46.37 L531.26,51 L531.61,55.81 L531.96,60.5 L532.32,65.63 L532.67,70.6 L533.03,75.62 L533.38,80.58 L533.74,85.42 L534.09,90.22 L534.44,94.83 L534.8,99.45 L535.15,103.84 L535.51,107.83 L535.86,111.99 L536.21,115.81 L536.57,119.47 L536.92,123.04 L537.28,126.43 L537.63,129.72 L537.99,132.75 L538.34,135.48 L538.69,138.23 L539.05,140.82 L539.4,143.41 L539.76,145.77 L540.11,147.91 L540.46,150 L540.82,151.9 L541.17,153.84 L541.53,155.45 L541.88,157.27 L542.24,158.86 L542.59,160.28 L542.94,161.75 L543.3,163.18 L543.65,164.36 L544.01,165.52 L544.36,166.88 L544.71,167.92 L545.07,169.02 L545.42,170.07 L545.78,170.86 L546.13,171.76 L546.48,172.61 L546.84,173.46 L547.19,174.4 L547.55,175.02 L547.9,175.77 L548.26,176.48 L548.61,177.13 L548.96,177.63 L549.32,178.29 L549.67,178.72 L550.03,179.35 L550.38,180.02 L550.73,180.34 L551.09,180.8 L551.44,181.33 L551.8,181.84 L552.15,182.08 L552.51,182.67 L552.86,182.98 L553.21,183.47 L553.57,183.79 L553.92,184.16 L554.28,184.31 L554.63,184.63 L554.98,185.03 L555.34,185.38 L555.69,185.59 L556.05,185.84 L556.4,186.22 L556.76,186.45 L557.11,186.63 L557.46,186.82 L557.82,187.08 L558.17,187.22 L558.53,187.78 L558.88,188.24 L559.23,187.86 L559.59,188.31 L559.94,188.33 L560.3,188.56 L560.65,188.56 L561.01,188.99 L561.36,188.69 L561.71,189.14 L562.07,189.19 L562.42,189.32 L562.78,189.38 L563.13,189.65 L563.48,190.23 L563.84,190.13 L564.19,189.75 L564.55,190.16 L564.9,190.26 L565.25,190.39 L565.61,190.74 L565.96,190.85 L566.32,190.95 L566.67,190.69 L567.03,190.95 L567.38,190.76 L567.73,191.12 L568.09,190.92 L568.44,191.31 L568.8,191.74 L569.15,191.22 L569.5,191.59 L569.86,191.5 L570.21,191.78 L570.57,191.97 L570.92,191.94 L571.28,192.28 L571.63,192.37 L571.98,192.37 L572.34,192.37 L572.69,192.61 L573.05,192.41 L573.4,192.39 L573.75,192.09 L574.11,192.19 L574.46,192.64 L574.82,192.51 L575.17,192.79 L575.53,192.72 L575.88,192.86 L576.23,193.02 L576.59,192.94 L576.94,193.31 L577.3,192.97 L577.65,193.16 L578,193.38 L578.36,193.27 L578.71,193.13 L579.07,193.43 L579.42,193.23 L579.77,193.25 L580.13,193.09 L580.48,193.68 L580.84,193.51 L581.19,193.42 L581.55,193.25 L581.9,193.55 L582.25,193.48 L582.61,193.98 L582.96,193.83 L583.32,193.4 L583.67,193.83 L584.02,193.36 L584.38,193.99 L584.73,193.93 L585.09,194.23 L585.44,193.8 L585.8,193.91 L586.15,193.57 L586.5,193.98 L586.86,194.1 L587.21,194.37 L587.57,194.12 L587.92,193.93 L588.27,194 L588.63,193.92 L588.98,194.02 L589.34,194.24 L589.69,194.12 L590.05,194.24 L590.4,194.58 L590.75,193.96 L591.11,194.26 L591.46,194.58 L591.82,194.3 L592.17,194.35 L592.52,194.22 L592.88,194.15 L593.23,195.1 L593.59,194.37 L593.94,194.19 L594.3,194.72 L594.65,194.93 L595,194.5 L595.36,194.51 L595.71,194.52 L596.07,194.85 L596.42,194.73 L596.77,194.61 L597.13,194.51 L597.48,194.22 L597.84,194.64 L598.19,194.84 L598.54,195.22 L598.9,194.52 L599.25,194.79 L599.61,194.8 L599.96,195 L600.32,194.65 L600.67,195.19 L601.02,194.81 L601.38,194.82 L601.73,194.8 L602.09,194.6 L602.44,194.91 L602.79,194.88 L603.15,194.73 L603.5,195.25 L603.86,195 L604.21,194.93 L604.57,194.76 L604.92,195.14 L605.27,194.81 L605.63,194.91 L605.98,195.32 L606.34,195.33 L606.69,195.33 L607.04,195.01 L607.4,195.01 L607.75,194.91 L608.11,194.9 L608.46,195.2 L608.82,194.87 L609.17,194.93 L609.52,195.01 L609.88,195.02 L610.23,195.4 L610.59,195.06 L610.94,195.37 L611.29,195.41 L611.65,195.24 L612,195.15 L612.36,195.19 L612.71,195.26 L613.07,195.41 L613.42,195.17 L613.77,195.37 L614.13,195.52 L614.48,195.21 L614.84,194.94 L615.19,195.33 L615.54,195.48 L615.9,194.97 L616.25,194.91 L616.61,195.34 L616.96,195.33 L617.31,195.25 L617.67,194.68 L618.02,195.28 L618.38,195.11 L618.73,195.23 L619.09,195.71 L619.44,195.57 L619.79,195.6 L620.15,195.26 L620.5,195.33 L620.86,194.99 L621.21,195.43 L621.56,195.31 L621.92,195.37 L622.27,195.36 L622.63,194.91 L622.98,195.34 L623.34,195.09 L623.69,195.14 L624.04,195.54 L624.4,195.28 L624.75,195.51 L625.11,195.41 L625.46,195.41 L625.81,195.44 L626.17,195.55 L626.52,195.13 L626.88,195.52 L627.23,195.32 L627.59,195.12 L627.94,195.34 L628.29,195.26 L628.65,195.19 L629,195.26 L629.36,195.13 L629.71,195.8 L630.06,195.09 L630.42,195.5 L630.77,195.88 L631.13,195.65 L631.48,195.82 L631.84,195.53 L632.19,195.85 L632.54,195.75 L632.9,195.48 L633.25,195.51 L633.61,195.72 L633.96,195.6 L634.31,195.58 L634.67,195.55 L635.02,195.57 L635.38,195.62 L635.73,195.39 L636.08,195.92 L636.44,195.69 L636.79,195.56 L637.15,195.67 L637.5,195.71 L637.86,195.69 L638.21,195.56 L638.56,195.34 L638.92,195.65 L639.27,195.67 L639.63,195.54 L639.98,195.67 L640.33,196.03 L640.69,195.57 L641.04,195.71 L641.4,195.75 L641.75,195.5 L642.11,195.63 L642.46,195.76 L642.81,196.1 L643.17,196.01 L643.52,195.65 L643.88,195.68 L644.23,195.56 L644.58,195.61 L644.94,195.76 L645.29,195.93 L645.65,195.9 L646,195.7 L646.36,195.92 L646.71,195.52 L647.06,195.96 L647.42,196.06 L647.77,195.73 L648.13,196.06 L648.48,195.35 L648.83,195.9 L649.19,195.71 L649.54,195.75 L649.9,195.88 L650.25,196.08 L650.61,196.1 L650.96,195.53 L651.31,195.5 L651.67,195.26 L652.02,196.03 L652.38,195.6 L652.73,195.73 L653.08,195.55 L653.44,195.84 L653.79,195.58 L654.15,195.54 L654.5,195.61 L654.85,195.43 L655.21,195.78 L655.56,195.41 L655.92,195.89 L656.27,195.39 L656.63,196.33 L656.98,195.75 L657.33,195.92 L657.69,195.75 L658.04,195.54 L658.4,195.61 L658.75,195.74 L659.1,195.4 L659.46,196.08 L659.81,195.94 L660.17,195.45 L660.52,195.7 L660.88,196.21 L661.23,195.7 L661.58,196.03 L661.94,195.47 L662.29,195.54 L662.65,195.9 L663,195.51 L663.35,195.96 L663.71,195.59 L664.06,195.67 L664.42,195.82 L664.77,196.09 L665.13,195.85 L665.48,196.28 L665.83,195.92 L666.19,196.19 L666.54,195.55 L666.9,196.01 L667.25,196.32 L667.6,195.68 L667.96,195.73 L668.31,195.92 L668.67,195.36 L669.02,195.65 L669.37,195.8 L669.73,195.95 L670.08,196.44 L670.44,195.72 L670.79,195.62 L671.15,195.95 L671.5,196.12 L671.85,195.84" stroke="#1f8a1f"/>
<path d="M388.53,196.2 L388.89,195.84 L389.24,195.68 L389.6,195.52 L389.95,195.78 L390.3,195.8 L390.66,195.68 L391.01,195.54 L391.37,195.9 L391.72,196.09 L392.08,196 L392.43,196.1 L392.78,196.02 L393.14,195.85 L393.49,195.75 L393.85,195.79 L394.2,195.81 L394.55,195.9 L394.91,195.73 L395.26,195.63 L395.62,195.65 L395.97,195.5 L396.33,195.87 L396.68,195.86 L397.03,195.45 L397.39,195.76 L397.74,195.72 L398.1,195.87 L398.45,195.6 L398.8,195.88 L399.16,196.01 L399.51,195.81 L399.87,195.89 L400.22,195.62 L400.58,195.87 L400.93,195.76 L401.28,195.83 L401.64,195.71 L401.99,195.92 L402.35,195.55 L402.7,196.08 L403.05,195.86 L403.41,195.92 L403.76,195.64 L404.12,195.76 L404.47,195.67 L404.82,195.84 L405.18,195.92 L405.53,196 L405.89,195.83 L406.24,195.87 L406.6,195.7 L406.95,195.68 L407.3,195.54 L407.66,195.77 L408.01,195.91 L408.37,195.97 L408.72,195.73 L409.07,195.66 L409.43,195.33 L409.78,195.7 L410.14,195.36 L410.49,195.33 L410.85,195.95 L411.2,195.47 L411.55,195.48 L411.91,195.44 L412.26,195.72 L412.62,195.51 L412.97,195.82 L413.32,195.73 L413.68,195.7 L414.03,195.33 L414.39,195.75 L414.74,195.5 L415.1,195.68 L415.45,195.84 L415.8,195.64 L416.16,195.55 L416.51,195.84 L416.87,195.55 L417.22,195.83 L417.57,195.86 L417.93,195.63 L418.28,195.72 L418.64,195.88 L418.99,196.01 L419.35,195.66 L419.7,195.61 L420.05,195.75 L420.41,195.61 L420.76,195.97 L421.12,195.56 L421.47,195.56 L421.82,195.58 L422.18,195.77 L422.53,195.62 L422.89,195.6 L423.24,195.4 L423.59,195.56 L423.95,195.57 L424.3,195.77 L424.66,195.43 L425.01,195.36 L425.37,195.71 L425.72,195.47 L426.07,195.53 L426.43,195.6 L426.78,195.86 L427.14,195.22 L427.49,195.98 L427.84,195.51 L428.2,195.65 L428.55,195.33 L428.91,195.66 L429.26,195.55 L429.62,195.43 L429.97,195.46 L430.32,195.66 L430.68,195.4 L431.03,195.46 L431.39,195.33 L431.74,195.64 L432.09,195.54 L432.45,195.61 L432.8,195.7 L433.16,195.46 L433.51,195.42 L433.87,195.21 L434.22,195.57 L434.57,195.41 L434.93,195.25 L435.28,195.51 L435.64,195.47 L435.99,195.45 L436.34,195.62 L436.7,195.67 L437.05,195.22 L437.41,195.42 L437.76,195.47 L438.12,195.71 L438.47,195.41 L438.82,195.19 L439.18,195.67 L439.53,195.61 L439.89,195.18 L440.24,195.11 L440.59,195.08 L440.95,195.52 L441.3,195.27 L441.66,195.54 L442.01,195.27 L442.36,195.45 L442.72,195.33 L443.07,195.08 L443.43,195.28 L443.78,195.4 L444.14,195.33 L444.49,195.28 L444.84,195.44 L445.2,195.28 L445.55,195.19 L445.91,194.98 L446.26,195.73 L446.61,195.54 L446.97,195.55 L447.32,195.09 L447.68,194.76 L448.03,195.22 L448.39,195.23 L448.74,195.01 L449.09,195.75 L449.45,195.27 L449.8,195.88 L450.16,195.18 L450.51,195.31 L450.86,195.3 L451.22,195.12 L451.57,195.3 L451.93,194.94 L452.28,195.16 L452.64,195.07 L452.99,194.61 L453.34,195.23 L453.7,194.93 L454.05,195.29 L454.41,194.84 L454.76,194.89 L455.11,195.06 L455.47,194.87 L455.82,194.73 L456.18,194.77 L456.53,195.04 L456.88,195.04 L457.24,194.79 L457.59,195.32 L457.95,195.13 L458.3,194.89 L458.66,194.86 L459.01,194.57 L459.36,194.58 L459.72,194.87 L460.07,194.84 L460.43,195.19 L460.78,194.94 L461.13,194.84 L461.49,194.93 L461.84,194.85 L462.2,194.72 L462.55,195.04 L462.91,194.94 L463.26,195.18 L463.61,194.56 L463.97,195 L464.32,195.12 L464.68,194.59 L465.03,194.78 L465.38,194.52 L465.74,194.78 L466.09,194.24 L466.45,194.52 L466.8,194.62 L467.16,194.62 L467.51,194.67 L467.86,194.44 L468.22,194.17 L468.57,194.66 L468.93,194.78 L469.28,194.41 L469.63,194.29 L469.99,194.81 L470.34,194.62 L470.7,194.66 L471.05,194.32 L471.41,194.31 L471.76,194.55 L472.11,194.61 L472.47,194.21 L472.82,194.76 L473.18,194.17 L473.53,194.32 L473.88,193.86 L474.24,194.03 L474.59,194.33 L474.95,194.25 L475.3,194.22 L475.65,194.29 L476.01,194.1 L476.36,193.88 L476.72,194.37 L477.07,194.08 L477.43,193.69 L477.78,193.82 L478.13,194.12 L478.49,194.08 L478.84,194.06 L479.2,194.19 L479.55,193.58 L479.9,193.78 L480.26,193.91 L480.61,194.03 L480.97,193.77 L481.32,193.77 L481.68,193.26 L482.03,193.68 L482.38,193.53 L482.74,193.29 L483.09,193.34 L483.45,193.47 L483.8,193.85 L484.15,193.06 L484.51,193.19 L484.86,193.36 L485.22,193.25 L485.57,193.38 L485.93,193.33 L486.28,193.4 L486.63,192.94 L486.99,192.89 L487.34,192.91 L487.7,192.73 L488.05,192.73 L488.4,192.77 L488.76,192.92 L489.11,192.56 L489.47,192.38 L489.82,192.44 L490.18,192.25 L490.53,192.55 L490.88,192.59 L491.24,192.06 L491.59,192.38 L491.95,192.14 L492.3,192.16 L492.65,192.05 L493.01,192.03 L493.36,192.02 L493.72,192.2 L494.07,191.36 L494.42,191.63 L494.78,191.99 L495.13,191.69 L495.49,191.65 L495.84,191.49 L496.2,191.77 L496.55,191.03 L496.9,190.71 L497.26,191.01 L497.61,190.7 L497.97,190.63 L498.32,190.9 L498.67,190.28 L499.03,190.77 L499.38,190.43 L499.74,190.26 L500.09,189.81 L500.45,189.92 L500.8,189.84 L501.15,189.84 L501.51,189.52 L501.86,189.39 L502.22,189.1 L502.57,188.81 L502.92,188.79 L503.28,188.78 L503.63,188.65 L503.99,188.12 L504.34,188.23 L504.7,188.1 L505.05,187.53 L505.4,187.39 L505.76,187.4 L506.11,187.33 L506.47,187.13 L506.82,186.81 L507.17,186.67 L507.53,186.35 L507.88,186.21 L508.24,185.91 L508.59,185.63 L508.94,185.37 L509.3,185.09 L509.65,184.78 L510.01,184.58 L510.36,184.26 L510.72,183.88 L511.07,183.42 L511.42,183.19 L511.78,182.88 L512.13,182.48 L512.49,182.05 L512.84,181.57 L513.19,181.25 L513.55,180.74 L513.9,180.31 L514.26,179.86 L514.61,179.4 L514.97,178.83 L515.32,178.33 L515.67,177.68 L516.03,177.24 L516.38,176.44 L516.74,175.83 L517.09,175.17 L517.44,174.41 L517.8,173.73 L518.15,173.11 L518.51,172.2 L518.86,171.34 L519.22,170.54 L519.57,169.65 L519.92,168.59 L520.28,167.58 L520.63,166.58 L520.99,165.46 L521.34,164.32 L521.69,163.1 L522.05,161.79 L522.4,160.38 L522.76,159.13 L523.11,157.57 L523.47,155.89 L523.82,154.34 L524.17,152.63 L524.53,150.78 L524.88,149 L525.24,147.01 L525.59,144.94 L525.94,142.73 L526.3,140.31 L526.65,137.84 L527.01,135.37 L527.36,132.71 L527.71,129.84 L528.07,126.9 L528.42,123.85 L528.78,120.77 L529.13,117.34 L529.49,113.98 L529.84,110.18 L530.19,106.48 L530.55,102.57 L530.9,98.41 L531.26,94.28 L531.61,90.09 L531.96,85.76 L532.32,81.34 L532.67,76.91 L533.03,72.37 L533.38,67.73 L533.74,63.41 L534.09,58.96 L534.44,54.56 L534.8,50.29 L535.15,46.23 L535.51,42.47 L535.86,38.79 L536.21,35.43 L536.57,32.42 L536.92,29.59 L537.28,27.22 L537.63,25.07 L537.99,23.4 L538.34,22.13 L538.69,21.07 L539.05,20.41 L539.4,20.02 L539.76,19.85 L540.11,19.74 L540.46,19.97 L540.82,20.39 L541.17,20.93 L541.53,21.71 L541.88,22.78 L542.24,24.42 L542.59,26.12 L542.94,28.16 L543.3,30.53 L543.65,33 L544.01,35.86 L544.36,38.89 L544.71,42.03 L545.07,45.62 L545.42,49.14 L545.78,52.86 L546.13,56.76 L546.48,60.65 L546.84,64.46 L547.19,68.48 L547.55,72.49 L547.9,76.53 L548.26,80.34 L548.61,84.24 L548.96,87.96 L549.32,91.76 L549.67,95.47 L550.03,99.08 L550.38,102.58 L550.73,106 L551.09,109.23 L551.44,112.41 L551.8,115.45 L552.15,118.38 L552.51,121.28 L552.86,124.08 L553.21,126.64 L553.57,129.13 L553.92,131.71 L554.28,133.97 L554.63,136.21 L554.98,138.36 L555.34,140.42 L555.69,142.43 L556.05,144.33 L556.4,146.03 L556.76,147.77 L557.11,149.62 L557.46,151.29 L557.82,152.63 L558.17,154.16 L558.53,155.55 L558.88,156.96 L559.23,158.13 L559.59,159.38 L559.94,160.6 L560.3,161.64 L560.65,162.63 L561.01,163.73 L561.36,164.75 L561.71,165.81 L562.07,166.66 L562.42,167.59 L562.78,168.36 L563.13,169.22 L563.48,170.04 L563.84,170.75 L564.19,171.55 L564.55,172.15 L564.9,172.77 L565.25,173.53 L565.61,174.09 L565.96,174.81 L566.32,175.22 L566.67,175.76 L567.03,176.4 L567.38,176.73 L567.73,177.31 L568.09,177.87 L568.44,178.29 L568.8,178.56 L569.15,179.03 L569.5,179.32 L569.86,179.84 L570.21,180.09 L570.57,180.35 L570.92,180.75 L571.28,180.96 L571.63,181.3 L571.98,181.52 L572.34,181.77 L572.69,181.89 L573.05,182.33 L573.4,182.42 L573.75,182.6 L574.11,182.96 L574.46,183.09 L574.82,183.15 L575.17,183.43 L575.53,183.88 L575.88,183.91 L576.23,184.2 L576.59,184.29 L576.94,184.56 L577.3,184.76 L577.65,185 L578,185.15 L578.36,185.42 L578.71,185.67 L579.07,185.86 L579.42,186.05 L579.77,186.36 L580.13,186.47 L580.48,186.88 L580.84,186.98 L581.19,187.25 L581.55,187.12 L581.9,187.8 L582.25,188.01 L582.61,188.35 L582.96,187.87 L583.32,188.34 L583.67,188.87 L584.02,188.89 L584.38,189.19 L584.73,188.84 L585.09,189.22 L585.44,189.87 L585.8,189.55 L586.15,189.54 L586.5,189.85 L586.86,189.88 L587.21,190.11 L587.57,190.16 L587.92,190.26 L588.27,190.56 L588.63,190.44 L588.98,190.57 L589.34,190.71 L589.69,190.93 L590.05,191.08 L590.4,190.91 L590.75,190.87 L591.11,191.62 L591.46,191.31 L591.82,190.99 L592.17,191.16 L592.52,191.56 L592.88,191.21 L593.23,191.76 L593.59,191.79 L593.94,191.29 L594.3,191.84 L594.65,191.86 L595,192.22 L595.36,192.15 L595.71,192.24 L596.07,192.08 L596.42,192.49 L596.77,191.95 L597.13,192.3 L597.48,192.4 L597.84,192.46 L598.19,192.23 L598.54,192.11 L598.9,192.56 L599.25,192.2 L599.61,192.24 L599.96,192.35 L600.32,192.61 L600.67,193.02 L601.02,192.62 L601.38,192.89 L601.73,192.8 L602.09,193.27 L602.44,192.98 L602.79,192.92 L603.15,193.2 L603.5,192.98 L603.86,192.74 L604.21,193.07 L604.57,193.3 L604.92,192.7 L605.27,193.67 L605.63,193.45 L605.98,193.21 L606.34,193.45 L606.69,193.84 L607.04,193.34 L607.4,193.26 L607.75,193.63 L608.11,193.19 L608.46,193.42 L608.82,193.31 L609.17,193.9 L609.52,193.61 L609.88,193.31 L610.23,193.25 L610.59,193.42 L610.94,193.72 L611.29,193.71 L611.65,193.9 L612,193.57 L612.36,193.97 L612.71,193.83 L613.07,194.3 L613.42,194.21 L613.77,193.56 L614.13,193.94 L614.48,193.93 L614.84,194.45 L615.19,194.02 L615.54,193.61 L615.9,194.37 L616.25,194.57 L616.61,194.14 L616.96,194.23 L617.31,194.19 L617.67,194.42 L618.02,194.46 L618.38,194.46 L618.73,194.09 L619.09,194.25 L619.44,194.09 L619.79,194.5 L620.15,194.18 L620.5,194.41 L620.86,194.32 L621.21,194.16 L621.56,194.36 L621.92,194.46 L622.27,194.75 L622.63,194.41 L622.98,194.27 L623.34,194.58 L623.69,194.48 L624.04,194.85 L624.4,194.77 L624.75,194.43 L625.11,194.26 L625.46,194.61 L625.81,194.9 L626.17,194.65 L626.52,194.91 L626.88,194.66 L627.23,194.21 L627.59,194.57 L627.94,194.67 L628.29,194.44 L628.65,194.75 L629,194.61 L629.36,194.65 L629.71,194.61 L630.06,195.02 L630.42,194.58 L630.77,194.56 L631.13,195.23 L631.48,195.33 L631.84,194.96 L632.19,194.48 L632.54,194.8 L632.9,194.67 L633.25,194.71 L633.61,194.65 L633.96,194.98 L634.31,194.98 L634.67,194.79 L635.02,194.75 L635.38,194.77 L635.73,194.83 L636.08,195.01 L636.44,194.69 L636.79,194.83 L637.15,194.72 L637.5,195.48 L637.86,194.75 L638.21,195.47 L638.56,194.93 L638.92,195.12 L639.27,194.97 L639.63,195.1 L639.98,195.08 L640.33,194.98 L640.69,194.96 L641.04,195.2 L641.4,195.57 L641.75,195.22 L642.11,194.95 L642.46,195.25 L642.81,194.99 L643.17,195.16 L643.52,195.29 L643.88,194.86 L644.23,194.76 L644.58,195.14 L644.94,195.14 L645.29,194.93 L645.65,195.42 L646,195.33 L646.36,194.92 L646.71,194.97 L647.06,195.27 L647.42,195.34 L647.77,195.11 L648.13,195.48 L648.48,195.3 L648.83,195.25 L649.19,195.72 L649.54,195.09 L649.9,195.06 L650.25,195.01 L650.61,195.54 L650.96,195.51 L651.31,195.42 L651.67,195.53 L652.02,194.83 L652.38,195.47 L652.73,195.34 L653.08,195.24 L653.44,195.19 L653.79,194.99 L654.15,195.52 L654.5,195.12 L654.85,195.28 L655.21,195.56 L655.56,195.29 L655.92,195.62 L656.27,194.99 L656.63,195.49 L656.98,195.13 L657.33,195.07 L657.69,195.48 L658.04,195.54 L658.4,195.33 L658.75,195.59 L659.1,195.18 L659.46,195.34 L659.81,195.54 L660.17,195.53 L660.52,195.24 L660.88,195.7 L661.23,195.04 L661.58,195.57 L661.94,195.45 L662.29,195.61 L662.65,195.08 L663,195.25 L663.35,195.15 L663.71,195.29 L664.06,195.42 L664.42,195.08 L664.77,195.3 L665.13,195.36 L665.48,195.33 L665.83,195.3 L666.19,195.4 L666.54,195.5 L666.9,195.81 L667.25,195.04 L667.6,195.75 L667.96,195.93 L668.31,195.64 L668.67,195.08 L669.02,195.24 L669.37,195.62 L669.73,195.44 L670.08,195.51 L670.44,195.93 L670.79,195.58 L671.15,195.45 L671.5,195.27 L671.85,195.78" stroke="#1f1f85"/>
<path d="M388.53,196.5 L388.89,196.36 L389.24,195.96 L389.6,196.01 L389.95,195.99 L390.3,195.99 L390.66,196.1 L391.01,196.31 L391.37,195.93 L391.72,195.94 L392.08,195.9 L392.43,195.76 L392.78,196.28 L393.14,196.52 L393.49,196.4 L393.85,195.57 L394.2,196.21 L394.55,195.93 L394.91,196.02 L395.26,195.86 L395.62,195.34 L395.97,196.13 L396.33,196.05 L396.68,196.14 L397.03,195.96 L397.39,195.91 L397.74,196.22 L398.1,195.74 L398.45,195.77 L398.8,195.92 L399.16,196.04 L399.51,196.06 L399.87,196.36 L400.22,195.87 L400.58,196.22 L400.93,196.12 L401.28,195.8 L401.64,196.21 L401.99,196.12 L402.35,195.83 L402.7,195.62 L403.05,196.15 L403.41,195.77 L403.76,196.15 L404.12,195.93 L404.47,195.9 L404.82,196.25 L405.18,195.79 L405.53,195.62 L405.89,195.99 L406.24,195.95 L406.6,196.25 L406.95,195.62 L407.3,195.99 L407.66,196.27 L408.01,195.84 L408.37,196.31 L408.72,196.15 L409.07,196.45 L409.43,195.71 L409.78,195.53 L410.14,196.13 L410.49,196.14 L410.85,196.12 L411.2,196.12 L411.55,195.88 L411.91,195.69 L412.26,196.21 L412.62,195.9 L412.97,196.38 L413.32,195.67 L413.68,196.01 L414.03,196.14 L414.39,195.67 L414.74,196.01 L415.1,195.7 L415.45,195.76 L415.8,195.64 L416.16,196.16 L416.51,195.98 L416.87,195.91 L417.22,196.03 L417.57,195.66 L417.93,196.14 L418.28,195.77 L418.64,195.7 L418.99,196.4 L419.35,196.19 L419.7,196.17 L420.05,196.1 L420.41,195.9 L420.76,196.02 L421.12,195.96 L421.47,196.08 L421.82,195.99 L422.18,195.87 L422.53,195.82 L422.89,196.14 L423.24,196 L423.59,196.13 L423.95,196.01 L424.3,196.28 L424.66,195.77 L425.01,195.83 L425.37,196 L425.72,196.11 L426.07,196.06 L426.43,196.11 L426.78,196.29 L427.14,195.62 L427.49,195.27 L427.84,196.22 L428.2,196.21 L428.55,195.84 L428.91,195.83 L429.26,196.29 L429.62,196.37 L429.97,195.84 L430.32,196.38 L430.68,195.66 L431.03,196.06 L431.39,195.94 L431.74,195.95 L432.09,196.07 L432.45,195.98 L432.8,196.01 L433.16,195.69 L433.51,195.97 L433.87,195.96 L434.22,196.06 L434.57,196.08 L434.93,196.1 L435.28,195.94 L435.64,195.56 L435.99,195.71 L436.34,195.89 L436.7,195.59 L437.05,195.72 L437.41,195.89 L437.76,195.97 L438.12,196.17 L438.47,195.88 L438.82,196 L439.18,196.27 L439.53,196.2 L439.89,195.52 L440.24,195.88 L440.59,195.82 L440.95,195.88 L441.3,196.02 L441.66,195.83 L442.01,195.69 L442.36,195.99 L442.72,195.81 L443.07,195.7 L443.43,196.02 L443.78,195.88 L444.14,196.07 L444.49,195.79 L444.84,195.99 L445.2,195.67 L445.55,196.07 L445.91,195.55 L446.26,195.97 L446.61,196.08 L446.97,196.1 L447.32,195.76 L447.68,196.08 L448.03,195.52 L448.39,195.63 L448.74,195.79 L449.09,196.2 L449.45,195.9 L449.8,196.05 L450.16,196.28 L450.51,195.8 L450.86,195.42 L451.22,196 L451.57,195.72 L451.93,195.61 L452.28,196.09 L452.64,195.95 L452.99,195.82 L453.34,195.78 L453.7,196.12 L454.05,195.83 L454.41,195.9 L454.76,195.67 L455.11,196.21 L455.47,195.99 L455.82,195.97 L456.18,195.93 L456.53,195.71 L456.88,195.99 L457.24,195.28 L457.59,196.01 L457.95,195.68 L458.3,195.64 L458.66,195.65 L459.01,195.89 L459.36,196.02 L459.72,195.9 L460.07,195.7 L460.43,195.82 L460.78,195.72 L461.13,195.72 L461.49,196.02 L461.84,196.03 L462.2,195.53 L462.55,195.93 L462.91,196.16 L463.26,195.43 L463.61,196 L463.97,196.02 L464.32,195.61 L464.68,196.06 L465.03,196 L465.38,195.59 L465.74,195.98 L466.09,195.28 L466.45,195.78 L466.8,195.23 L467.16,195.77 L467.51,195.79 L467.86,195.93 L468.22,195.84 L468.57,195.89 L468.93,195.79 L469.28,195.62 L469.63,196.05 L469.99,195.97 L470.34,196.22 L470.7,195.45 L471.05,195.79 L471.41,195.77 L471.76,195.78 L472.11,195.55 L472.47,195.69 L472.82,195.58 L473.18,195.79 L473.53,195.77 L473.88,195.76 L474.24,196.14 L474.59,195.51 L474.95,196.07 L475.3,195.94 L475.65,195.59 L476.01,195.71 L476.36,195.55 L476.72,195.36 L477.07,195.32 L477.43,195.42 L477.78,195.76 L478.13,195.27 L478.49,195.89 L478.84,195.72 L479.2,195.48 L479.55,195.74 L479.9,195.71 L480.26,195.76 L480.61,195.39 L480.97,196.2 L481.32,195.4 L481.68,195.44 L482.03,195.68 L482.38,195.54 L482.74,195.86 L483.09,195.41 L483.45,195 L483.8,195.83 L484.15,195.34 L484.51,195.64 L484.86,195.7 L485.22,195.72 L485.57,195.66 L485.93,195.88 L486.28,195.89 L486.63,195.25 L486.99,195.6 L487.34,195.47 L487.7,195.52 L488.05,195.48 L488.4,195.9 L488.76,195.77 L489.11,195.43 L489.47,195.35 L489.82,195.8 L490.18,195.67 L490.53,195.77 L490.88,195.4 L491.24,195.46 L491.59,195.52 L491.95,195.65 L492.3,195.44 L492.65,195.5 L493.01,195.66 L493.36,195.42 L493.72,195.63 L494.07,195.28 L494.42,195.34 L494.78,195.61 L495.13,195.33 L495.49,195.44 L495.84,195.59 L496.2,195.63 L496.55,195.78 L496.9,195.66 L497.26,195.34 L497.61,195.15 L497.97,195.53 L498.32,195.35 L498.67,195.31 L499.03,195.21 L499.38,195.27 L499.74,195.09 L500.09,195.18 L500.45,195.5 L500.8,195.24 L501.15,195.81 L501.51,195.34 L501.86,195.29 L502.22,195.16 L502.57,195.34 L502.92,195.09 L503.28,194.98 L503.63,195.42 L503.99,195.35 L504.34,195.17 L504.7,195.11 L505.05,195.17 L505.4,195.01 L505.76,195.43 L506.11,195 L506.47,194.91 L506.82,194.91 L507.17,195.04 L507.53,195.17 L507.88,195.02 L508.24,195.11 L508.59,195.41 L508.94,195.19 L509.3,195.06 L509.65,195.14 L510.01,195.22 L510.36,195.05 L510.72,195.07 L511.07,194.96 L511.42,194.97 L511.78,194.91 L512.13,194.72 L512.49,194.88 L512.84,194.81 L513.19,195.13 L513.55,195.48 L513.9,194.93 L514.26,194.68 L514.61,194.88 L514.97,194.92 L515.32,195.03 L515.67,194.56 L516.03,194.84 L516.38,194.65 L516.74,194.44 L517.09,194.55 L517.44,194.16 L517.8,194.64 L518.15,194.39 L518.51,194.42 L518.86,194.68 L519.22,194.51 L519.57,194.62 L519.92,194.69 L520.28,194.38 L520.63,194.58 L520.99,194.03 L521.34,194.52 L521.69,194.45 L522.05,194.28 L522.4,194.38 L522.76,194.23 L523.11,194.34 L523.47,194.48 L523.82,194.66 L524.17,194.39 L524.53,193.76 L524.88,193.95 L525.24,193.97 L525.59,194.07 L525.94,193.96 L526.3,193.83 L526.65,194.15 L527.01,193.98 L527.36,193.96 L527.71,193.46 L528.07,193.91 L528.42,193.39 L528.78,193.69 L529.13,192.97 L529.49,193.51 L529.84,193.44 L530.19,193.11 L530.55,193.16 L530.9,193.09 L531.26,193.46 L531.61,192.93 L531.96,192.76 L532.32,193.08 L532.67,193.09 L533.03,193.16 L533.38,192.65 L533.74,192.73 L534.09,192.72 L534.44,192.91 L534.8,192.24 L535.15,192.32 L535.51,192.43 L535.86,192.03 L536.21,192.46 L536.57,191.99 L536.92,192.3 L537.28,191.7 L537.63,191.96 L537.99,191.55 L538.34,191.79 L538.69,191.52 L539.05,191.25 L539.4,191.58 L539.76,191.25 L540.11,191.33 L540.46,190.85 L540.82,191.04 L541.17,190.86 L541.53,190.69 L541.88,190.26 L542.24,190.58 L542.59,190.22 L542.94,190.13 L543.3,190.02 L543.65,189.9 L544.01,189.6 L544.36,189.35 L544.71,189.53 L545.07,188.96 L545.42,189.06 L545.78,188.6 L546.13,187.91 L546.48,188.37 L546.84,187.95 L547.19,187.75 L547.55,187.24 L547.9,187.22 L548.26,187.03 L548.61,186.74 L548.96,186.33 L549.32,186.02 L549.67,185.65 L550.03,185.41 L550.38,184.99 L550.73,184.74 L551.09,184.21 L551.44,183.9 L551.8,183.52 L552.15,183.03 L552.51,182.48 L552.86,182.17 L553.21,181.69 L553.57,181.16 L553.92,180.62 L554.28,179.97 L554.63,179.35 L554.98,178.75 L555.34,178.06 L555.69,177.3 L556.05,176.66 L556.4,175.95 L556.76,175.2 L557.11,174.18 L557.46,173.34 L557.82,172.36 L558.17,171.32 L558.53,170.26 L558.88,169.27 L559.23,168.06 L559.59,166.75 L559.94,165.45 L560.3,163.98 L560.65,162.62 L561.01,161.17 L561.36,159.32 L561.71,157.77 L562.07,155.89 L562.42,153.86 L562.78,151.9 L563.13,149.5 L563.48,147.34 L563.84,144.89 L564.19,142.39 L564.55,139.51 L564.9,136.75 L565.25,133.81 L565.61,130.5 L565.96,127.34 L566.32,123.76 L566.67,120.01 L567.03,116.17 L567.38,112.21 L567.73,107.85 L568.09,103.5 L568.44,99.15 L568.8,94.43 L569.15,89.73 L569.5,84.87 L569.86,79.85 L570.21,74.94 L570.57,69.98 L570.92,65.02 L571.28,60.24 L571.63,55.34 L571.98,50.87 L572.34,46.36 L572.69,42.35 L573.05,38.51 L573.4,34.87 L573.75,31.8 L574.11,29.07 L574.46,26.68 L574.82,24.61 L575.17,22.92 L575.53,21.75 L575.88,20.92 L576.23,20.37 L576.59,20 L576.94,19.83 L577.3,19.79 L577.65,19.97 L578,20.22 L578.36,21.05 L578.71,22.06 L579.07,23.36 L579.42,25.1 L579.77,27.25 L580.13,29.61 L580.48,32.54 L580.84,35.43 L581.19,38.77 L581.55,42.4 L581.9,46.35 L582.25,50.25 L582.61,54.53 L582.96,58.72 L583.32,63.16 L583.67,67.52 L584.02,71.9 L584.38,76.43 L584.73,80.69 L585.09,84.85 L585.44,89.36 L585.8,93.28 L586.15,97.26 L586.5,101.21 L586.86,105 L587.21,108.58 L587.57,112.18 L587.92,115.72 L588.27,118.92 L588.63,122.02 L588.98,124.99 L589.34,127.9 L589.69,130.63 L590.05,133.15 L590.4,135.95 L590.75,138.09 L591.11,140.39 L591.46,142.6 L591.82,144.72 L592.17,146.7 L592.52,148.57 L592.88,150.38 L593.23,152.16 L593.59,153.71 L593.94,155.38 L594.3,156.82 L594.65,158.26 L595,159.67 L595.36,160.85 L595.71,162.13 L596.07,163.38 L596.42,164.44 L596.77,165.6 L597.13,166.45 L597.48,167.5 L597.84,168.35 L598.19,169.41 L598.54,170.19 L598.9,171.12 L599.25,171.9 L599.61,172.61 L599.96,173.31 L600.32,173.97 L600.67,174.71 L601.02,175.26 L601.38,175.89 L601.73,176.59 L602.09,177.12 L602.44,177.71 L602.79,178.06 L603.15,178.71 L603.5,179.1 L603.86,179.57 L604.21,180.09 L604.57,180.54 L604.92,180.9 L605.27,181.37 L605.63,181.79 L605.98,182.14 L606.34,182.42 L606.69,182.77 L607.04,183.01 L607.4,183.56 L607.75,183.72 L608.11,184.13 L608.46,184.27 L608.82,184.58 L609.17,184.89 L609.52,185.07 L609.88,185.44 L610.23,185.7 L610.59,185.97 L610.94,186.17 L611.29,186.35 L611.65,186.53 L612,186.7 L612.36,187 L612.71,187.23 L613.07,187.45 L613.42,187.65 L613.77,187.84 L614.13,188 L614.48,188.27 L614.84,188.26 L615.19,188.52 L615.54,188.6 L615.9,189.01 L616.25,188.83 L616.61,188.89 L616.96,189.01 L617.31,189.4 L617.67,189.65 L618.02,189.81 L618.38,189.91 L618.73,189.92 L619.09,189.97 L619.44,190.39 L619.79,189.99 L620.15,190.56 L620.5,190.49 L620.86,190.6 L621.21,190.38 L621.56,190.26 L621.92,190.82 L622.27,190.89 L622.63,191.01 L622.98,191.06 L623.34,191.14 L623.69,190.67 L624.04,191.5 L624.4,191.38 L624.75,191.6 L625.11,191.43 L625.46,191.69 L625.81,191.54 L626.17,191.95 L626.52,191.36 L626.88,191.82 L627.23,192.3 L627.59,191.85 L627.94,192.16 L628.29,192.37 L628.65,192.1 L629,192.36 L629.36,192.15 L629.71,192.48 L630.06,192.23 L630.42,192.44 L630.77,192.45 L631.13,192.55 L631.48,192.71 L631.84,192.76 L632.19,192.64 L632.54,192.63 L632.9,192.91 L633.25,192.41 L633.61,192.57 L633.96,193.2 L634.31,192.78 L634.67,193.07 L635.02,193.05 L635.38,193.3 L635.73,192.83 L636.08,193.39 L636.44,193.27 L636.79,193.44 L637.15,192.93 L637.5,193.1 L637.86,193.68 L638.21,193.53 L638.56,193.4 L638.92,193.6 L639.27,193.61 L639.63,193.8 L639.98,193.55 L640.33,193.86 L640.69,193.49 L641.04,193.2 L641.4,193.8 L641.75,193.41 L642.11,193.71 L642.46,193.95 L642.81,193.91 L643.17,194.07 L643.52,193.87 L643.88,193.78 L644.23,193.76 L644.58,194.03 L644.94,194.25 L645.29,194.04 L645.65,193.7 L646,194.01 L646.36,194.11 L646.71,194.55 L647.06,194.23 L647.42,194.05 L647.77,194.38 L648.13,193.93 L648.48,194.35 L648.83,194.43 L649.19,194.39 L649.54,194.31 L649.9,194.1 L650.25,194.45 L650.61,194.72 L650.96,194.39 L651.31,194.28 L651.67,194.09 L652.02,194.66 L652.38,194.14 L652.73,194.32 L653.08,194.38 L653.44,194.66 L653.79,194.7 L654.15,194.73 L654.5,194.35 L654.85,194.52 L655.21,194.36 L655.56,194.21 L655.92,194.6 L656.27,194.63 L656.63,194.24 L656.98,194.93 L657.33,194.76 L657.69,194.76 L658.04,194.77 L658.4,194.68 L658.75,194.9 L659.1,194.5 L659.46,195.03 L659.81,194.93 L660.17,195.13 L660.52,195.08 L660.88,194.68 L661.23,194.68 L661.58,194.87 L661.94,194.66 L662.29,194.72 L662.65,194.98 L663,194.88 L663.35,194.81 L663.71,194.48 L664.06,195 L664.42,194.84 L664.77,194.82 L665.13,194.69 L665.48,194.86 L665.83,194.74 L666.19,195.19 L666.54,195.04 L666.9,195.4 L667.25,195.01 L667.6,194.53 L667.96,194.97 L668.31,195.01 L668.67,194.99 L669.02,195.02 L669.37,195.33 L669.73,195.21 L670.08,195.11 L670.44,195.05 L670.79,195.27 L671.15,195.13 L671.5,195.26 L671.85,195.4" stroke="#852085"/>
</g>
<rect x="388.3" y="2.5" width="283.99999999999994" height="211.23" fill="none" stroke="#505050" stroke-width="1.5"/>
<path d="M402.7,214.73v4 M438.12,214.73v2.5 M473.53,214.73v4 M508.94,214.73v2.5 M544.36,214.73v4 M579.77,214.73v2.5 M615.19,214.73v4 M650.61,214.73v2.5 M387.3,196.1h-3.5 M387.3,178.47h-2 M387.3,160.84h-3.5 M387.3,143.21h-2 M387.3,125.58h-3.5 M387.3,107.95h-2 M387.3,90.32h-3.5 M387.3,72.69h-2 M387.3,55.06h-3.5 M387.3,37.43h-2 M387.3,19.8h-3.5" stroke="#505050" stroke-width="1.4" fill="none"/>
<g font-family='"Liberation Sans", sans-serif' font-size="14.6" fill="#111">
<text x="402.7" y="232.3" text-anchor="middle">400</text>
<text x="473.53" y="232.3" text-anchor="middle">500</text>
<text x="544.36" y="232.3" text-anchor="middle">600</text>
<text x="615.19" y="232.3" text-anchor="middle">700</text>
<text x="381.8" y="201.1" text-anchor="end">0.0</text>
<text x="381.8" y="165.84" text-anchor="end">0.2</text>
<text x="381.8" y="130.58" text-anchor="end">0.4</text>
<text x="381.8" y="95.32" text-anchor="end">0.6</text>
<text x="381.8" y="60.06" text-anchor="end">0.8</text>
<text x="381.8" y="24.8" text-anchor="end">1.0</text>
</g>
<text x="530.8" y="248.6" text-anchor="middle" font-family='"Liberation Sans", sans-serif' font-size="17.3" fill="#111">Wavelength (nm)</text>
<text transform="translate(354.6,110.1) rotate(-90)" text-anchor="middle" font-family='"Liberation Sans", sans-serif' font-size="17.55" fill="#111">Normalized EL intensity</text>
<text x="394.9" y="23.1" font-family='"Liberation Sans", sans-serif' font-size="18.2" fill="#111">(b)</text>
<g font-family='"Liberation Sans", sans-serif' font-size="10.2" fill="#111">
<line x1="624.4" y1="12.1" x2="648.9" y2="12.1" stroke="#151515" stroke-width="1.6"/>
<text x="651.7" y="15.7">B</text>
<line x1="624.4" y1="25.3" x2="648.9" y2="25.3" stroke="#ff2a2a" stroke-width="1.6"/>
<text x="651.7" y="28.9">C</text>
<line x1="624.4" y1="38.5" x2="648.9" y2="38.5" stroke="#2a2aff" stroke-width="1.6"/>
<text x="651.7" y="42.1">G</text>
<line x1="624.4" y1="51.7" x2="648.9" y2="51.7" stroke="#ff2aff" stroke-width="1.6"/>
<text x="651.7" y="55.3">Y</text>
<line x1="624.4" y1="64.9" x2="648.9" y2="64.9" stroke="#1f8a1f" stroke-width="1.6"/>
<text x="651.7" y="68.5">A</text>
<line x1="624.4" y1="78.1" x2="648.9" y2="78.1" stroke="#1f1f85" stroke-width="1.6"/>
<text x="651.7" y="81.7">O</text>
<line x1="624.4" y1="91.3" x2="648.9" y2="91.3" stroke="#852085" stroke-width="1.6"/>
<text x="651.7" y="94.9">R</text>
</g>
<path d="M113.7,469 C112.72,468.32 109.77,466.67 107.8,464.9 C105.83,463.13 103.88,460.87 101.9,458.4 C99.92,455.93 97.8,452.97 95.9,450.1 C94,447.23 92.32,444.47 90.5,441.2 C88.68,437.93 86.72,433.87 85,430.5 C83.28,427.13 81.77,424.22 80.2,421 C78.63,417.78 77,414.3 75.6,411.2 C74.2,408.1 73.03,405.43 71.8,402.4 C70.57,399.37 69.37,396.07 68.2,393 C67.03,389.93 65.97,386.92 64.8,384 C63.63,381.08 62.27,378.33 61.2,375.5 C60.13,372.67 59.3,370.08 58.4,367 C57.5,363.92 56.6,360.42 55.8,357 C55,353.58 54.25,350 53.6,346.5 C52.95,343 52.43,339.75 51.9,336 C51.37,332.25 50.78,327.95 50.4,324 C50.02,320.05 49.7,316 49.6,312.3 C49.5,308.6 49.58,304.77 49.8,301.8 C50.02,298.83 50.3,297.12 50.9,294.5 C51.5,291.88 52.3,288.88 53.4,286.1 C54.5,283.32 55.77,280.35 57.5,277.8 C59.23,275.25 61.53,272.65 63.8,270.8 C66.07,268.95 68.3,267.67 71.1,266.7 C73.9,265.73 76.65,265.18 80.6,265 C84.55,264.82 91.2,265.22 94.8,265.6 C98.4,265.98 99.73,266.58 102.2,267.3 C104.67,268.02 107.13,268.93 109.6,269.9 C112.07,270.87 114.53,272 117,273.1 C119.47,274.2 121.92,275.32 124.4,276.5 C126.88,277.68 129.42,278.97 131.9,280.2 C134.38,281.43 136.83,282.62 139.3,283.9 C141.77,285.18 144.23,286.53 146.7,287.9 C149.17,289.27 151.63,290.72 154.1,292.1 C156.57,293.48 159.03,294.85 161.5,296.2 C163.97,297.55 166.43,298.78 168.9,300.2 C171.37,301.62 174.45,303.65 176.3,304.7 C178.15,305.75 176.92,304.57 180,306.5 C183.08,308.43 189.87,313.07 194.8,316.3 C199.73,319.53 204.67,322.68 209.6,325.9 C214.53,329.12 218.47,331.7 224.4,335.6 C230.33,339.5 238.15,344.57 245.2,349.3 C252.25,354.03 258.68,358.48 266.7,364 C274.72,369.52 285.75,377.28 293.3,382.4 C300.85,387.52 306.83,391.5 312,394.7 C317.17,397.9 322.25,400.45 324.3,401.6 L113.7,469" fill="none" stroke="#111" stroke-width="1.5" stroke-linejoin="round"/>
<rect x="64" y="405.4" width="20" height="19.6" fill="#fff"/>
<rect x="223.3" y="261" width="109" height="55.6" fill="#050505"/>
<rect x="225.4" y="263.3" width="15.8" height="12" rx="2" fill="#0a3840"/>
<rect x="225.9" y="275" width="14.8" height="1.1" fill="#0a3840" opacity="0.9"/>
<rect x="225.4" y="292.8" width="15.8" height="22.6" fill="#14bccc"/>
<rect x="225.4" y="292.8" width="15.8" height="1.6" fill="#30dcec"/>
<rect x="225.4" y="312.8" width="15.8" height="2.2" fill="#0a3840" opacity="0.8"/>
<text x="233.3" y="289.4" text-anchor="middle" font-family='"Liberation Sans", sans-serif' font-weight="bold" font-size="11.3" fill="#f4f4f4">C</text>
<rect x="243.5" y="263.3" width="15.8" height="12" rx="2" fill="#0a3c20"/>
<rect x="244.0" y="275" width="14.8" height="1.1" fill="#0a3c20" opacity="0.9"/>
<rect x="243.5" y="292.8" width="15.8" height="22.6" fill="#18d27c"/>
<rect x="243.5" y="292.8" width="15.8" height="1.6" fill="#38ec98"/>
<rect x="243.5" y="312.8" width="15.8" height="2.2" fill="#0a3c20" opacity="0.8"/>
<text x="251.4" y="289.4" text-anchor="middle" font-family='"Liberation Sans", sans-serif' font-weight="bold" font-size="11.3" fill="#f4f4f4">G</text>
<rect x="261.1" y="263.3" width="15.8" height="12" rx="2" fill="#0a380e"/>
<rect x="261.6" y="275" width="14.8" height="1.1" fill="#0a380e" opacity="0.9"/>
<rect x="261.1" y="292.8" width="15.8" height="22.6" fill="#2ccc12"/>
<rect x="261.1" y="292.8" width="15.8" height="1.6" fill="#58e424"/>
<rect x="261.1" y="312.8" width="15.8" height="2.2" fill="#0a380e" opacity="0.8"/>
<text x="269" y="289.4" text-anchor="middle" font-family='"Liberation Sans", sans-serif' font-weight="bold" font-size="11.3" fill="#f4f4f4">Y</text>
<rect x="278.6" y="263.3" width="15.8" height="12" rx="2" fill="#2c2e08"/>
<rect x="279.1" y="275" width="14.8" height="1.1" fill="#2c2e08" opacity="0.9"/>
<rect x="278.6" y="292.8" width="15.8" height="22.6" fill="#b4bc12"/>
<rect x="278.6" y="292.8" width="15.8" height="1.6" fill="#e0e428"/>
<rect x="278.6" y="312.8" width="15.8" height="2.2" fill="#2c2e08" opacity="0.8"/>
<text x="286.5" y="289.4" text-anchor="middle" font-family='"Liberation Sans", sans-serif' font-weight="bold" font-size="11.3" fill="#f4f4f4">A</text>
<rect x="296.0" y="263.3" width="15.8" height="12" rx="2" fill="#641c06"/>
<rect x="296.5" y="275" width="14.8" height="1.1" fill="#641c06" opacity="0.9"/>
<rect x="296.0" y="292.8" width="15.8" height="22.6" fill="#ff6a00"/>
<rect x="296.0" y="292.8" width="15.8" height="1.6" fill="#ff9018"/>
<rect x="296.0" y="312.8" width="15.8" height="2.2" fill="#641c06" opacity="0.8"/>
<text x="303.9" y="289.4" text-anchor="middle" font-family='"Liberation Sans", sans-serif' font-weight="bold" font-size="11.3" fill="#f4f4f4">O</text>
<rect x="313.7" y="263.3" width="15.8" height="12" rx="2" fill="#481014"/>
<rect x="314.2" y="275" width="14.8" height="1.1" fill="#481014" opacity="0.9"/>
<rect x="313.7" y="292.8" width="15.8" height="22.6" fill="#e60a0a"/>
<rect x="313.7" y="292.8" width="15.8" height="1.6" fill="#ff2a2a"/>
<rect x="313.7" y="312.8" width="15.8" height="2.2" fill="#481014" opacity="0.8"/>
<text x="321.6" y="289.4" text-anchor="middle" font-family='"Liberation Sans", sans-serif' font-weight="bold" font-size="11.3" fill="#f4f4f4">R</text>
<path d="M86.65,472v-2.5 M125.1,472v-3.8 M163.55,472v-2.5 M202,472v-3.8 M240.45,472v-2.5 M278.9,472v-3.8 M317.35,472v-2.5 M48.9,447.15h2.5 M48.9,421.7h3.8 M48.9,396.25h2.5 M48.9,370.8h3.8 M48.9,345.35h2.5 M48.9,319.9h3.8 M48.9,294.45h2.5 M48.9,269h3.8" stroke="#111" stroke-width="1.4" fill="none"/>
<rect x="48.2" y="261.5" width="283.5" height="211.2" fill="none" stroke="#111" stroke-width="1.6"/>
<polygon points="85.2,267.2 87.45,272.61 93.28,273.07 88.84,276.88 90.2,282.58 85.2,279.52 80.2,282.58 81.56,276.88 77.12,273.07 82.95,272.61" fill="#0000ff"/>
<polygon points="187.1,303.6 189.35,309.01 195.18,309.47 190.74,313.28 192.1,318.98 187.1,315.93 182.1,318.98 183.46,313.28 179.02,309.47 184.85,309.01" fill="#ff00ff"/>
<polygon points="218.2,323.8 220.45,329.21 226.28,329.67 221.84,333.48 223.2,339.18 218.2,336.12 213.2,339.18 214.56,333.48 210.12,329.67 215.95,329.21" fill="#008000"/>
<polygon points="257,348.7 259.25,354.11 265.08,354.57 260.64,358.38 262,364.08 257,361.02 252,364.08 253.36,358.38 248.92,354.57 254.75,354.11" fill="#000099"/>
<polygon points="314.1,388.9 316.35,394.31 322.18,394.77 317.74,398.58 319.1,404.28 314.1,401.22 309.1,404.28 310.46,398.58 306.02,394.77 311.85,394.31" fill="#800000"/>
<polygon points="72.4,389.1 74.65,394.51 80.48,394.97 76.04,398.78 77.4,404.48 72.4,401.43 67.4,404.48 68.76,398.78 64.32,394.97 70.15,394.51" fill="#ff0000"/>
<g font-family='"Liberation Sans", sans-serif' font-size="14" text-anchor="middle">
<text x="87" y="296.3" fill="#1010ff">G</text>
<text x="181.7" y="332.3" fill="#ff10ff">Y</text>
<text x="219.1" y="352.9" fill="#108010">A</text>
<text x="257.5" y="377.5" fill="#101095">O</text>
<text x="314.6" y="418.2" fill="#851010">R</text>
<text x="72.9" y="420.6" fill="#ff1010">C</text>
</g>
<g font-family='"Liberation Sans", sans-serif' font-size="15.2" fill="#111">
<text x="44.3" y="474.8" text-anchor="end">0.0</text>
<text x="44.3" y="427.3" text-anchor="end">0.2</text>
<text x="44.3" y="376.4" text-anchor="end">0.4</text>
<text x="44.3" y="325.5" text-anchor="end">0.6</text>
<text x="44.3" y="274.6" text-anchor="end">0.8</text>
<text x="49.2" y="488.1" text-anchor="middle">0.0</text>
<text x="125.5" y="488.1" text-anchor="middle">0.2</text>
<text x="201.8" y="488.1" text-anchor="middle">0.4</text>
<text x="278.1" y="488.1" text-anchor="middle">0.6</text>
</g>
<text x="178.5" y="504.2" text-anchor="middle" font-family='"Liberation Sans", sans-serif' font-size="17.2" fill="#111">CIE x</text>
<text transform="translate(17.1,371.6) rotate(-90)" text-anchor="middle" font-family='"Liberation Sans", sans-serif' font-size="17.2" fill="#111">CIE y</text>
<text x="304.3" y="464.2" font-family='"Liberation Sans", sans-serif' font-size="18" fill="#111">(c)</text>
<path d="M453.9,469 C452.92,468.32 449.97,466.67 448,464.9 C446.03,463.13 444.08,460.87 442.1,458.4 C440.12,455.93 438,452.97 436.1,450.1 C434.2,447.23 432.52,444.47 430.7,441.2 C428.88,437.93 426.92,433.87 425.2,430.5 C423.48,427.13 421.97,424.22 420.4,421 C418.83,417.78 417.2,414.3 415.8,411.2 C414.4,408.1 413.23,405.43 412,402.4 C410.77,399.37 409.57,396.07 408.4,393 C407.23,389.93 406.17,386.92 405,384 C403.83,381.08 402.47,378.33 401.4,375.5 C400.33,372.67 399.5,370.08 398.6,367 C397.7,363.92 396.8,360.42 396,357 C395.2,353.58 394.45,350 393.8,346.5 C393.15,343 392.63,339.75 392.1,336 C391.57,332.25 390.98,327.95 390.6,324 C390.22,320.05 389.9,316 389.8,312.3 C389.7,308.6 389.78,304.77 390,301.8 C390.22,298.83 390.5,297.12 391.1,294.5 C391.7,291.88 392.5,288.88 393.6,286.1 C394.7,283.32 395.97,280.35 397.7,277.8 C399.43,275.25 401.73,272.65 404,270.8 C406.27,268.95 408.5,267.67 411.3,266.7 C414.1,265.73 416.85,265.18 420.8,265 C424.75,264.82 431.4,265.22 435,265.6 C438.6,265.98 439.93,266.58 442.4,267.3 C444.87,268.02 447.33,268.93 449.8,269.9 C452.27,270.87 454.73,272 457.2,273.1 C459.67,274.2 462.12,275.32 464.6,276.5 C467.08,277.68 469.62,278.97 472.1,280.2 C474.58,281.43 477.03,282.62 479.5,283.9 C481.97,285.18 484.43,286.53 486.9,287.9 C489.37,289.27 491.83,290.72 494.3,292.1 C496.77,293.48 499.23,294.85 501.7,296.2 C504.17,297.55 506.63,298.78 509.1,300.2 C511.57,301.62 514.65,303.65 516.5,304.7 C518.35,305.75 517.12,304.57 520.2,306.5 C523.28,308.43 530.07,313.07 535,316.3 C539.93,319.53 544.87,322.68 549.8,325.9 C554.73,329.12 558.67,331.7 564.6,335.6 C570.53,339.5 578.35,344.57 585.4,349.3 C592.45,354.03 598.88,358.48 606.9,364 C614.92,369.52 625.95,377.28 633.5,382.4 C641.05,387.52 647.03,391.5 652.2,394.7 C657.37,397.9 662.45,400.45 664.5,401.6 L453.9,469" fill="none" stroke="#111" stroke-width="1.5" stroke-linejoin="round"/>
<rect x="529.2" y="263.8" width="140.6" height="22.4" fill="#cfcfcf"/>
<rect x="529.2" y="288.2" width="140.6" height="19.2" fill="#060606"/>
<rect x="531.1" y="265.5" width="17.2" height="19" fill="#ececec"/>
<rect x="531.9" y="267" width="15.6" height="15.4" fill="#d8d8d8"/>
<rect x="533.1" y="268" width="13.2" height="13.4" rx="3" fill="#3a3a3a"/>
<rect x="534.1" y="264.4" width="11" height="1" fill="#777"/>
<rect x="534.1" y="283.9" width="11" height="1" fill="#777"/>
<rect x="531.1" y="289.6" width="17.6" height="16.4" rx="1.5" fill="#1020b8"/>
<rect x="533.3" y="291.4" width="13.2" height="12.8" rx="5" fill="#2838d8"/>
<rect x="551.15" y="265.5" width="17.2" height="19" fill="#ececec"/>
<rect x="551.95" y="267" width="15.6" height="15.4" fill="#e8d070"/>
<rect x="553.15" y="268" width="13.2" height="13.4" rx="3" fill="#e6c43c"/>
<rect x="554.15" y="264.4" width="11" height="1" fill="#777"/>
<rect x="554.15" y="283.9" width="11" height="1" fill="#777"/>
<rect x="551.15" y="289.6" width="17.6" height="16.4" rx="1.5" fill="#28c8d8"/>
<rect x="553.35" y="291.4" width="13.2" height="12.8" rx="5" fill="#40f0c0"/>
<rect x="571.2" y="265.5" width="17.2" height="19" fill="#ececec"/>
<rect x="572" y="267" width="15.6" height="15.4" fill="#e8d070"/>
<rect x="573.2" y="268" width="13.2" height="13.4" rx="3" fill="#e2c42a"/>
<rect x="574.2" y="264.4" width="11" height="1" fill="#777"/>
<rect x="574.2" y="283.9" width="11" height="1" fill="#777"/>
<rect x="571.2" y="289.6" width="17.6" height="16.4" rx="1.5" fill="#20b040"/>
<rect x="573.4" y="291.4" width="13.2" height="12.8" rx="5" fill="#50f078"/>
<rect x="591.25" y="265.5" width="17.2" height="19" fill="#ececec"/>
<rect x="592.05" y="267" width="15.6" height="15.4" fill="#e8d070"/>
<rect x="593.25" y="268" width="13.2" height="13.4" rx="3" fill="#e8801c"/>
<rect x="594.25" y="264.4" width="11" height="1" fill="#777"/>
<rect x="594.25" y="283.9" width="11" height="1" fill="#777"/>
<rect x="591.25" y="289.6" width="17.6" height="16.4" rx="1.5" fill="#60b818"/>
<rect x="593.45" y="291.4" width="13.2" height="12.8" rx="5" fill="#e4f430"/>
<rect x="611.3" y="265.5" width="17.2" height="19" fill="#ececec"/>
<rect x="612.1" y="267" width="15.6" height="15.4" fill="#e8d070"/>
<rect x="613.3" y="268" width="13.2" height="13.4" rx="3" fill="#f06424"/>
<rect x="614.3" y="264.4" width="11" height="1" fill="#777"/>
<rect x="614.3" y="283.9" width="11" height="1" fill="#777"/>
<rect x="611.3" y="289.6" width="17.6" height="16.4" rx="1.5" fill="#d8b418"/>
<rect x="613.5" y="291.4" width="13.2" height="12.8" rx="5" fill="#fcf838"/>
<rect x="631.35" y="265.5" width="17.2" height="19" fill="#ececec"/>
<rect x="632.15" y="267" width="15.6" height="15.4" fill="#e8d070"/>
<rect x="633.35" y="268" width="13.2" height="13.4" rx="3" fill="#f84858"/>
<rect x="634.35" y="264.4" width="11" height="1" fill="#777"/>
<rect x="634.35" y="283.9" width="11" height="1" fill="#777"/>
<rect x="631.35" y="289.6" width="17.6" height="16.4" rx="1.5" fill="#ff8c00"/>
<rect x="633.55" y="291.4" width="13.2" height="12.8" rx="5" fill="#fff040"/>
<rect x="651.4" y="265.5" width="17.2" height="19" fill="#ececec"/>
<rect x="652.2" y="267" width="15.6" height="15.4" fill="#e8d070"/>
<rect x="653.4" y="268" width="13.2" height="13.4" rx="3" fill="#d62884"/>
<rect x="654.4" y="264.4" width="11" height="1" fill="#777"/>
<rect x="654.4" y="283.9" width="11" height="1" fill="#777"/>
<rect x="651.4" y="289.6" width="17.6" height="16.4" rx="1.5" fill="#ff2a10"/>
<rect x="653.6" y="291.4" width="13.2" height="12.8" rx="5" fill="#ff5a24"/>
<rect x="533" y="291.2" width="13.8" height="13" rx="4" fill="none" stroke="#e0e8ff" stroke-width="1"/>
<rect x="535.3" y="295" width="2.2" height="5" fill="#fff"/><rect x="538.8" y="295" width="2.2" height="5" fill="#fff"/><rect x="542.3" y="295" width="2.2" height="5" fill="#fff"/>
<rect x="535.3" y="270" width="2" height="6" fill="#ddd"/><rect x="538.6" y="270" width="2" height="6" fill="#ddd"/><rect x="541.9" y="270" width="2" height="6" fill="#ddd"/>
<path d="M426.85,472v-2.5 M465.3,472v-3.8 M503.75,472v-2.5 M542.2,472v-3.8 M580.65,472v-2.5 M619.1,472v-3.8 M657.55,472v-2.5 M389.1,447.15h2.5 M389.1,421.7h3.8 M389.1,396.25h2.5 M389.1,370.8h3.8 M389.1,345.35h2.5 M389.1,319.9h3.8 M389.1,294.45h2.5 M389.1,269h3.8" stroke="#111" stroke-width="1.4" fill="none"/>
<rect x="388.4" y="261.5" width="283.5" height="211.2" fill="none" stroke="#111" stroke-width="1.6"/>
<polygon points="446.7,275.7 448.95,281.11 454.78,281.57 450.34,285.38 451.7,291.08 446.7,288.02 441.7,291.08 443.06,285.38 438.62,281.57 444.45,281.11" fill="#0000ff"/>
<polygon points="552.7,320.9 554.95,326.31 560.78,326.77 556.34,330.58 557.7,336.28 552.7,333.22 547.7,336.28 549.06,330.58 544.62,326.77 550.45,326.31" fill="#ff00ff"/>
<polygon points="582.4,339.1 584.65,344.51 590.48,344.97 586.04,348.78 587.4,354.48 582.4,351.43 577.4,354.48 578.76,348.78 574.32,344.97 580.15,344.51" fill="#008000"/>
<polygon points="610.7,358.7 612.95,364.11 618.78,364.57 614.34,368.38 615.7,374.08 610.7,371.02 605.7,374.08 607.06,368.38 602.62,364.57 608.45,364.11" fill="#000099"/>
<polygon points="661.9,391.9 664.15,397.31 669.98,397.77 665.54,401.58 666.9,407.28 661.9,404.22 656.9,407.28 658.26,401.58 653.82,397.77 659.65,397.31" fill="#800000"/>
<polygon points="422.3,389.4 424.55,394.81 430.38,395.27 425.94,399.08 427.3,404.78 422.3,401.72 417.3,404.78 418.66,399.08 414.22,395.27 420.05,394.81" fill="#ff0000"/>
<polygon points="446.1,455.9 448.35,461.31 454.18,461.77 449.74,465.58 451.1,471.28 446.1,468.22 441.1,471.28 442.46,465.58 438.02,461.77 443.85,461.31" fill="#000000"/>
<text x="423.3" y="470.2" text-anchor="middle" font-family='"Liberation Sans", sans-serif' font-size="14" fill="#111">LED</text>
<g font-family='"Liberation Sans", sans-serif' font-size="14" text-anchor="middle">
<text x="448.9" y="305.2" fill="#1010ff">G</text>
<text x="552.5" y="348.2" fill="#ff10ff">Y</text>
<text x="582.1" y="366.9" fill="#108010">A</text>
<text x="611.1" y="386.7" fill="#101095">O</text>
<text x="660.8" y="421.4" fill="#851010">R</text>
<text x="423.5" y="418.6" fill="#ff1010">C</text>
<text x="423.3" y="452.2" fill="#111111">B</text>
</g>
<g font-family='"Liberation Sans", sans-serif' font-size="15.2" fill="#111">
<text x="384.5" y="474.8" text-anchor="end">0.0</text>
<text x="384.5" y="427.3" text-anchor="end">0.2</text>
<text x="384.5" y="376.4" text-anchor="end">0.4</text>
<text x="384.5" y="325.5" text-anchor="end">0.6</text>
<text x="384.5" y="274.6" text-anchor="end">0.8</text>
<text x="389.4" y="488.1" text-anchor="middle">0.0</text>
<text x="465.7" y="488.1" text-anchor="middle">0.2</text>
<text x="542" y="488.1" text-anchor="middle">0.4</text>
<text x="618.3" y="488.1" text-anchor="middle">0.6</text>
</g>
<text x="518.7" y="504.2" text-anchor="middle" font-family='"Liberation Sans", sans-serif' font-size="17.2" fill="#111">CIE x</text>
<text transform="translate(357.3,371.6) rotate(-90)" text-anchor="middle" font-family='"Liberation Sans", sans-serif' font-size="17.2" fill="#111">CIE y</text>
<text x="644.5" y="464.2" font-family='"Liberation Sans", sans-serif' font-size="18" fill="#111">(d)</text>
<text x="14" y="530.2" font-family='"Liberation Sans", sans-serif' font-size="18" fill="#111">(e)</text>
<rect x="10.7" y="539.7" width="651.3" height="2.6" fill="#000"/>
<rect x="10.7" y="597.3" width="651.3" height="1.5" fill="#111"/>
<rect x="10.7" y="759.4" width="651.3" height="2.6" fill="#000"/>
<g font-family='"Liberation Sans", sans-serif' font-weight="bold" font-size="15.5" fill="#111" text-anchor="middle">
<text x="95.2" y="575.6">Sample</text>
<text x="228.4" y="575.8">CIE x</text>
<text x="324.9" y="575.8">CIE y</text>
<text x="421.1" y="575.8">QY</text>
<text x="517.9" y="556.9">Peak</text>
<text x="517.9" y="575.6">wavelength</text>
<text x="517.9" y="594.2">(nm)</text>
<text x="613.7" y="566.3">FWHM</text>
<text x="613.7" y="584.9">(nm)</text>
</g>
<g font-family='"Liberation Sans", sans-serif' font-size="14.6" fill="#111" text-anchor="middle">
<text x="95" y="617.8" font-size="15.2" letter-spacing="0.5" xml:space="preserve"><tspan>CsPb(Br</tspan><tspan font-size="10.6" letter-spacing="-0.3" dy="1">0.75</tspan><tspan font-size="15.2" letter-spacing="0.5" dy="-1">,Cl</tspan><tspan font-size="10.6" letter-spacing="-0.3" dy="1">0.25</tspan><tspan font-size="15.2" letter-spacing="0.5" dy="-1">)</tspan><tspan font-size="10.6" letter-spacing="-0.3" dy="1">3</tspan><tspan font-size="15.2" letter-spacing="0.5" dy="-1"> C</tspan></text>
<text x="228.4" y="617.8">0.050</text>
<text x="324.8" y="617.8">0.384</text>
<text x="420.9" y="617.8">0.64</text>
<text x="517.5" y="617.8">488</text>
<text x="613.6" y="617.8">16</text>
<text x="95" y="645.1" font-size="15.2" letter-spacing="0.5" xml:space="preserve"><tspan>CsPbBr</tspan><tspan font-size="10.6" letter-spacing="-0.3" dy="1">3</tspan><tspan font-size="15.2" letter-spacing="0.5" dy="-1"> G</tspan></text>
<text x="228.4" y="645.1">0.097</text>
<text x="324.8" y="645.1">0.774</text>
<text x="420.9" y="645.1">0.80</text>
<text x="517.5" y="645.1">517</text>
<text x="613.6" y="645.1">17</text>
<text x="95" y="672.2" font-size="15.2" letter-spacing="0.5" xml:space="preserve"><tspan>CsPb(Br</tspan><tspan font-size="10.6" letter-spacing="-0.3" dy="1">0.65</tspan><tspan font-size="15.2" letter-spacing="0.5" dy="-1">,I</tspan><tspan font-size="10.6" letter-spacing="-0.3" dy="1">0.35</tspan><tspan font-size="15.2" letter-spacing="0.5" dy="-1">)</tspan><tspan font-size="10.6" letter-spacing="-0.3" dy="1">3</tspan><tspan font-size="15.2" letter-spacing="0.5" dy="-1"> Y</tspan></text>
<text x="228.4" y="672.2">0.362</text>
<text x="324.8" y="672.2">0.632</text>
<text x="420.9" y="672.2">0.48</text>
<text x="517.5" y="672.2">553</text>
<text x="613.6" y="672.2">22</text>
<text x="95" y="699.4" font-size="15.2" letter-spacing="0.5" xml:space="preserve"><tspan>CsPb(Br</tspan><tspan font-size="10.6" letter-spacing="-0.3" dy="1">0.6</tspan><tspan font-size="15.2" letter-spacing="0.5" dy="-1">,I</tspan><tspan font-size="10.6" letter-spacing="-0.3" dy="1">0.4</tspan><tspan font-size="15.2" letter-spacing="0.5" dy="-1">)</tspan><tspan font-size="10.6" letter-spacing="-0.3" dy="1">3</tspan><tspan font-size="15.2" letter-spacing="0.5" dy="-1"> A</tspan></text>
<text x="228.4" y="699.4">0.443</text>
<text x="324.8" y="699.4">0.555</text>
<text x="420.9" y="699.4">0.50</text>
<text x="517.5" y="699.4">567</text>
<text x="613.6" y="699.4">24</text>
<text x="95" y="726.1" font-size="15.2" letter-spacing="0.5" xml:space="preserve"><tspan>CsPb(Br</tspan><tspan font-size="10.6" letter-spacing="-0.3" dy="1">0.5</tspan><tspan font-size="15.2" letter-spacing="0.5" dy="-1">I</tspan><tspan font-size="10.6" letter-spacing="-0.3" dy="1">0.5</tspan><tspan font-size="15.2" letter-spacing="0.5" dy="-1">)</tspan><tspan font-size="10.6" letter-spacing="-0.3" dy="1">3</tspan><tspan font-size="15.2" letter-spacing="0.5" dy="-1"> O</tspan></text>
<text x="228.4" y="726.1">0.596</text>
<text x="324.8" y="726.1">0.404</text>
<text x="420.9" y="726.1">0.53</text>
<text x="517.5" y="726.1">585</text>
<text x="613.6" y="726.1">27</text>
<text x="95" y="753.4" font-size="15.2" letter-spacing="0.5" xml:space="preserve"><tspan>CsPb(Br</tspan><tspan font-size="10.6" letter-spacing="-0.3" dy="1">0.35</tspan><tspan font-size="15.2" letter-spacing="0.5" dy="-1">,I</tspan><tspan font-size="10.6" letter-spacing="-0.3" dy="1">0.65</tspan><tspan font-size="15.2" letter-spacing="0.5" dy="-1">)</tspan><tspan font-size="10.6" letter-spacing="-0.3" dy="1">3</tspan><tspan font-size="15.2" letter-spacing="0.5" dy="-1"> R</tspan></text>
<text x="228.4" y="753.4">0.705</text>
<text x="324.8" y="753.4">0.291</text>
<text x="420.9" y="753.4">0.72</text>
<text x="517.5" y="753.4">644</text>
<text x="613.6" y="753.4">31</text>
</g>
</svg></body></html>
